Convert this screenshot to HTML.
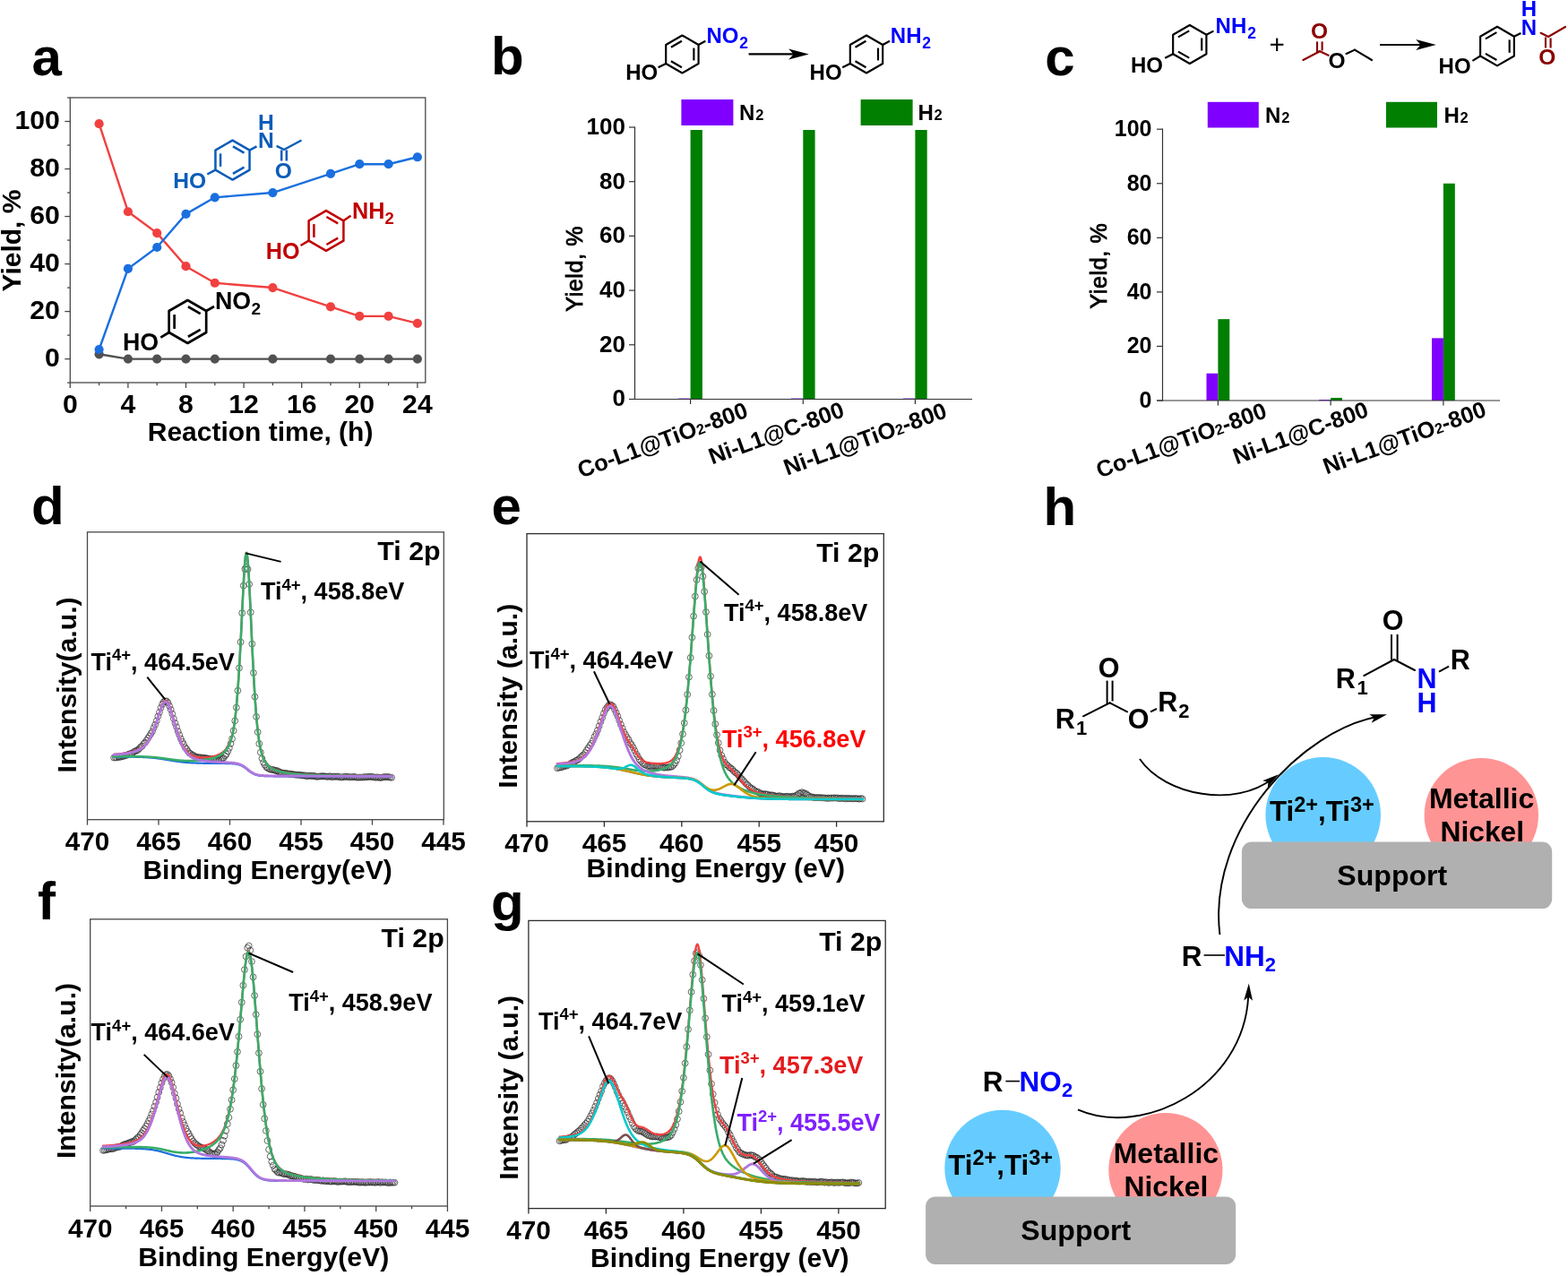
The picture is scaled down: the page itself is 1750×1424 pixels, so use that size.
<!DOCTYPE html>
<html lang="en"><head><meta charset="utf-8"><title>Figure</title>
<style>html,body{margin:0;padding:0;background:#fff}svg{display:block}</style>
</head><body>
<svg width="1750" height="1424" viewBox="0 0 1750 1424" font-family="'Liberation Sans', sans-serif" font-weight="bold">
<rect width="1750" height="1424" fill="#fff"/>
<text x="35.5" y="83.5" font-size="60">a</text>
<text x="548" y="82.8" font-size="60">b</text>
<text x="1166.3" y="84" font-size="60">c</text>
<text x="35" y="584.5" font-size="60">d</text>
<text x="548.5" y="585" font-size="60">e</text>
<text x="42" y="1026.3" font-size="60">f</text>
<text x="548" y="1027.3" font-size="60">g</text>
<text x="1164.4" y="585.5" font-size="60">h</text>
<g id="panel-a">
<rect x="78.3" y="109.0" width="396.5" height="318.0" fill="none" stroke="#484848" stroke-width="1.3"/>
<line x1="75.1" y1="427.11" x2="78.3" y2="427.11" stroke="#484848" stroke-width="1.3"/>
<line x1="72.3" y1="400.6" x2="78.3" y2="400.6" stroke="#484848" stroke-width="1.3"/>
<text x="66.9" y="409.4" font-size="30.2" text-anchor="end">0</text>
<line x1="75.1" y1="374.09" x2="78.3" y2="374.09" stroke="#484848" stroke-width="1.3"/>
<line x1="72.3" y1="347.58" x2="78.3" y2="347.58" stroke="#484848" stroke-width="1.3"/>
<text x="66.9" y="356.38" font-size="30.2" text-anchor="end">20</text>
<line x1="75.1" y1="321.07" x2="78.3" y2="321.07" stroke="#484848" stroke-width="1.3"/>
<line x1="72.3" y1="294.56" x2="78.3" y2="294.56" stroke="#484848" stroke-width="1.3"/>
<text x="66.9" y="303.36" font-size="30.2" text-anchor="end">40</text>
<line x1="75.1" y1="268.05" x2="78.3" y2="268.05" stroke="#484848" stroke-width="1.3"/>
<line x1="72.3" y1="241.54" x2="78.3" y2="241.54" stroke="#484848" stroke-width="1.3"/>
<text x="66.9" y="250.34" font-size="30.2" text-anchor="end">60</text>
<line x1="75.1" y1="215.03" x2="78.3" y2="215.03" stroke="#484848" stroke-width="1.3"/>
<line x1="72.3" y1="188.52" x2="78.3" y2="188.52" stroke="#484848" stroke-width="1.3"/>
<text x="66.9" y="197.32" font-size="30.2" text-anchor="end">80</text>
<line x1="75.1" y1="162.01" x2="78.3" y2="162.01" stroke="#484848" stroke-width="1.3"/>
<line x1="72.3" y1="135.5" x2="78.3" y2="135.5" stroke="#484848" stroke-width="1.3"/>
<text x="66.9" y="144.3" font-size="30.2" text-anchor="end">100</text>
<line x1="75.1" y1="108.99" x2="78.3" y2="108.99" stroke="#484848" stroke-width="1.3"/>
<line x1="78.3" y1="427" x2="78.3" y2="433" stroke="#484848" stroke-width="1.3"/>
<text x="78.3" y="461.2" font-size="30.2" text-anchor="middle">0</text>
<line x1="110.6" y1="427" x2="110.6" y2="430.2" stroke="#484848" stroke-width="1.3"/>
<line x1="142.9" y1="427" x2="142.9" y2="433" stroke="#484848" stroke-width="1.3"/>
<text x="142.9" y="461.2" font-size="30.2" text-anchor="middle">4</text>
<line x1="175.2" y1="427" x2="175.2" y2="430.2" stroke="#484848" stroke-width="1.3"/>
<line x1="207.5" y1="427" x2="207.5" y2="433" stroke="#484848" stroke-width="1.3"/>
<text x="207.5" y="461.2" font-size="30.2" text-anchor="middle">8</text>
<line x1="239.8" y1="427" x2="239.8" y2="430.2" stroke="#484848" stroke-width="1.3"/>
<line x1="272.1" y1="427" x2="272.1" y2="433" stroke="#484848" stroke-width="1.3"/>
<text x="272.1" y="461.2" font-size="30.2" text-anchor="middle">12</text>
<line x1="304.4" y1="427" x2="304.4" y2="430.2" stroke="#484848" stroke-width="1.3"/>
<line x1="336.7" y1="427" x2="336.7" y2="433" stroke="#484848" stroke-width="1.3"/>
<text x="336.7" y="461.2" font-size="30.2" text-anchor="middle">16</text>
<line x1="369" y1="427" x2="369" y2="430.2" stroke="#484848" stroke-width="1.3"/>
<line x1="401.3" y1="427" x2="401.3" y2="433" stroke="#484848" stroke-width="1.3"/>
<text x="401.3" y="461.2" font-size="30.2" text-anchor="middle">20</text>
<line x1="433.6" y1="427" x2="433.6" y2="430.2" stroke="#484848" stroke-width="1.3"/>
<line x1="465.9" y1="427" x2="465.9" y2="433" stroke="#484848" stroke-width="1.3"/>
<text x="465.9" y="461.2" font-size="30.2" text-anchor="middle">24</text>
<text x="290.6" y="492.3" font-size="30" text-anchor="middle">Reaction time, (h)</text>
<text x="0" y="0" font-size="30" text-anchor="middle" transform="translate(23 268.5) rotate(-90)">Yield, %</text>
<polyline points="110.6,395.3 142.9,400.6 175.2,400.6 207.5,400.6 239.8,400.6 304.4,400.6 369,400.6 401.3,400.6 433.6,400.6 465.9,400.6" fill="none" stroke="#515151" stroke-width="2.4" stroke-linejoin="round"/>
<circle cx="110.6" cy="395.3" r="5.1" fill="#515151"/>
<circle cx="142.9" cy="400.6" r="5.1" fill="#515151"/>
<circle cx="175.2" cy="400.6" r="5.1" fill="#515151"/>
<circle cx="207.5" cy="400.6" r="5.1" fill="#515151"/>
<circle cx="239.8" cy="400.6" r="5.1" fill="#515151"/>
<circle cx="304.4" cy="400.6" r="5.1" fill="#515151"/>
<circle cx="369" cy="400.6" r="5.1" fill="#515151"/>
<circle cx="401.3" cy="400.6" r="5.1" fill="#515151"/>
<circle cx="433.6" cy="400.6" r="5.1" fill="#515151"/>
<circle cx="465.9" cy="400.6" r="5.1" fill="#515151"/>
<polyline points="110.6,138.15 142.9,236.24 175.2,260.1 207.5,297.21 239.8,315.77 304.4,321.07 369,342.28 401.3,352.88 433.6,352.88 465.9,360.84" fill="none" stroke="#f14040" stroke-width="2.4" stroke-linejoin="round"/>
<circle cx="110.6" cy="138.15" r="5.1" fill="#f14040"/>
<circle cx="142.9" cy="236.24" r="5.1" fill="#f14040"/>
<circle cx="175.2" cy="260.1" r="5.1" fill="#f14040"/>
<circle cx="207.5" cy="297.21" r="5.1" fill="#f14040"/>
<circle cx="239.8" cy="315.77" r="5.1" fill="#f14040"/>
<circle cx="304.4" cy="321.07" r="5.1" fill="#f14040"/>
<circle cx="369" cy="342.28" r="5.1" fill="#f14040"/>
<circle cx="401.3" cy="352.88" r="5.1" fill="#f14040"/>
<circle cx="433.6" cy="352.88" r="5.1" fill="#f14040"/>
<circle cx="465.9" cy="360.84" r="5.1" fill="#f14040"/>
<polyline points="110.6,390 142.9,299.86 175.2,276 207.5,238.89 239.8,220.33 304.4,215.03 369,193.82 401.3,183.22 433.6,183.22 465.9,175.27" fill="none" stroke="#1a6fdf" stroke-width="2.4" stroke-linejoin="round"/>
<circle cx="110.6" cy="390" r="5.1" fill="#1a6fdf"/>
<circle cx="142.9" cy="299.86" r="5.1" fill="#1a6fdf"/>
<circle cx="175.2" cy="276" r="5.1" fill="#1a6fdf"/>
<circle cx="207.5" cy="238.89" r="5.1" fill="#1a6fdf"/>
<circle cx="239.8" cy="220.33" r="5.1" fill="#1a6fdf"/>
<circle cx="304.4" cy="215.03" r="5.1" fill="#1a6fdf"/>
<circle cx="369" cy="193.82" r="5.1" fill="#1a6fdf"/>
<circle cx="401.3" cy="183.22" r="5.1" fill="#1a6fdf"/>
<circle cx="433.6" cy="183.22" r="5.1" fill="#1a6fdf"/>
<circle cx="465.9" cy="175.27" r="5.1" fill="#1a6fdf"/>
<path d="M259.5 156.6 L278.55 167.6 L278.55 189.6 L259.5 200.6 L240.45 189.6 L240.45 167.6 Z" stroke="#0b5cb8" stroke-width="2.5" fill="none" stroke-linejoin="round"/>
<line x1="246.05" y1="185.86" x2="246.05" y2="171.34" stroke="#0b5cb8" stroke-width="2.5"/>
<line x1="259.94" y1="163.32" x2="272.51" y2="170.58" stroke="#0b5cb8" stroke-width="2.5"/>
<line x1="272.51" y1="186.62" x2="259.94" y2="193.88" stroke="#0b5cb8" stroke-width="2.5"/>
<line x1="278.55" y1="167.6" x2="286.5" y2="163.3" stroke="#0b5cb8" stroke-width="2.5"/>
<text x="288" y="165.3" font-size="24.6" fill="#0b5cb8">N</text>
<text x="288" y="144.6" font-size="24.6" fill="#0b5cb8">H</text>
<line x1="308.6" y1="162.8" x2="317" y2="167" stroke="#0b5cb8" stroke-width="2.5"/>
<line x1="317" y1="167" x2="335.6" y2="157" stroke="#0b5cb8" stroke-width="2.5" stroke-linecap="round"/>
<line x1="314.2" y1="167.5" x2="314.2" y2="179.5" stroke="#0b5cb8" stroke-width="2.5"/>
<line x1="319.8" y1="167.5" x2="319.8" y2="179.5" stroke="#0b5cb8" stroke-width="2.5"/>
<text x="306.8" y="198.8" font-size="24.6" fill="#0b5cb8">O</text>
<line x1="240.45" y1="189.6" x2="231.3" y2="194.5" stroke="#0b5cb8" stroke-width="2.5"/>
<text x="193.2" y="210.2" font-size="24.6" fill="#0b5cb8">HO</text>
<path d="M364 235.1 L383.4 246.3 L383.4 268.7 L364 279.9 L344.6 268.7 L344.6 246.3 Z" stroke="#c00000" stroke-width="2.5" fill="none" stroke-linejoin="round"/>
<line x1="350.4" y1="264.89" x2="350.4" y2="250.11" stroke="#c00000" stroke-width="2.5"/>
<line x1="364.4" y1="242.03" x2="377.2" y2="249.42" stroke="#c00000" stroke-width="2.5"/>
<line x1="377.2" y1="265.58" x2="364.4" y2="272.97" stroke="#c00000" stroke-width="2.5"/>
<line x1="383.4" y1="246.3" x2="391.5" y2="240.8" stroke="#c00000" stroke-width="2.5"/>
<text x="393" y="244" font-size="25.2" fill="#c00000">NH</text>
<text x="429.4" y="249.8" font-size="18.5" fill="#c00000">2</text>
<line x1="344.6" y1="268.7" x2="335.5" y2="274" stroke="#c00000" stroke-width="2.5"/>
<text x="296.7" y="289.2" font-size="25.2" fill="#c00000">HO</text>
<path d="M209.4 335 L230.18 347 L230.18 371 L209.4 383 L188.62 371 L188.62 347 Z" stroke="#000" stroke-width="2.7" fill="none" stroke-linejoin="round"/>
<line x1="194.62" y1="366.92" x2="194.62" y2="351.08" stroke="#000" stroke-width="2.7"/>
<line x1="209.93" y1="342.24" x2="223.65" y2="350.16" stroke="#000" stroke-width="2.7"/>
<line x1="223.65" y1="367.84" x2="209.93" y2="375.76" stroke="#000" stroke-width="2.7"/>
<line x1="230.18" y1="347" x2="239" y2="342" stroke="#000" stroke-width="2.7"/>
<text x="240" y="345.2" font-size="26.8">NO</text>
<text x="280.6" y="350.8" font-size="19">2</text>
<line x1="188.62" y1="371" x2="179.3" y2="376.6" stroke="#000" stroke-width="2.7"/>
<text x="137" y="391.4" font-size="26.8">HO</text>
</g>
<g id="panel-b">
<rect x="757.3" y="444.59" width="13.3" height="0.91" fill="#7f00ff"/>
<rect x="770.6" y="145.03" width="13.3" height="300.47" fill="#007f00"/>
<rect x="883" y="444.59" width="13.3" height="0.91" fill="#7f00ff"/>
<rect x="896.3" y="145.03" width="13.3" height="300.47" fill="#007f00"/>
<rect x="1008.1" y="444.59" width="13.3" height="0.91" fill="#7f00ff"/>
<rect x="1021.4" y="145.03" width="13.3" height="300.47" fill="#007f00"/>
<line x1="708.5" y1="141.4" x2="708.5" y2="446.1" stroke="#333" stroke-width="1.2"/>
<line x1="702.5" y1="445.5" x2="1085" y2="445.5" stroke="#333" stroke-width="1.2"/>
<line x1="702" y1="445.5" x2="708.5" y2="445.5" stroke="#333" stroke-width="1.2"/>
<text x="698" y="453.46" font-size="26" text-anchor="end">0</text>
<line x1="702" y1="384.8" x2="708.5" y2="384.8" stroke="#333" stroke-width="1.2"/>
<text x="698" y="392.76" font-size="26" text-anchor="end">20</text>
<line x1="702" y1="324.1" x2="708.5" y2="324.1" stroke="#333" stroke-width="1.2"/>
<text x="698" y="332.06" font-size="26" text-anchor="end">40</text>
<line x1="702" y1="263.4" x2="708.5" y2="263.4" stroke="#333" stroke-width="1.2"/>
<text x="698" y="271.36" font-size="26" text-anchor="end">60</text>
<line x1="702" y1="202.7" x2="708.5" y2="202.7" stroke="#333" stroke-width="1.2"/>
<text x="698" y="210.66" font-size="26" text-anchor="end">80</text>
<line x1="702" y1="142" x2="708.5" y2="142" stroke="#333" stroke-width="1.2"/>
<text x="698" y="149.96" font-size="26" text-anchor="end">100</text>
<line x1="770.6" y1="445.5" x2="770.6" y2="451" stroke="#333" stroke-width="1.2"/>
<line x1="896.3" y1="445.5" x2="896.3" y2="451" stroke="#333" stroke-width="1.2"/>
<line x1="1021.4" y1="445.5" x2="1021.4" y2="451" stroke="#333" stroke-width="1.2"/>
<text x="0" y="0" font-size="25.1" text-anchor="middle" font-weight="normal" transform="translate(650 299.8) rotate(-90)" stroke="#000" stroke-width="0.85" letter-spacing="0.6">Yield, %</text>
<text x="0" y="0" font-size="25.6" text-anchor="end" transform="translate(836.3 464.8) rotate(-20.2)">Co-L1@TiO<tspan font-size="0.64em">2</tspan>-800</text>
<text x="0" y="0" font-size="25.6" text-anchor="end" transform="translate(943.8 464.3) rotate(-20)">Ni-L1@C-800</text>
<text x="0" y="0" font-size="25.6" text-anchor="end" transform="translate(1058.4 465.3) rotate(-20)">Ni-L1@TiO<tspan font-size="0.64em">2</tspan>-800</text>
<rect x="760.4" y="111" width="58" height="29" fill="#7f00ff"/>
<text x="825" y="134.2" font-size="24">N<tspan font-size="16.5" dx="0.8">2</tspan></text>
<rect x="960.6" y="111" width="58" height="29" fill="#007f00"/>
<text x="1024.4" y="134.2" font-size="24">H<tspan font-size="16.5" dx="0.8">2</tspan></text>
</g>
<g id="panel-c">
<rect x="1346.5" y="416.72" width="12.9" height="30.28" fill="#7f00ff"/>
<rect x="1359.4" y="356.16" width="12.9" height="90.84" fill="#007f00"/>
<rect x="1472.2" y="446.09" width="12.9" height="0.91" fill="#7f00ff"/>
<rect x="1485.1" y="443.97" width="12.9" height="3.03" fill="#007f00"/>
<rect x="1598" y="377.36" width="12.9" height="69.64" fill="#7f00ff"/>
<rect x="1610.9" y="204.76" width="12.9" height="242.24" fill="#007f00"/>
<line x1="1297.5" y1="143.6" x2="1297.5" y2="447.6" stroke="#333" stroke-width="1.2"/>
<line x1="1291" y1="447" x2="1674" y2="447" stroke="#333" stroke-width="1.2"/>
<line x1="1291" y1="447" x2="1297.5" y2="447" stroke="#333" stroke-width="1.2"/>
<text x="1285.5" y="454.9" font-size="25" text-anchor="end">0</text>
<line x1="1291" y1="386.44" x2="1297.5" y2="386.44" stroke="#333" stroke-width="1.2"/>
<text x="1285.5" y="394.34" font-size="25" text-anchor="end">20</text>
<line x1="1291" y1="325.88" x2="1297.5" y2="325.88" stroke="#333" stroke-width="1.2"/>
<text x="1285.5" y="333.78" font-size="25" text-anchor="end">40</text>
<line x1="1291" y1="265.32" x2="1297.5" y2="265.32" stroke="#333" stroke-width="1.2"/>
<text x="1285.5" y="273.22" font-size="25" text-anchor="end">60</text>
<line x1="1291" y1="204.76" x2="1297.5" y2="204.76" stroke="#333" stroke-width="1.2"/>
<text x="1285.5" y="212.66" font-size="25" text-anchor="end">80</text>
<line x1="1291" y1="144.2" x2="1297.5" y2="144.2" stroke="#333" stroke-width="1.2"/>
<text x="1285.5" y="152.1" font-size="25" text-anchor="end">100</text>
<line x1="1359.4" y1="447" x2="1359.4" y2="452.5" stroke="#333" stroke-width="1.2"/>
<line x1="1485.1" y1="447" x2="1485.1" y2="452.5" stroke="#333" stroke-width="1.2"/>
<line x1="1610.9" y1="447" x2="1610.9" y2="452.5" stroke="#333" stroke-width="1.2"/>
<text x="0" y="0" font-size="25.1" text-anchor="middle" font-weight="normal" transform="translate(1235.2 296.6) rotate(-90)" stroke="#000" stroke-width="0.85" letter-spacing="0.6">Yield, %</text>
<text x="0" y="0" font-size="25.6" text-anchor="end" transform="translate(1415.3 465.3) rotate(-20)">Co-L1@TiO<tspan font-size="0.64em">2</tspan>-800</text>
<text x="0" y="0" font-size="25.6" text-anchor="end" transform="translate(1529 464.2) rotate(-20)">Ni-L1@C-800</text>
<text x="0" y="0" font-size="25.6" text-anchor="end" transform="translate(1660.5 464) rotate(-20)">Ni-L1@TiO<tspan font-size="0.64em">2</tspan>-800</text>
<rect x="1347.8" y="113.8" width="57" height="28.7" fill="#7f00ff"/>
<text x="1412" y="136.5" font-size="24">N<tspan font-size="16.5" dx="0.8">2</tspan></text>
<rect x="1547" y="113.8" width="57" height="28.7" fill="#007f00"/>
<text x="1611.4" y="136.5" font-size="24">H<tspan font-size="16.5" dx="0.8">2</tspan></text>
</g>
<g id="scheme-b">
<path d="M761.4 39.5 L779.59 50 L779.59 71 L761.4 81.5 L743.21 71 L743.21 50 Z" stroke="#000" stroke-width="2.15" fill="none" stroke-linejoin="round"/>
<line x1="748.91" y1="52.72" x2="760.91" y2="45.79" stroke="#000" stroke-width="2.15"/>
<line x1="774.39" y1="53.57" x2="774.39" y2="67.43" stroke="#000" stroke-width="2.15"/>
<line x1="760.91" y1="75.21" x2="748.91" y2="68.28" stroke="#000" stroke-width="2.15"/>
<line x1="779.59" y1="50" x2="787.4" y2="45.8" stroke="#000" stroke-width="2.15"/>
<text x="788.4" y="48.2" font-size="24" fill="#0000ff">NO</text>
<text x="825.2" y="53.8" font-size="17.5" fill="#0000ff">2</text>
<line x1="743.21" y1="71" x2="734.6" y2="75.2" stroke="#000" stroke-width="2.15"/>
<text x="698.2" y="89.2" font-size="24">HO</text>
<line x1="835.6" y1="60.4" x2="888" y2="60.4" stroke="#000" stroke-width="2.15"/>
<path d="M902.8 60.4 L880.2 66.4 L885.62 60.4 L880.2 54.4 Z" fill="#000"/>
<path d="M967 39.5 L985.19 50 L985.19 71 L967 81.5 L948.81 71 L948.81 50 Z" stroke="#000" stroke-width="2.15" fill="none" stroke-linejoin="round"/>
<line x1="954.51" y1="52.72" x2="966.51" y2="45.79" stroke="#000" stroke-width="2.15"/>
<line x1="979.99" y1="53.57" x2="979.99" y2="67.43" stroke="#000" stroke-width="2.15"/>
<line x1="966.51" y1="75.21" x2="954.51" y2="68.28" stroke="#000" stroke-width="2.15"/>
<line x1="985.19" y1="50" x2="993" y2="45.8" stroke="#000" stroke-width="2.15"/>
<text x="993.8" y="48.2" font-size="24" fill="#0000ff">NH</text>
<text x="1029.2" y="53.8" font-size="17.5" fill="#0000ff">2</text>
<line x1="948.81" y1="71" x2="940.2" y2="75.2" stroke="#000" stroke-width="2.15"/>
<text x="903.6" y="89.2" font-size="24">HO</text>
</g>
<g id="scheme-c">
<path d="M1327.8 28 L1346.42 38.75 L1346.42 60.25 L1327.8 71 L1309.18 60.25 L1309.18 38.75 Z" stroke="#000" stroke-width="2.15" fill="none" stroke-linejoin="round"/>
<line x1="1314.95" y1="41.43" x2="1327.23" y2="34.33" stroke="#000" stroke-width="2.15"/>
<line x1="1341.22" y1="42.41" x2="1341.22" y2="56.59" stroke="#000" stroke-width="2.15"/>
<line x1="1327.23" y1="64.67" x2="1314.95" y2="57.57" stroke="#000" stroke-width="2.15"/>
<line x1="1346.42" y1="38.75" x2="1354.4" y2="34.6" stroke="#000" stroke-width="2.15"/>
<text x="1356.6" y="37.2" font-size="24" fill="#0000ff">NH</text>
<text x="1392.2" y="42.8" font-size="17.5" fill="#0000ff">2</text>
<line x1="1309.18" y1="60.25" x2="1300.2" y2="64.8" stroke="#000" stroke-width="2.15"/>
<text x="1262" y="81.2" font-size="24">HO</text>
<line x1="1418" y1="49.8" x2="1432.4" y2="49.8" stroke="#000" stroke-width="2.1"/>
<line x1="1425.2" y1="42.6" x2="1425.2" y2="57" stroke="#000" stroke-width="2.1"/>
<text x="1463" y="43" font-size="24.5" fill="#8b0000">O</text>
<line x1="1470" y1="46.4" x2="1470" y2="58" stroke="#8b0000" stroke-width="2.15"/>
<line x1="1475.6" y1="46.4" x2="1475.6" y2="56.5" stroke="#8b0000" stroke-width="2.15"/>
<line x1="1473" y1="57.3" x2="1454.4" y2="67" stroke="#8b0000" stroke-width="2.15" stroke-linecap="round"/>
<line x1="1472.5" y1="57" x2="1482.6" y2="61.8" stroke="#8b0000" stroke-width="2.15" stroke-linecap="round"/>
<text x="1482.5" y="75.8" font-size="24.5">O</text>
<line x1="1502.6" y1="60" x2="1512" y2="55.6" stroke="#000" stroke-width="2.15" stroke-linecap="round"/>
<line x1="1512" y1="55.6" x2="1531" y2="67" stroke="#000" stroke-width="2.15" stroke-linecap="round"/>
<line x1="1540" y1="50" x2="1588" y2="50" stroke="#000" stroke-width="2.15"/>
<path d="M1602.8 50 L1580.2 56 L1585.62 50 L1580.2 44 Z" fill="#000"/>
<path d="M1671 29.8 L1689.88 40.7 L1689.88 62.5 L1671 73.4 L1652.12 62.5 L1652.12 40.7 Z" stroke="#000" stroke-width="2.15" fill="none" stroke-linejoin="round"/>
<line x1="1657.93" y1="43.35" x2="1670.39" y2="36.16" stroke="#000" stroke-width="2.15"/>
<line x1="1684.68" y1="44.41" x2="1684.68" y2="58.79" stroke="#000" stroke-width="2.15"/>
<line x1="1670.39" y1="67.04" x2="1657.93" y2="59.85" stroke="#000" stroke-width="2.15"/>
<line x1="1689.88" y1="40.7" x2="1697.4" y2="37" stroke="#000" stroke-width="2.15"/>
<text x="1697.7" y="39.2" font-size="24" fill="#0000ff">N</text>
<text x="1697.7" y="18.2" font-size="24" fill="#0000ff">H</text>
<line x1="1719.6" y1="36.8" x2="1728" y2="41" stroke="#8b0000" stroke-width="2.15" stroke-linecap="round"/>
<line x1="1728" y1="41" x2="1747" y2="30" stroke="#8b0000" stroke-width="2.15" stroke-linecap="round"/>
<line x1="1725" y1="41.5" x2="1725" y2="53.5" stroke="#8b0000" stroke-width="2.15"/>
<line x1="1730.6" y1="42.5" x2="1730.6" y2="53.5" stroke="#8b0000" stroke-width="2.15"/>
<text x="1717.3" y="71.8" font-size="24.5" fill="#8b0000">O</text>
<line x1="1652.12" y1="62.5" x2="1643.4" y2="67.8" stroke="#000" stroke-width="2.15"/>
<text x="1605.6" y="82.2" font-size="24">HO</text>
</g>
<g id="panel-d">
<g fill="none" stroke="#262626" stroke-width="0.7"><circle cx="127.07" cy="845.6" r="3.4"/><circle cx="128.66" cy="845.26" r="3.4"/><circle cx="130.25" cy="845.58" r="3.4"/><circle cx="131.84" cy="844.79" r="3.4"/><circle cx="133.43" cy="845.01" r="3.4"/><circle cx="135.02" cy="844.55" r="3.4"/><circle cx="136.61" cy="843.91" r="3.4"/><circle cx="138.2" cy="843.97" r="3.4"/><circle cx="139.79" cy="843.05" r="3.4"/><circle cx="141.38" cy="842.92" r="3.4"/><circle cx="142.97" cy="841.97" r="3.4"/><circle cx="144.56" cy="841.34" r="3.4"/><circle cx="146.15" cy="840.97" r="3.4"/><circle cx="147.74" cy="840.6" r="3.4"/><circle cx="149.33" cy="839.06" r="3.4"/><circle cx="150.92" cy="838.24" r="3.4"/><circle cx="152.51" cy="837.62" r="3.4"/><circle cx="154.1" cy="836.79" r="3.4"/><circle cx="155.69" cy="835.12" r="3.4"/><circle cx="157.28" cy="833.49" r="3.4"/><circle cx="158.87" cy="832.46" r="3.4"/><circle cx="160.46" cy="829.77" r="3.4"/><circle cx="162.05" cy="828.69" r="3.4"/><circle cx="163.64" cy="826.08" r="3.4"/><circle cx="165.23" cy="823.73" r="3.4"/><circle cx="166.82" cy="821.29" r="3.4"/><circle cx="168.41" cy="818.79" r="3.4"/><circle cx="170" cy="816.25" r="3.4"/><circle cx="171.59" cy="812.16" r="3.4"/><circle cx="173.18" cy="808.66" r="3.4"/><circle cx="174.77" cy="804.4" r="3.4"/><circle cx="176.36" cy="799.49" r="3.4"/><circle cx="177.95" cy="794.91" r="3.4"/><circle cx="179.54" cy="789.87" r="3.4"/><circle cx="181.13" cy="785.92" r="3.4"/><circle cx="182.72" cy="783.21" r="3.4"/><circle cx="184.31" cy="782.34" r="3.4"/><circle cx="185.9" cy="782.44" r="3.4"/><circle cx="187.49" cy="784.27" r="3.4"/><circle cx="189.08" cy="787.81" r="3.4"/><circle cx="190.67" cy="791.92" r="3.4"/><circle cx="192.26" cy="796.59" r="3.4"/><circle cx="193.85" cy="802.12" r="3.4"/><circle cx="195.44" cy="807.02" r="3.4"/><circle cx="197.03" cy="811.34" r="3.4"/><circle cx="198.62" cy="816.13" r="3.4"/><circle cx="200.21" cy="820.22" r="3.4"/><circle cx="201.8" cy="824.39" r="3.4"/><circle cx="203.39" cy="827.75" r="3.4"/><circle cx="204.98" cy="830.51" r="3.4"/><circle cx="206.57" cy="834.08" r="3.4"/><circle cx="208.16" cy="835.76" r="3.4"/><circle cx="209.75" cy="838.23" r="3.4"/><circle cx="211.34" cy="840.37" r="3.4"/><circle cx="212.93" cy="841.21" r="3.4"/><circle cx="214.52" cy="842.66" r="3.4"/><circle cx="216.11" cy="843.06" r="3.4"/><circle cx="217.7" cy="844.32" r="3.4"/><circle cx="219.29" cy="844.89" r="3.4"/><circle cx="220.88" cy="845.04" r="3.4"/><circle cx="222.47" cy="845.6" r="3.4"/><circle cx="224.06" cy="845.24" r="3.4"/><circle cx="225.65" cy="845.79" r="3.4"/><circle cx="227.24" cy="845.84" r="3.4"/><circle cx="228.83" cy="845.99" r="3.4"/><circle cx="230.42" cy="846.05" r="3.4"/><circle cx="232.01" cy="846.66" r="3.4"/><circle cx="233.6" cy="847.03" r="3.4"/><circle cx="235.19" cy="846.88" r="3.4"/><circle cx="236.78" cy="847.43" r="3.4"/><circle cx="238.37" cy="847.19" r="3.4"/><circle cx="239.96" cy="848.16" r="3.4"/><circle cx="241.55" cy="848.34" r="3.4"/><circle cx="243.14" cy="848.78" r="3.4"/><circle cx="244.73" cy="848.46" r="3.4"/><circle cx="246.32" cy="847.48" r="3.4"/><circle cx="247.91" cy="846.77" r="3.4"/><circle cx="249.5" cy="845.82" r="3.4"/><circle cx="251.09" cy="843.45" r="3.4"/><circle cx="252.68" cy="841.64" r="3.4"/><circle cx="254.27" cy="838.46" r="3.4"/><circle cx="255.86" cy="834.73" r="3.4"/><circle cx="257.45" cy="829.93" r="3.4"/><circle cx="259.04" cy="824.42" r="3.4"/><circle cx="260.63" cy="815.47" r="3.4"/><circle cx="262.22" cy="804.4" r="3.4"/><circle cx="263.81" cy="789.61" r="3.4"/><circle cx="265.4" cy="770.63" r="3.4"/><circle cx="266.99" cy="745.37" r="3.4"/><circle cx="268.58" cy="716.5" r="3.4"/><circle cx="270.17" cy="684.14" r="3.4"/><circle cx="271.76" cy="653.59" r="3.4"/><circle cx="273.35" cy="635.11" r="3.4"/><circle cx="274.94" cy="632.83" r="3.4"/><circle cx="276.53" cy="635.21" r="3.4"/><circle cx="278.12" cy="652.02" r="3.4"/><circle cx="279.71" cy="683.32" r="3.4"/><circle cx="281.3" cy="718.62" r="3.4"/><circle cx="282.89" cy="750.91" r="3.4"/><circle cx="284.48" cy="777.6" r="3.4"/><circle cx="286.07" cy="799.82" r="3.4"/><circle cx="287.66" cy="817.05" r="3.4"/><circle cx="289.25" cy="829.94" r="3.4"/><circle cx="290.84" cy="839.64" r="3.4"/><circle cx="292.43" cy="846.5" r="3.4"/><circle cx="294.02" cy="850.86" r="3.4"/><circle cx="295.61" cy="853.71" r="3.4"/><circle cx="297.2" cy="856.07" r="3.4"/><circle cx="298.79" cy="857.15" r="3.4"/><circle cx="300.38" cy="857.99" r="3.4"/><circle cx="301.97" cy="858.8" r="3.4"/><circle cx="303.56" cy="858.91" r="3.4"/><circle cx="305.15" cy="859.15" r="3.4"/><circle cx="306.74" cy="859.72" r="3.4"/><circle cx="308.33" cy="860.3" r="3.4"/><circle cx="309.92" cy="860.22" r="3.4"/><circle cx="311.51" cy="861.59" r="3.4"/><circle cx="313.1" cy="861.97" r="3.4"/><circle cx="314.69" cy="862.52" r="3.4"/><circle cx="316.28" cy="862.87" r="3.4"/><circle cx="317.87" cy="862.84" r="3.4"/><circle cx="319.46" cy="863.2" r="3.4"/><circle cx="321.05" cy="863.22" r="3.4"/><circle cx="322.64" cy="864.04" r="3.4"/><circle cx="324.23" cy="863.72" r="3.4"/><circle cx="325.82" cy="863.96" r="3.4"/><circle cx="327.41" cy="864.32" r="3.4"/><circle cx="329" cy="864.46" r="3.4"/><circle cx="330.59" cy="864.82" r="3.4"/><circle cx="332.18" cy="864.69" r="3.4"/><circle cx="333.77" cy="864.78" r="3.4"/><circle cx="335.36" cy="865.07" r="3.4"/><circle cx="336.95" cy="865.14" r="3.4"/><circle cx="338.54" cy="865.51" r="3.4"/><circle cx="340.13" cy="865.28" r="3.4"/><circle cx="341.72" cy="866.22" r="3.4"/><circle cx="343.31" cy="866.05" r="3.4"/><circle cx="344.9" cy="865.67" r="3.4"/><circle cx="346.49" cy="865.85" r="3.4"/><circle cx="348.08" cy="866.01" r="3.4"/><circle cx="349.67" cy="866.09" r="3.4"/><circle cx="351.26" cy="865.91" r="3.4"/><circle cx="352.85" cy="866.7" r="3.4"/><circle cx="354.44" cy="866.9" r="3.4"/><circle cx="356.03" cy="866.42" r="3.4"/><circle cx="357.62" cy="866.49" r="3.4"/><circle cx="359.21" cy="866.13" r="3.4"/><circle cx="360.8" cy="866.19" r="3.4"/><circle cx="362.39" cy="866.48" r="3.4"/><circle cx="363.98" cy="866.44" r="3.4"/><circle cx="365.57" cy="867.04" r="3.4"/><circle cx="367.16" cy="866.4" r="3.4"/><circle cx="368.75" cy="866.3" r="3.4"/><circle cx="370.34" cy="867.26" r="3.4"/><circle cx="371.93" cy="866.86" r="3.4"/><circle cx="373.52" cy="866.51" r="3.4"/><circle cx="375.11" cy="866.94" r="3.4"/><circle cx="376.7" cy="866.45" r="3.4"/><circle cx="378.29" cy="866.97" r="3.4"/><circle cx="379.88" cy="867.45" r="3.4"/><circle cx="381.47" cy="867.35" r="3.4"/><circle cx="383.06" cy="867.21" r="3.4"/><circle cx="384.65" cy="866.79" r="3.4"/><circle cx="386.24" cy="866.92" r="3.4"/><circle cx="387.83" cy="866.74" r="3.4"/><circle cx="389.42" cy="867.36" r="3.4"/><circle cx="391.01" cy="867.14" r="3.4"/><circle cx="392.6" cy="867.4" r="3.4"/><circle cx="394.19" cy="866.97" r="3.4"/><circle cx="395.78" cy="866.88" r="3.4"/><circle cx="397.37" cy="867.48" r="3.4"/><circle cx="398.96" cy="867.67" r="3.4"/><circle cx="400.55" cy="867.55" r="3.4"/><circle cx="402.14" cy="867.52" r="3.4"/><circle cx="403.73" cy="867.55" r="3.4"/><circle cx="405.32" cy="867.48" r="3.4"/><circle cx="406.91" cy="866.98" r="3.4"/><circle cx="408.5" cy="867.28" r="3.4"/><circle cx="410.09" cy="867.13" r="3.4"/><circle cx="411.68" cy="866.82" r="3.4"/><circle cx="413.27" cy="866.83" r="3.4"/><circle cx="414.86" cy="867.09" r="3.4"/><circle cx="416.45" cy="867.08" r="3.4"/><circle cx="418.04" cy="867.52" r="3.4"/><circle cx="419.63" cy="867.79" r="3.4"/><circle cx="421.22" cy="867.29" r="3.4"/><circle cx="422.81" cy="867.79" r="3.4"/><circle cx="424.4" cy="867.85" r="3.4"/><circle cx="425.99" cy="867.83" r="3.4"/><circle cx="427.58" cy="867.25" r="3.4"/><circle cx="429.17" cy="867.11" r="3.4"/><circle cx="430.76" cy="867.12" r="3.4"/><circle cx="432.35" cy="867.1" r="3.4"/><circle cx="433.94" cy="867.12" r="3.4"/><circle cx="435.53" cy="867.54" r="3.4"/><circle cx="437.12" cy="867.83" r="3.4"/></g>
<polyline points="127.07,841.86 127.71,841.81 128.35,841.76 128.98,841.7 129.62,841.65 130.25,841.59 130.89,841.53 131.53,841.47 132.16,841.41 132.8,841.35 133.43,841.28 134.07,841.22 134.71,841.15 135.34,841.07 135.98,841 136.61,840.92 137.25,840.84 137.89,840.76 138.52,840.67 139.16,840.58 139.79,840.49 140.43,840.39 141.07,840.29 141.7,840.19 142.34,840.08 142.97,839.97 143.61,839.85 144.25,839.73 144.88,839.6 145.52,839.46 146.15,839.32 146.79,839.18 147.43,839.02 148.06,838.86 148.7,838.69 149.33,838.51 149.97,838.32 150.61,838.12 151.24,837.9 151.88,837.68 152.51,837.44 153.15,837.18 153.79,836.91 154.42,836.62 155.06,836.31 155.69,835.98 156.33,835.63 156.97,835.25 157.6,834.85 158.24,834.41 158.87,833.95 159.51,833.45 160.15,832.91 160.78,832.34 161.42,831.72 162.05,831.06 162.69,830.35 163.33,829.6 163.96,828.79 164.6,827.92 165.23,827 165.87,826.02 166.51,824.97 167.14,823.86 167.78,822.68 168.41,821.43 169.05,820.12 169.69,818.73 170.32,817.27 170.96,815.73 171.59,814.13 172.23,812.46 172.87,810.72 173.5,808.91 174.14,807.06 174.77,805.15 175.41,803.2 176.05,801.22 176.68,799.22 177.32,797.23 177.95,795.25 178.59,793.31 179.23,791.44 179.86,789.66 180.5,788.01 181.13,786.5 181.77,785.18 182.41,784.06 183.04,783.19 183.68,782.57 184.31,782.23 184.95,782.17 185.59,782.39 186.22,782.88 186.86,783.62 187.49,784.61 188.13,785.81 188.77,787.22 189.4,788.81 190.04,790.56 190.67,792.43 191.31,794.41 191.95,796.47 192.58,798.59 193.22,800.75 193.85,802.93 194.49,805.12 195.13,807.29 195.76,809.43 196.4,811.55 197.03,813.61 197.67,815.62 198.31,817.57 198.94,819.46 199.58,821.27 200.21,823 200.85,824.66 201.49,826.24 202.12,827.73 202.76,829.15 203.39,830.48 204.03,831.73 204.67,832.91 205.3,834.01 205.94,835.03 206.57,835.98 207.21,836.86 207.85,837.68 208.48,838.43 209.12,839.13 209.75,839.77 210.39,840.35 211.03,840.89 211.66,841.38 212.3,841.82 212.93,842.23 213.57,842.6 214.21,842.93 214.84,843.23 215.48,843.51 216.11,843.75 216.75,843.98 217.39,844.18 218.02,844.36 218.66,844.52 219.29,844.66 219.93,844.79 220.57,844.9 221.2,844.99 221.84,845.08 222.47,845.15 223.11,845.21 223.75,845.26 224.38,845.31 225.02,845.34 225.65,845.36 226.29,845.37 226.93,845.38 227.56,845.37 228.2,845.36 228.83,845.34 229.47,845.32 230.11,845.28 230.74,845.24 231.38,845.19 232.01,845.13 232.65,845.06 233.29,844.99 233.92,844.9 234.56,844.81 235.19,844.71 235.83,844.6 236.47,844.47 237.1,844.34 237.74,844.2 238.37,844.05 239.01,843.89 239.65,843.71 240.28,843.52 240.92,843.32 241.55,843.1 242.19,842.87 242.83,842.62 243.46,842.36 244.1,842.07 244.73,841.77 245.37,841.45 246.01,841.1 246.64,840.73 247.28,840.33 247.91,839.9 248.55,839.44 249.19,838.95 249.82,838.42 250.46,837.84 251.09,837.22 251.73,836.54 252.37,835.81 253,835 253.64,834.11 254.27,833.13 254.91,832.04 255.55,830.83 256.18,829.46 256.82,827.93 257.45,826.19 258.09,824.21 258.73,821.97 259.36,819.4 260,816.47 260.63,813.12 261.27,809.3 261.91,804.96 262.54,800.02 263.18,794.45 263.81,788.17 264.45,781.16 265.09,773.35 265.72,764.73 266.36,755.29 266.99,745.02 267.63,733.95 268.27,722.16 268.9,709.74 269.54,696.84 270.17,683.68 270.81,670.55 271.45,657.8 272.08,645.88 272.72,635.32 273.35,626.65 273.99,620.4 274.63,617 275.26,616.71 275.9,619.54 276.53,625.29 277.17,633.64 277.81,644.11 278.44,656.2 279.08,669.38 279.71,683.19 280.35,697.21 280.99,711.13 281.62,724.68 282.26,737.66 282.89,749.95 283.53,761.44 284.17,772.07 284.8,781.82 285.44,790.68 286.07,798.67 286.71,805.83 287.35,812.19 287.98,817.82 288.62,822.77 289.25,827.1 289.89,830.88 290.53,834.18 291.16,837.04 291.8,839.53 292.43,841.7 293.07,843.59 293.71,845.24 294.34,846.7 294.98,847.98 295.61,849.12 296.25,850.14 296.89,851.05 297.52,851.88 298.16,852.63 298.79,853.31 299.43,853.94 300.07,854.52 300.7,855.06 301.34,855.56 301.97,856.02 302.61,856.45 303.25,856.86 303.88,857.24 304.52,857.6 305.15,857.93 305.79,858.25 306.43,858.55 307.06,858.83 307.7,859.1 308.33,859.35 308.97,859.59 309.61,859.81 310.24,860.03 310.88,860.23 311.51,860.43 312.15,860.61 312.79,860.79 313.42,860.96 314.06,861.12 314.69,861.27 315.33,861.42 315.97,861.56 316.6,861.69 317.24,861.82 317.87,861.94 318.51,862.06 319.15,862.17 319.78,862.28 320.42,862.39 321.05,862.49 321.69,862.58 322.33,862.67 322.96,862.76 323.6,862.85 324.23,862.93 324.87,863.01 325.51,863.09 326.14,863.16 326.78,863.23 327.41,863.3 328.05,863.37 328.69,863.43 329.32,863.49 329.96,863.55 330.59,863.61 331.23,863.67 331.87,863.72 332.5,863.77 333.14,863.83 333.77,863.88 334.41,863.92 335.05,863.97 335.68,864.01 336.32,864.06 336.95,864.1 337.59,864.14 338.23,864.18 338.86,864.22 339.5,864.26 340.13,864.3 340.77,864.33 341.41,864.37 342.04,864.4 342.68,864.43 343.31,864.46 343.95,864.5 344.59,864.53 345.22,864.56 345.86,864.58 346.49,864.61 347.13,864.64 347.77,864.67 348.4,864.69 349.04,864.72 349.67,864.74 350.31,864.77 350.95,864.79 351.58,864.81 352.22,864.84 352.85,864.86 353.49,864.88 354.13,864.9 354.76,864.92 355.4,864.94 356.03,864.96 356.67,864.98 357.31,865 357.94,865.02 358.58,865.04 359.21,865.05 359.85,865.07 360.49,865.09 361.12,865.1 361.76,865.12 362.39,865.14 363.03,865.15 363.67,865.17 364.3,865.18 364.94,865.2 365.57,865.21 366.21,865.22 366.85,865.24 367.48,865.25 368.12,865.26 368.75,865.28 369.39,865.29 370.03,865.3 370.66,865.31 371.3,865.33 371.93,865.34 372.57,865.35 373.21,865.36 373.84,865.37 374.48,865.38 375.11,865.39 375.75,865.4 376.39,865.41 377.02,865.42 377.66,865.43 378.29,865.44 378.93,865.45 379.57,865.46 380.2,865.47 380.84,865.48 381.47,865.49 382.11,865.5 382.75,865.51 383.38,865.52 384.02,865.52 384.65,865.53 385.29,865.54 385.93,865.55 386.56,865.56 387.2,865.56 387.83,865.57 388.47,865.58 389.11,865.59 389.74,865.59 390.38,865.6 391.01,865.61 391.65,865.62 392.29,865.62 392.92,865.63 393.56,865.64 394.19,865.64 394.83,865.65 395.47,865.65 396.1,865.66 396.74,865.67 397.37,865.67 398.01,865.68 398.65,865.68 399.28,865.69 399.92,865.7 400.55,865.7 401.19,865.71 401.83,865.71 402.46,865.72 403.1,865.72 403.73,865.73 404.37,865.73 405.01,865.74 405.64,865.74 406.28,865.75 406.91,865.75 407.55,865.76 408.19,865.76 408.82,865.77 409.46,865.77 410.09,865.78 410.73,865.78 411.37,865.79 412,865.79 412.64,865.79 413.27,865.8 413.91,865.8 414.55,865.81 415.18,865.81 415.82,865.82 416.45,865.82 417.09,865.82 417.73,865.83 418.36,865.83 419,865.83 419.63,865.84 420.27,865.84 420.91,865.85 421.54,865.85 422.18,865.85 422.81,865.86 423.45,865.86 424.09,865.86 424.72,865.87 425.36,865.87 425.99,865.87 426.63,865.88 427.27,865.88 427.9,865.88 428.54,865.89 429.17,865.89 429.81,865.89 430.45,865.9 431.08,865.9 431.72,865.9 432.35,865.9 432.99,865.91 433.63,865.91 434.26,865.91 434.9,865.92 435.53,865.92 436.17,865.92 436.81,865.92 437.44,865.93" fill="none" stroke="#f14040" stroke-width="2.3" stroke-linejoin="round" stroke-linecap="round"/>
<polyline points="127.07,844.53 127.71,844.53 128.35,844.53 128.98,844.54 129.62,844.54 130.25,844.54 130.89,844.54 131.53,844.55 132.16,844.55 132.8,844.55 133.43,844.55 134.07,844.56 134.71,844.56 135.34,844.56 135.98,844.57 136.61,844.57 137.25,844.58 137.89,844.58 138.52,844.59 139.16,844.59 139.79,844.6 140.43,844.6 141.07,844.61 141.7,844.61 142.34,844.62 142.97,844.63 143.61,844.63 144.25,844.64 144.88,844.65 145.52,844.66 146.15,844.67 146.79,844.68 147.43,844.69 148.06,844.7 148.7,844.71 149.33,844.72 149.97,844.74 150.61,844.75 151.24,844.76 151.88,844.78 152.51,844.79 153.15,844.81 153.79,844.83 154.42,844.85 155.06,844.87 155.69,844.89 156.33,844.91 156.97,844.93 157.6,844.95 158.24,844.98 158.87,845 159.51,845.03 160.15,845.06 160.78,845.09 161.42,845.12 162.05,845.16 162.69,845.19 163.33,845.23 163.96,845.27 164.6,845.31 165.23,845.35 165.87,845.39 166.51,845.44 167.14,845.49 167.78,845.54 168.41,845.59 169.05,845.64 169.69,845.7 170.32,845.76 170.96,845.82 171.59,845.88 172.23,845.95 172.87,846.02 173.5,846.09 174.14,846.16 174.77,846.24 175.41,846.31 176.05,846.39 176.68,846.48 177.32,846.56 177.95,846.65 178.59,846.73 179.23,846.83 179.86,846.92 180.5,847.01 181.13,847.11 181.77,847.21 182.41,847.31 183.04,847.41 183.68,847.51 184.31,847.61 184.95,847.72 185.59,847.82 186.22,847.93 186.86,848.04 187.49,848.14 188.13,848.25 188.77,848.36 189.4,848.46 190.04,848.57 190.67,848.68 191.31,848.78 191.95,848.89 192.58,848.99 193.22,849.09 193.85,849.19 194.49,849.29 195.13,849.39 195.76,849.49 196.4,849.58 197.03,849.67 197.67,849.77 198.31,849.85 198.94,849.94 199.58,850.02 200.21,850.11 200.85,850.19 201.49,850.26 202.12,850.34 202.76,850.41 203.39,850.48 204.03,850.55 204.67,850.62 205.3,850.68 205.94,850.74 206.57,850.8 207.21,850.86 207.85,850.91 208.48,850.96 209.12,851.01 209.75,851.06 210.39,851.11 211.03,851.15 211.66,851.19 212.3,851.23 212.93,851.27 213.57,851.31 214.21,851.34 214.84,851.38 215.48,851.41 216.11,851.44 216.75,851.47 217.39,851.5 218.02,851.52 218.66,851.55 219.29,851.57 219.93,851.59 220.57,851.61 221.2,851.63 221.84,851.65 222.47,851.67 223.11,851.69 223.75,851.71 224.38,851.72 225.02,851.74 225.65,851.75 226.29,851.76 226.93,851.78 227.56,851.79 228.2,851.8 228.83,851.81 229.47,851.82 230.11,851.83 230.74,851.84 231.38,851.85 232.01,851.86 232.65,851.87 233.29,851.87 233.92,851.88 234.56,851.89 235.19,851.89 235.83,851.9 236.47,851.91 237.1,851.91 237.74,851.92 238.37,851.92 239.01,851.93 239.65,851.93 240.28,851.94 240.92,851.94 241.55,851.94 242.19,851.95 242.83,851.95 243.46,851.96 244.1,851.96 244.73,851.97 245.37,851.97 246.01,851.97 246.64,851.98 247.28,851.98 247.91,851.99 248.55,851.99 249.19,852 249.82,852.01 250.46,852.01 251.09,852.02 251.73,852.03 252.37,852.04 253,852.05 253.64,852.07 254.27,852.08 254.91,852.1 255.55,852.11 256.18,852.14 256.82,852.16 257.45,852.19 258.09,852.22 258.73,852.25 259.36,852.29 260,852.34 260.63,852.39 261.27,852.45 261.91,852.52 262.54,852.6 263.18,852.69 263.81,852.79 264.45,852.91 265.09,853.04 265.72,853.19 266.36,853.36 266.99,853.54 267.63,853.75 268.27,853.99 268.9,854.24 269.54,854.53 270.17,854.84 270.81,855.18 271.45,855.55 272.08,855.94 272.72,856.36 273.35,856.81 273.99,857.28 274.63,857.76 275.26,858.26 275.9,858.76 276.53,859.28 277.17,859.78 277.81,860.29 278.44,860.78 279.08,861.25 279.71,861.71 280.35,862.14 280.99,862.55 281.62,862.93 282.26,863.29 282.89,863.61 283.53,863.91 284.17,864.18 284.8,864.43 285.44,864.65 286.07,864.84 286.71,865.02 287.35,865.18 287.98,865.32 288.62,865.44 289.25,865.55 289.89,865.64 290.53,865.73 291.16,865.8 291.8,865.87 292.43,865.92 293.07,865.97 293.71,866.01 294.34,866.05 294.98,866.08 295.61,866.11 296.25,866.14 296.89,866.16 297.52,866.18 298.16,866.19 298.79,866.21 299.43,866.22 300.07,866.23 300.7,866.24 301.34,866.25 301.97,866.25 302.61,866.26 303.25,866.27 303.88,866.27 304.52,866.27 305.15,866.28 305.79,866.28 306.43,866.28 307.06,866.29 307.7,866.29 308.33,866.29 308.97,866.29 309.61,866.29 310.24,866.29 310.88,866.29 311.51,866.29 312.15,866.3 312.79,866.3 313.42,866.3 314.06,866.3 314.69,866.3 315.33,866.3 315.97,866.3 316.6,866.3 317.24,866.3 317.87,866.3 318.51,866.3 319.15,866.3 319.78,866.3 320.42,866.3 321.05,866.3 321.69,866.3 322.33,866.3 322.96,866.3 323.6,866.3 324.23,866.3 324.87,866.3 325.51,866.3 326.14,866.3 326.78,866.3 327.41,866.3 328.05,866.3 328.69,866.3 329.32,866.3 329.96,866.3 330.59,866.3 331.23,866.3 331.87,866.3 332.5,866.3 333.14,866.3 333.77,866.3 334.41,866.3 335.05,866.3 335.68,866.3 336.32,866.3 336.95,866.3 337.59,866.3 338.23,866.3 338.86,866.3 339.5,866.3 340.13,866.3 340.77,866.3 341.41,866.3 342.04,866.3 342.68,866.3 343.31,866.3 343.95,866.3 344.59,866.3 345.22,866.3 345.86,866.3 346.49,866.3 347.13,866.3 347.77,866.3 348.4,866.3 349.04,866.3 349.67,866.3 350.31,866.3 350.95,866.3 351.58,866.3 352.22,866.3 352.85,866.3 353.49,866.3 354.13,866.3 354.76,866.3 355.4,866.3 356.03,866.3 356.67,866.3 357.31,866.3 357.94,866.3 358.58,866.3 359.21,866.3 359.85,866.3 360.49,866.3 361.12,866.3 361.76,866.3 362.39,866.3 363.03,866.3 363.67,866.3 364.3,866.3 364.94,866.3 365.57,866.3 366.21,866.3 366.85,866.3 367.48,866.3 368.12,866.3 368.75,866.3 369.39,866.3 370.03,866.3 370.66,866.3 371.3,866.3 371.93,866.3 372.57,866.3 373.21,866.3 373.84,866.3 374.48,866.3 375.11,866.3 375.75,866.3 376.39,866.3 377.02,866.3 377.66,866.3 378.29,866.3 378.93,866.3 379.57,866.3 380.2,866.3 380.84,866.3 381.47,866.3 382.11,866.3 382.75,866.3 383.38,866.3 384.02,866.3 384.65,866.3 385.29,866.3 385.93,866.3 386.56,866.3 387.2,866.3 387.83,866.3 388.47,866.3 389.11,866.3 389.74,866.3 390.38,866.3 391.01,866.3 391.65,866.3 392.29,866.3 392.92,866.3 393.56,866.3 394.19,866.3 394.83,866.3 395.47,866.3 396.1,866.3 396.74,866.3 397.37,866.3 398.01,866.3 398.65,866.3 399.28,866.3 399.92,866.3 400.55,866.3 401.19,866.3 401.83,866.3 402.46,866.3 403.1,866.3 403.73,866.3 404.37,866.3 405.01,866.3 405.64,866.3 406.28,866.3 406.91,866.3 407.55,866.3 408.19,866.3 408.82,866.3 409.46,866.3 410.09,866.3 410.73,866.3 411.37,866.3 412,866.3 412.64,866.3 413.27,866.3 413.91,866.3 414.55,866.3 415.18,866.3 415.82,866.3 416.45,866.3 417.09,866.3 417.73,866.3 418.36,866.3 419,866.3 419.63,866.3 420.27,866.3 420.91,866.3 421.54,866.3 422.18,866.3 422.81,866.3 423.45,866.3 424.09,866.3 424.72,866.3 425.36,866.3 425.99,866.3 426.63,866.3 427.27,866.3 427.9,866.3 428.54,866.3 429.17,866.3 429.81,866.3 430.45,866.3 431.08,866.3 431.72,866.3 432.35,866.3 432.99,866.3 433.63,866.3 434.26,866.3 434.9,866.3 435.53,866.3 436.17,866.3 436.81,866.3 437.44,866.3" fill="none" stroke="#1a6fdf" stroke-width="2.2" stroke-linejoin="round" stroke-linecap="round"/>
<polyline points="127.07,844.14 127.71,844.14 128.35,844.14 128.98,844.14 129.62,844.14 130.25,844.13 130.89,844.13 131.53,844.13 132.16,844.13 132.8,844.13 133.43,844.13 134.07,844.13 134.71,844.13 135.34,844.13 135.98,844.13 136.61,844.13 137.25,844.13 137.89,844.13 138.52,844.13 139.16,844.13 139.79,844.13 140.43,844.13 141.07,844.13 141.7,844.13 142.34,844.14 142.97,844.14 143.61,844.14 144.25,844.14 144.88,844.15 145.52,844.15 146.15,844.16 146.79,844.16 147.43,844.17 148.06,844.17 148.7,844.18 149.33,844.18 149.97,844.19 150.61,844.2 151.24,844.21 151.88,844.22 152.51,844.23 153.15,844.24 153.79,844.25 154.42,844.26 155.06,844.27 155.69,844.29 156.33,844.3 156.97,844.32 157.6,844.34 158.24,844.35 158.87,844.37 159.51,844.39 160.15,844.42 160.78,844.44 161.42,844.46 162.05,844.49 162.69,844.52 163.33,844.55 163.96,844.58 164.6,844.61 165.23,844.64 165.87,844.68 166.51,844.72 167.14,844.76 167.78,844.8 168.41,844.84 169.05,844.89 169.69,844.93 170.32,844.98 170.96,845.04 171.59,845.09 172.23,845.14 172.87,845.2 173.5,845.26 174.14,845.33 174.77,845.39 175.41,845.46 176.05,845.53 176.68,845.6 177.32,845.67 177.95,845.74 178.59,845.82 179.23,845.9 179.86,845.98 180.5,846.06 181.13,846.14 181.77,846.23 182.41,846.32 183.04,846.4 183.68,846.49 184.31,846.58 184.95,846.67 185.59,846.76 186.22,846.85 186.86,846.94 187.49,847.04 188.13,847.13 188.77,847.22 189.4,847.31 190.04,847.4 190.67,847.48 191.31,847.57 191.95,847.66 192.58,847.74 193.22,847.83 193.85,847.91 194.49,847.99 195.13,848.06 195.76,848.14 196.4,848.21 197.03,848.28 197.67,848.35 198.31,848.42 198.94,848.48 199.58,848.54 200.21,848.59 200.85,848.65 201.49,848.7 202.12,848.75 202.76,848.79 203.39,848.83 204.03,848.87 204.67,848.91 205.3,848.94 205.94,848.97 206.57,849 207.21,849.02 207.85,849.04 208.48,849.06 209.12,849.07 209.75,849.08 210.39,849.09 211.03,849.09 211.66,849.09 212.3,849.09 212.93,849.09 213.57,849.08 214.21,849.07 214.84,849.05 215.48,849.04 216.11,849.02 216.75,848.99 217.39,848.97 218.02,848.94 218.66,848.9 219.29,848.87 219.93,848.83 220.57,848.79 221.2,848.74 221.84,848.69 222.47,848.64 223.11,848.58 223.75,848.53 224.38,848.46 225.02,848.4 225.65,848.33 226.29,848.25 226.93,848.17 227.56,848.09 228.2,848 228.83,847.91 229.47,847.81 230.11,847.71 230.74,847.61 231.38,847.5 232.01,847.38 232.65,847.25 233.29,847.12 233.92,846.99 234.56,846.85 235.19,846.7 235.83,846.54 236.47,846.37 237.1,846.2 237.74,846.01 238.37,845.82 239.01,845.62 239.65,845.4 240.28,845.18 240.92,844.94 241.55,844.69 242.19,844.42 242.83,844.14 243.46,843.85 244.1,843.53 244.73,843.2 245.37,842.85 246.01,842.47 246.64,842.07 247.28,841.65 247.91,841.2 248.55,840.71 249.19,840.19 249.82,839.64 250.46,839.04 251.09,838.4 251.73,837.7 252.37,836.94 253,836.11 253.64,835.21 254.27,834.21 254.91,833.1 255.55,831.86 256.18,830.48 256.82,828.93 257.45,827.17 258.09,825.18 258.73,822.92 259.36,820.34 260,817.39 260.63,814.03 261.27,810.19 261.91,805.83 262.54,800.89 263.18,795.3 263.81,789.01 264.45,781.98 265.09,774.16 265.72,765.53 266.36,756.07 266.99,745.79 267.63,734.72 268.27,722.91 268.9,710.48 269.54,697.57 270.17,684.4 270.81,671.26 271.45,658.5 272.08,646.57 272.72,636 273.35,627.32 273.99,621.06 274.63,617.65 275.26,617.35 275.9,620.17 276.53,625.92 277.17,634.26 277.81,644.72 278.44,656.8 279.08,669.98 279.71,683.77 280.35,697.79 280.99,711.7 281.62,725.24 282.26,738.22 282.89,750.5 283.53,761.98 284.17,772.61 284.8,782.35 285.44,791.2 286.07,799.19 286.71,806.34 287.35,812.69 287.98,818.31 288.62,823.26 289.25,827.58 289.89,831.36 290.53,834.65 291.16,837.51 291.8,839.99 292.43,842.15 293.07,844.04 293.71,845.69 294.34,847.14 294.98,848.42 295.61,849.55 296.25,850.56 296.89,851.47 297.52,852.29 298.16,853.04 298.79,853.72 299.43,854.34 300.07,854.92 300.7,855.45 301.34,855.95 301.97,856.41 302.61,856.84 303.25,857.24 303.88,857.61 304.52,857.97 305.15,858.3 305.79,858.61 306.43,858.91 307.06,859.18 307.7,859.45 308.33,859.7 308.97,859.93 309.61,860.15 310.24,860.37 310.88,860.57 311.51,860.76 312.15,860.94 312.79,861.11 313.42,861.28 314.06,861.44 314.69,861.59 315.33,861.73 315.97,861.87 316.6,862 317.24,862.12 317.87,862.24 318.51,862.36 319.15,862.47 319.78,862.57 320.42,862.67 321.05,862.77 321.69,862.87 322.33,862.96 322.96,863.04 323.6,863.12 324.23,863.2 324.87,863.28 325.51,863.36 326.14,863.43 326.78,863.5 327.41,863.56 328.05,863.63 328.69,863.69 329.32,863.75 329.96,863.81 330.59,863.86 331.23,863.92 331.87,863.97 332.5,864.02 333.14,864.07 333.77,864.11 334.41,864.16 335.05,864.21 335.68,864.25 336.32,864.29 336.95,864.33 337.59,864.37 338.23,864.41 338.86,864.45 339.5,864.48 340.13,864.52 340.77,864.55 341.41,864.58 342.04,864.62 342.68,864.65 343.31,864.68 343.95,864.71 344.59,864.74 345.22,864.76 345.86,864.79 346.49,864.82 347.13,864.84 347.77,864.87 348.4,864.89 349.04,864.92 349.67,864.94 350.31,864.96 350.95,864.98 351.58,865.01 352.22,865.03 352.85,865.05 353.49,865.07 354.13,865.09 354.76,865.11 355.4,865.12 356.03,865.14 356.67,865.16 357.31,865.18 357.94,865.2 358.58,865.21 359.21,865.23 359.85,865.24 360.49,865.26 361.12,865.27 361.76,865.29 362.39,865.3 363.03,865.32 363.67,865.33 364.3,865.35 364.94,865.36 365.57,865.37 366.21,865.39 366.85,865.4 367.48,865.41 368.12,865.42 368.75,865.43 369.39,865.45 370.03,865.46 370.66,865.47 371.3,865.48 371.93,865.49 372.57,865.5 373.21,865.51 373.84,865.52 374.48,865.53 375.11,865.54 375.75,865.55 376.39,865.56 377.02,865.57 377.66,865.58 378.29,865.59 378.93,865.59 379.57,865.6 380.2,865.61 380.84,865.62 381.47,865.63 382.11,865.64 382.75,865.64 383.38,865.65 384.02,865.66 384.65,865.67 385.29,865.67 385.93,865.68 386.56,865.69 387.2,865.69 387.83,865.7 388.47,865.71 389.11,865.71 389.74,865.72 390.38,865.73 391.01,865.73 391.65,865.74 392.29,865.75 392.92,865.75 393.56,865.76 394.19,865.76 394.83,865.77 395.47,865.77 396.1,865.78 396.74,865.79 397.37,865.79 398.01,865.8 398.65,865.8 399.28,865.81 399.92,865.81 400.55,865.82 401.19,865.82 401.83,865.83 402.46,865.83 403.1,865.84 403.73,865.84 404.37,865.84 405.01,865.85 405.64,865.85 406.28,865.86 406.91,865.86 407.55,865.87 408.19,865.87 408.82,865.87 409.46,865.88 410.09,865.88 410.73,865.89 411.37,865.89 412,865.89 412.64,865.9 413.27,865.9 413.91,865.9 414.55,865.91 415.18,865.91 415.82,865.92 416.45,865.92 417.09,865.92 417.73,865.93 418.36,865.93 419,865.93 419.63,865.94 420.27,865.94 420.91,865.94 421.54,865.94 422.18,865.95 422.81,865.95 423.45,865.95 424.09,865.96 424.72,865.96 425.36,865.96 425.99,865.97 426.63,865.97 427.27,865.97 427.9,865.97 428.54,865.98 429.17,865.98 429.81,865.98 430.45,865.98 431.08,865.99 431.72,865.99 432.35,865.99 432.99,865.99 433.63,866 434.26,866 434.9,866 435.53,866 436.17,866.01 436.81,866.01 437.44,866.01" fill="none" stroke="#37ad6b" stroke-width="2.6" stroke-linejoin="round" stroke-linecap="round"/>
<polyline points="127.07,842.25 127.71,842.2 128.35,842.15 128.98,842.1 129.62,842.05 130.25,842 130.89,841.95 131.53,841.89 132.16,841.83 132.8,841.77 133.43,841.71 134.07,841.64 134.71,841.58 135.34,841.51 135.98,841.44 136.61,841.36 137.25,841.29 137.89,841.21 138.52,841.13 139.16,841.04 139.79,840.95 140.43,840.86 141.07,840.77 141.7,840.67 142.34,840.56 142.97,840.46 143.61,840.34 144.25,840.22 144.88,840.1 145.52,839.97 146.15,839.84 146.79,839.69 147.43,839.55 148.06,839.39 148.7,839.22 149.33,839.05 149.97,838.86 150.61,838.67 151.24,838.46 151.88,838.24 152.51,838.01 153.15,837.76 153.79,837.49 154.42,837.21 155.06,836.91 155.69,836.58 156.33,836.24 156.97,835.86 157.6,835.46 158.24,835.04 158.87,834.58 159.51,834.08 160.15,833.56 160.78,832.99 161.42,832.38 162.05,831.73 162.69,831.03 163.33,830.28 163.96,829.48 164.6,828.62 165.23,827.7 165.87,826.73 166.51,825.69 167.14,824.59 167.78,823.42 168.41,822.18 169.05,820.87 169.69,819.49 170.32,818.04 170.96,816.52 171.59,814.92 172.23,813.26 172.87,811.53 173.5,809.74 174.14,807.89 174.77,805.99 175.41,804.05 176.05,802.09 176.68,800.1 177.32,798.12 177.95,796.15 178.59,794.23 179.23,792.37 179.86,790.6 180.5,788.96 181.13,787.46 181.77,786.15 182.41,785.05 183.04,784.19 183.68,783.59 184.31,783.26 184.95,783.22 185.59,783.46 186.22,783.96 186.86,784.72 187.49,785.71 188.13,786.94 188.77,788.36 189.4,789.97 190.04,791.73 190.67,793.62 191.31,795.62 191.95,797.7 192.58,799.84 193.22,802.02 193.85,804.22 194.49,806.42 195.13,808.61 195.76,810.78 196.4,812.92 197.03,815 197.67,817.04 198.31,819.01 198.94,820.92 199.58,822.75 200.21,824.51 200.85,826.2 201.49,827.8 202.12,829.32 202.76,830.77 203.39,832.13 204.03,833.41 204.67,834.62 205.3,835.75 205.94,836.8 206.57,837.78 207.21,838.7 207.85,839.55 208.48,840.34 209.12,841.07 209.75,841.75 210.39,842.37 211.03,842.94 211.66,843.47 212.3,843.96 212.93,844.41 213.57,844.82 214.21,845.21 214.84,845.56 215.48,845.88 216.11,846.18 216.75,846.45 217.39,846.71 218.02,846.94 218.66,847.16 219.29,847.36 219.93,847.55 220.57,847.72 221.2,847.89 221.84,848.04 222.47,848.18 223.11,848.32 223.75,848.45 224.38,848.56 225.02,848.68 225.65,848.78 226.29,848.89 226.93,848.98 227.56,849.07 228.2,849.16 228.83,849.24 229.47,849.32 230.11,849.4 230.74,849.47 231.38,849.54 232.01,849.61 232.65,849.67 233.29,849.73 233.92,849.79 234.56,849.85 235.19,849.9 235.83,849.96 236.47,850.01 237.1,850.06 237.74,850.1 238.37,850.15 239.01,850.19 239.65,850.24 240.28,850.28 240.92,850.32 241.55,850.36 242.19,850.39 242.83,850.43 243.46,850.47 244.1,850.5 244.73,850.54 245.37,850.57 246.01,850.6 246.64,850.63 247.28,850.66 247.91,850.69 248.55,850.72 249.19,850.75 249.82,850.78 250.46,850.81 251.09,850.84 251.73,850.88 252.37,850.91 253,850.94 253.64,850.97 254.27,851 254.91,851.04 255.55,851.08 256.18,851.11 256.82,851.16 257.45,851.2 258.09,851.25 258.73,851.3 259.36,851.36 260,851.42 260.63,851.49 261.27,851.56 261.91,851.65 262.54,851.74 263.18,851.84 263.81,851.96 264.45,852.09 265.09,852.23 265.72,852.39 266.36,852.57 266.99,852.77 267.63,852.99 268.27,853.23 268.9,853.5 269.54,853.8 270.17,854.12 270.81,854.47 271.45,854.85 272.08,855.25 272.72,855.68 273.35,856.14 273.99,856.62 274.63,857.11 275.26,857.62 275.9,858.13 276.53,858.65 277.17,859.17 277.81,859.68 278.44,860.18 279.08,860.66 279.71,861.13 280.35,861.57 280.99,861.98 281.62,862.37 282.26,862.73 282.89,863.06 283.53,863.37 284.17,863.65 284.8,863.9 285.44,864.13 286.07,864.33 286.71,864.51 287.35,864.68 287.98,864.82 288.62,864.95 289.25,865.06 289.89,865.17 290.53,865.25 291.16,865.33 291.8,865.4 292.43,865.47 293.07,865.52 293.71,865.57 294.34,865.61 294.98,865.65 295.61,865.68 296.25,865.71 296.89,865.74 297.52,865.76 298.16,865.78 298.79,865.8 299.43,865.82 300.07,865.83 300.7,865.85 301.34,865.86 301.97,865.87 302.61,865.88 303.25,865.89 303.88,865.9 304.52,865.9 305.15,865.91 305.79,865.92 306.43,865.92 307.06,865.93 307.7,865.94 308.33,865.94 308.97,865.95 309.61,865.95 310.24,865.96 310.88,865.96 311.51,865.96 312.15,865.97 312.79,865.97 313.42,865.98 314.06,865.98 314.69,865.98 315.33,865.99 315.97,865.99 316.6,865.99 317.24,866 317.87,866 318.51,866 319.15,866 319.78,866.01 320.42,866.01 321.05,866.01 321.69,866.02 322.33,866.02 322.96,866.02 323.6,866.02 324.23,866.03 324.87,866.03 325.51,866.03 326.14,866.03 326.78,866.04 327.41,866.04 328.05,866.04 328.69,866.04 329.32,866.05 329.96,866.05 330.59,866.05 331.23,866.05 331.87,866.05 332.5,866.06 333.14,866.06 333.77,866.06 334.41,866.06 335.05,866.06 335.68,866.07 336.32,866.07 336.95,866.07 337.59,866.07 338.23,866.07 338.86,866.08 339.5,866.08 340.13,866.08 340.77,866.08 341.41,866.08 342.04,866.08 342.68,866.09 343.31,866.09 343.95,866.09 344.59,866.09 345.22,866.09 345.86,866.09 346.49,866.1 347.13,866.1 347.77,866.1 348.4,866.1 349.04,866.1 349.67,866.1 350.31,866.11 350.95,866.11 351.58,866.11 352.22,866.11 352.85,866.11 353.49,866.11 354.13,866.11 354.76,866.12 355.4,866.12 356.03,866.12 356.67,866.12 357.31,866.12 357.94,866.12 358.58,866.12 359.21,866.12 359.85,866.13 360.49,866.13 361.12,866.13 361.76,866.13 362.39,866.13 363.03,866.13 363.67,866.13 364.3,866.13 364.94,866.14 365.57,866.14 366.21,866.14 366.85,866.14 367.48,866.14 368.12,866.14 368.75,866.14 369.39,866.14 370.03,866.14 370.66,866.15 371.3,866.15 371.93,866.15 372.57,866.15 373.21,866.15 373.84,866.15 374.48,866.15 375.11,866.15 375.75,866.15 376.39,866.15 377.02,866.16 377.66,866.16 378.29,866.16 378.93,866.16 379.57,866.16 380.2,866.16 380.84,866.16 381.47,866.16 382.11,866.16 382.75,866.16 383.38,866.16 384.02,866.17 384.65,866.17 385.29,866.17 385.93,866.17 386.56,866.17 387.2,866.17 387.83,866.17 388.47,866.17 389.11,866.17 389.74,866.17 390.38,866.17 391.01,866.17 391.65,866.18 392.29,866.18 392.92,866.18 393.56,866.18 394.19,866.18 394.83,866.18 395.47,866.18 396.1,866.18 396.74,866.18 397.37,866.18 398.01,866.18 398.65,866.18 399.28,866.18 399.92,866.18 400.55,866.19 401.19,866.19 401.83,866.19 402.46,866.19 403.1,866.19 403.73,866.19 404.37,866.19 405.01,866.19 405.64,866.19 406.28,866.19 406.91,866.19 407.55,866.19 408.19,866.19 408.82,866.19 409.46,866.19 410.09,866.19 410.73,866.2 411.37,866.2 412,866.2 412.64,866.2 413.27,866.2 413.91,866.2 414.55,866.2 415.18,866.2 415.82,866.2 416.45,866.2 417.09,866.2 417.73,866.2 418.36,866.2 419,866.2 419.63,866.2 420.27,866.2 420.91,866.2 421.54,866.2 422.18,866.21 422.81,866.21 423.45,866.21 424.09,866.21 424.72,866.21 425.36,866.21 425.99,866.21 426.63,866.21 427.27,866.21 427.9,866.21 428.54,866.21 429.17,866.21 429.81,866.21 430.45,866.21 431.08,866.21 431.72,866.21 432.35,866.21 432.99,866.21 433.63,866.21 434.26,866.21 434.9,866.21 435.53,866.22 436.17,866.22 436.81,866.22 437.44,866.22" fill="none" stroke="#b177de" stroke-width="2.9" stroke-linejoin="round" stroke-linecap="round"/>
<rect x="97.5" y="593.8" width="397.8" height="320.9" fill="none" stroke="#484848" stroke-width="1.3"/>
<line x1="97.5" y1="914.7" x2="97.5" y2="920.7" stroke="#484848" stroke-width="1.3"/>
<text x="97.5" y="948.6" font-size="29.7" text-anchor="middle">470</text>
<line x1="177" y1="914.7" x2="177" y2="920.7" stroke="#484848" stroke-width="1.3"/>
<text x="177" y="948.6" font-size="29.7" text-anchor="middle">465</text>
<line x1="256.5" y1="914.7" x2="256.5" y2="920.7" stroke="#484848" stroke-width="1.3"/>
<text x="256.5" y="948.6" font-size="29.7" text-anchor="middle">460</text>
<line x1="336" y1="914.7" x2="336" y2="920.7" stroke="#484848" stroke-width="1.3"/>
<text x="336" y="948.6" font-size="29.7" text-anchor="middle">455</text>
<line x1="415.5" y1="914.7" x2="415.5" y2="920.7" stroke="#484848" stroke-width="1.3"/>
<text x="415.5" y="948.6" font-size="29.7" text-anchor="middle">450</text>
<line x1="495" y1="914.7" x2="495" y2="920.7" stroke="#484848" stroke-width="1.3"/>
<text x="495" y="948.6" font-size="29.7" text-anchor="middle">445</text>
<text x="298.6" y="981.4" font-size="30" text-anchor="middle">Binding Energy(eV)</text>
<text x="0" y="0" font-size="30.2" text-anchor="middle" transform="translate(84.6 764.5) rotate(-90)">Intensity(a.u.)</text>
<text x="491.5" y="625" font-size="30.3" text-anchor="end">Ti 2p</text>
<text x="101.5" y="747.9" font-size="27">Ti<tspan font-size="18.5" dy="-10.5">4+</tspan><tspan dy="10.5">, 464.5eV</tspan></text>
<text x="291" y="669.3" font-size="27">Ti<tspan font-size="18.5" dy="-10.5">4+</tspan><tspan dy="10.5">, 458.8eV</tspan></text>
<line x1="164.3" y1="755.7" x2="184.3" y2="780.7" stroke="#000" stroke-width="2"/>
<line x1="274.3" y1="617.4" x2="313.6" y2="626.9" stroke="#000" stroke-width="2"/>
</g>
<g id="panel-e">
<g fill="none" stroke="#262626" stroke-width="0.7"><circle cx="622.04" cy="857.25" r="3.4"/><circle cx="623.77" cy="856.64" r="3.4"/><circle cx="625.5" cy="856.5" r="3.4"/><circle cx="627.23" cy="856.26" r="3.4"/><circle cx="628.95" cy="855.07" r="3.4"/><circle cx="630.68" cy="855.07" r="3.4"/><circle cx="632.41" cy="854.65" r="3.4"/><circle cx="634.14" cy="853.77" r="3.4"/><circle cx="635.87" cy="852.91" r="3.4"/><circle cx="637.59" cy="851.78" r="3.4"/><circle cx="639.32" cy="850.58" r="3.4"/><circle cx="641.05" cy="850.26" r="3.4"/><circle cx="642.78" cy="848.8" r="3.4"/><circle cx="644.51" cy="848.17" r="3.4"/><circle cx="646.23" cy="847.1" r="3.4"/><circle cx="647.96" cy="845.12" r="3.4"/><circle cx="649.69" cy="843.53" r="3.4"/><circle cx="651.42" cy="842.27" r="3.4"/><circle cx="653.15" cy="840.02" r="3.4"/><circle cx="654.87" cy="837.21" r="3.4"/><circle cx="656.6" cy="834.69" r="3.4"/><circle cx="658.33" cy="831.99" r="3.4"/><circle cx="660.06" cy="829.77" r="3.4"/><circle cx="661.79" cy="826.42" r="3.4"/><circle cx="663.51" cy="822.22" r="3.4"/><circle cx="665.24" cy="819.05" r="3.4"/><circle cx="666.97" cy="815.06" r="3.4"/><circle cx="668.7" cy="810.34" r="3.4"/><circle cx="670.43" cy="805.47" r="3.4"/><circle cx="672.15" cy="801.07" r="3.4"/><circle cx="673.88" cy="796.22" r="3.4"/><circle cx="675.61" cy="792.1" r="3.4"/><circle cx="677.34" cy="789.8" r="3.4"/><circle cx="679.07" cy="787.25" r="3.4"/><circle cx="680.79" cy="786.18" r="3.4"/><circle cx="682.52" cy="787.04" r="3.4"/><circle cx="684.25" cy="788.33" r="3.4"/><circle cx="685.98" cy="791.73" r="3.4"/><circle cx="687.71" cy="795.53" r="3.4"/><circle cx="689.43" cy="799.31" r="3.4"/><circle cx="691.16" cy="803.96" r="3.4"/><circle cx="692.89" cy="808.54" r="3.4"/><circle cx="694.62" cy="812.74" r="3.4"/><circle cx="696.35" cy="816.92" r="3.4"/><circle cx="698.07" cy="819.95" r="3.4"/><circle cx="699.8" cy="823.08" r="3.4"/><circle cx="701.53" cy="825.53" r="3.4"/><circle cx="703.26" cy="828.99" r="3.4"/><circle cx="704.99" cy="831.23" r="3.4"/><circle cx="706.71" cy="834.39" r="3.4"/><circle cx="708.44" cy="837.85" r="3.4"/><circle cx="710.17" cy="841.56" r="3.4"/><circle cx="711.9" cy="844.26" r="3.4"/><circle cx="713.63" cy="847.58" r="3.4"/><circle cx="715.35" cy="849.55" r="3.4"/><circle cx="717.08" cy="851.52" r="3.4"/><circle cx="718.81" cy="853.04" r="3.4"/><circle cx="720.54" cy="853.67" r="3.4"/><circle cx="722.27" cy="854.86" r="3.4"/><circle cx="723.99" cy="855.01" r="3.4"/><circle cx="725.72" cy="854.92" r="3.4"/><circle cx="727.45" cy="855.56" r="3.4"/><circle cx="729.18" cy="854.71" r="3.4"/><circle cx="730.91" cy="854.88" r="3.4"/><circle cx="732.63" cy="855.21" r="3.4"/><circle cx="734.36" cy="855.34" r="3.4"/><circle cx="736.09" cy="855.51" r="3.4"/><circle cx="737.82" cy="856.07" r="3.4"/><circle cx="739.55" cy="856.39" r="3.4"/><circle cx="741.27" cy="856.79" r="3.4"/><circle cx="743" cy="856.21" r="3.4"/><circle cx="744.73" cy="856.68" r="3.4"/><circle cx="746.46" cy="856.25" r="3.4"/><circle cx="748.19" cy="855.91" r="3.4"/><circle cx="749.91" cy="855.61" r="3.4"/><circle cx="751.64" cy="853.92" r="3.4"/><circle cx="753.37" cy="851.68" r="3.4"/><circle cx="755.1" cy="848.49" r="3.4"/><circle cx="756.83" cy="843.93" r="3.4"/><circle cx="758.55" cy="837.19" r="3.4"/><circle cx="760.28" cy="829.31" r="3.4"/><circle cx="762.01" cy="819.15" r="3.4"/><circle cx="763.74" cy="806.89" r="3.4"/><circle cx="765.47" cy="792.42" r="3.4"/><circle cx="767.19" cy="775.06" r="3.4"/><circle cx="768.92" cy="755.63" r="3.4"/><circle cx="770.65" cy="733.98" r="3.4"/><circle cx="772.38" cy="711.37" r="3.4"/><circle cx="774.11" cy="687.62" r="3.4"/><circle cx="775.83" cy="665.49" r="3.4"/><circle cx="777.56" cy="646.93" r="3.4"/><circle cx="779.29" cy="634.16" r="3.4"/><circle cx="781.02" cy="630.06" r="3.4"/><circle cx="782.75" cy="633.15" r="3.4"/><circle cx="784.47" cy="643.28" r="3.4"/><circle cx="786.2" cy="660.28" r="3.4"/><circle cx="787.93" cy="682.98" r="3.4"/><circle cx="789.66" cy="707.91" r="3.4"/><circle cx="791.39" cy="731.85" r="3.4"/><circle cx="793.11" cy="754.7" r="3.4"/><circle cx="794.84" cy="774.83" r="3.4"/><circle cx="796.57" cy="793.02" r="3.4"/><circle cx="798.3" cy="807.95" r="3.4"/><circle cx="800.03" cy="820.2" r="3.4"/><circle cx="801.75" cy="829.15" r="3.4"/><circle cx="803.48" cy="837.28" r="3.4"/><circle cx="805.21" cy="842.99" r="3.4"/><circle cx="806.94" cy="846.78" r="3.4"/><circle cx="808.67" cy="850.69" r="3.4"/><circle cx="810.39" cy="853.12" r="3.4"/><circle cx="812.12" cy="854.15" r="3.4"/><circle cx="813.85" cy="856.35" r="3.4"/><circle cx="815.58" cy="857.14" r="3.4"/><circle cx="817.31" cy="858.62" r="3.4"/><circle cx="819.03" cy="860.63" r="3.4"/><circle cx="820.76" cy="862.13" r="3.4"/><circle cx="822.49" cy="863.24" r="3.4"/><circle cx="824.22" cy="865.38" r="3.4"/><circle cx="825.95" cy="867.38" r="3.4"/><circle cx="827.67" cy="869.11" r="3.4"/><circle cx="829.4" cy="870.85" r="3.4"/><circle cx="831.13" cy="872.82" r="3.4"/><circle cx="832.86" cy="874.99" r="3.4"/><circle cx="834.59" cy="875.96" r="3.4"/><circle cx="836.31" cy="878.06" r="3.4"/><circle cx="838.04" cy="879.37" r="3.4"/><circle cx="839.77" cy="880.24" r="3.4"/><circle cx="841.5" cy="881.69" r="3.4"/><circle cx="843.23" cy="882.98" r="3.4"/><circle cx="844.95" cy="883.72" r="3.4"/><circle cx="846.68" cy="884" r="3.4"/><circle cx="848.41" cy="885.53" r="3.4"/><circle cx="850.14" cy="885.85" r="3.4"/><circle cx="851.87" cy="886.48" r="3.4"/><circle cx="853.59" cy="886" r="3.4"/><circle cx="855.32" cy="886.49" r="3.4"/><circle cx="857.05" cy="886.56" r="3.4"/><circle cx="858.78" cy="887.56" r="3.4"/><circle cx="860.51" cy="887.29" r="3.4"/><circle cx="862.23" cy="887.37" r="3.4"/><circle cx="863.96" cy="887.87" r="3.4"/><circle cx="865.69" cy="888.54" r="3.4"/><circle cx="867.42" cy="888.63" r="3.4"/><circle cx="869.15" cy="888.23" r="3.4"/><circle cx="870.87" cy="888.27" r="3.4"/><circle cx="872.6" cy="889.18" r="3.4"/><circle cx="874.33" cy="888.97" r="3.4"/><circle cx="876.06" cy="889.22" r="3.4"/><circle cx="877.79" cy="888.71" r="3.4"/><circle cx="879.51" cy="888.76" r="3.4"/><circle cx="881.24" cy="889.43" r="3.4"/><circle cx="882.97" cy="889.1" r="3.4"/><circle cx="884.7" cy="888.53" r="3.4"/><circle cx="886.43" cy="888.94" r="3.4"/><circle cx="888.15" cy="887.91" r="3.4"/><circle cx="889.88" cy="887.12" r="3.4"/><circle cx="891.61" cy="885.37" r="3.4"/><circle cx="893.34" cy="885.29" r="3.4"/><circle cx="895.07" cy="884.09" r="3.4"/><circle cx="896.79" cy="885.07" r="3.4"/><circle cx="898.52" cy="885.4" r="3.4"/><circle cx="900.25" cy="886.37" r="3.4"/><circle cx="901.98" cy="887.75" r="3.4"/><circle cx="903.71" cy="889.13" r="3.4"/><circle cx="905.43" cy="889.22" r="3.4"/><circle cx="907.16" cy="889.57" r="3.4"/><circle cx="908.89" cy="890.26" r="3.4"/><circle cx="910.62" cy="890.13" r="3.4"/><circle cx="912.35" cy="890.09" r="3.4"/><circle cx="914.07" cy="890.2" r="3.4"/><circle cx="915.8" cy="890.13" r="3.4"/><circle cx="917.53" cy="890.32" r="3.4"/><circle cx="919.26" cy="890.47" r="3.4"/><circle cx="920.99" cy="890.49" r="3.4"/><circle cx="922.71" cy="890.98" r="3.4"/><circle cx="924.44" cy="890.54" r="3.4"/><circle cx="926.17" cy="890.78" r="3.4"/><circle cx="927.9" cy="890.49" r="3.4"/><circle cx="929.63" cy="890.68" r="3.4"/><circle cx="931.35" cy="890.38" r="3.4"/><circle cx="933.08" cy="890.64" r="3.4"/><circle cx="934.81" cy="890.43" r="3.4"/><circle cx="936.54" cy="891.17" r="3.4"/><circle cx="938.27" cy="891.01" r="3.4"/><circle cx="939.99" cy="890.67" r="3.4"/><circle cx="941.72" cy="890.98" r="3.4"/><circle cx="943.45" cy="891.46" r="3.4"/><circle cx="945.18" cy="890.65" r="3.4"/><circle cx="946.91" cy="891.38" r="3.4"/><circle cx="948.63" cy="891.02" r="3.4"/><circle cx="950.36" cy="891.1" r="3.4"/><circle cx="952.09" cy="891.45" r="3.4"/><circle cx="953.82" cy="891.03" r="3.4"/><circle cx="955.55" cy="891.16" r="3.4"/><circle cx="957.27" cy="891.36" r="3.4"/><circle cx="959" cy="891.67" r="3.4"/><circle cx="960.73" cy="891.04" r="3.4"/><circle cx="962.46" cy="891.55" r="3.4"/></g>
<polyline points="622.04,852.17 622.73,852.11 623.42,852.06 624.12,852 624.81,851.95 625.5,851.89 626.19,851.82 626.88,851.76 627.57,851.69 628.26,851.62 628.95,851.55 629.64,851.48 630.34,851.4 631.03,851.32 631.72,851.24 632.41,851.15 633.1,851.06 633.79,850.96 634.48,850.86 635.17,850.75 635.87,850.64 636.56,850.53 637.25,850.4 637.94,850.27 638.63,850.13 639.32,849.98 640.01,849.82 640.7,849.65 641.4,849.47 642.09,849.27 642.78,849.06 643.47,848.83 644.16,848.59 644.85,848.33 645.54,848.04 646.23,847.74 646.92,847.4 647.62,847.05 648.31,846.66 649,846.24 649.69,845.79 650.38,845.3 651.07,844.77 651.76,844.19 652.45,843.58 653.15,842.91 653.84,842.2 654.53,841.43 655.22,840.61 655.91,839.72 656.6,838.78 657.29,837.77 657.98,836.7 658.68,835.56 659.37,834.36 660.06,833.08 660.75,831.73 661.44,830.31 662.13,828.82 662.82,827.26 663.51,825.63 664.2,823.94 664.9,822.17 665.59,820.35 666.28,818.48 666.97,816.55 667.66,814.57 668.35,812.56 669.04,810.51 669.73,808.45 670.43,806.37 671.12,804.3 671.81,802.24 672.5,800.22 673.19,798.23 673.88,796.32 674.57,794.48 675.26,792.75 675.96,791.13 676.65,789.66 677.34,788.36 678.03,787.23 678.72,786.31 679.41,785.59 680.1,785.11 680.79,784.86 681.48,784.85 682.18,785.08 682.87,785.55 683.56,786.24 684.25,787.14 684.94,788.25 685.63,789.54 686.32,790.99 687.01,792.58 687.71,794.3 688.4,796.11 689.09,798 689.78,799.95 690.47,801.92 691.16,803.91 691.85,805.89 692.54,807.85 693.24,809.77 693.93,811.64 694.62,813.44 695.31,815.17 696,816.81 696.69,818.38 697.38,819.86 698.07,821.26 698.76,822.57 699.46,823.82 700.15,825 700.84,826.13 701.53,827.21 702.22,828.27 702.91,829.3 703.6,830.33 704.29,831.36 704.99,832.39 705.68,833.43 706.37,834.51 707.06,835.62 707.75,836.76 708.44,837.9 709.13,839.04 709.82,840.15 710.52,841.22 711.21,842.25 711.9,843.22 712.59,844.13 713.28,844.98 713.97,845.75 714.66,846.47 715.35,847.11 716.04,847.7 716.74,848.23 717.43,848.7 718.12,849.12 718.81,849.49 719.5,849.82 720.19,850.1 720.88,850.36 721.57,850.58 722.27,850.78 722.96,850.95 723.65,851.1 724.34,851.23 725.03,851.35 725.72,851.45 726.41,851.55 727.1,851.63 727.8,851.7 728.49,851.77 729.18,851.83 729.87,851.88 730.56,851.93 731.25,851.97 731.94,852.01 732.63,852.04 733.32,852.07 734.02,852.09 734.71,852.1 735.4,852.1 736.09,852.1 736.78,852.09 737.47,852.07 738.16,852.04 738.85,852 739.55,851.94 740.24,851.88 740.93,851.79 741.62,851.69 742.31,851.57 743,851.43 743.69,851.27 744.38,851.08 745.08,850.86 745.77,850.61 746.46,850.32 747.15,849.99 747.84,849.62 748.53,849.2 749.22,848.72 749.91,848.17 750.6,847.56 751.3,846.86 751.99,846.08 752.68,845.19 753.37,844.19 754.06,843.06 754.75,841.79 755.44,840.36 756.13,838.76 756.83,836.97 757.52,834.96 758.21,832.73 758.9,830.24 759.59,827.48 760.28,824.42 760.97,821.05 761.66,817.34 762.36,813.28 763.05,808.84 763.74,804.01 764.43,798.78 765.12,793.14 765.81,787.08 766.5,780.59 767.19,773.69 767.88,766.37 768.58,758.66 769.27,750.57 769.96,742.14 770.65,733.39 771.34,724.37 772.03,715.14 772.72,705.76 773.41,696.29 774.11,686.83 774.8,677.46 775.49,668.29 776.18,659.47 776.87,651.13 777.56,643.45 778.25,636.62 778.94,630.84 779.64,626.3 780.33,623.19 781.02,621.64 781.71,621.73 782.4,623.51 783.09,626.96 783.78,631.93 784.47,638.25 785.16,645.71 785.86,654.09 786.55,663.16 787.24,672.72 787.93,682.6 788.62,692.64 789.31,702.73 790,712.74 790.69,722.6 791.39,732.23 792.08,741.57 792.77,750.58 793.46,759.21 794.15,767.45 794.84,775.26 795.53,782.63 796.22,789.56 796.92,796.04 797.61,802.07 798.3,807.67 798.99,812.83 799.68,817.58 800.37,821.94 801.06,825.91 801.75,829.52 802.44,832.78 803.14,835.73 803.83,838.38 804.52,840.76 805.21,842.88 805.9,844.77 806.59,846.45 807.28,847.94 807.97,849.27 808.67,850.45 809.36,851.49 810.05,852.43 810.74,853.28 811.43,854.05 812.12,854.76 812.81,855.42 813.5,856.06 814.2,856.67 814.89,857.29 815.58,857.91 816.27,858.54 816.96,859.19 817.65,859.87 818.34,860.57 819.03,861.3 819.72,862.07 820.42,862.85 821.11,863.66 821.8,864.49 822.49,865.33 823.18,866.19 823.87,867.05 824.56,867.91 825.25,868.77 825.95,869.62 826.64,870.46 827.33,871.28 828.02,872.09 828.71,872.89 829.4,873.65 830.09,874.4 830.78,875.12 831.48,875.82 832.17,876.49 832.86,877.13 833.55,877.74 834.24,878.33 834.93,878.89 835.62,879.42 836.31,879.92 837,880.4 837.7,880.85 838.39,881.28 839.08,881.68 839.77,882.06 840.46,882.42 841.15,882.75 841.84,883.07 842.53,883.37 843.23,883.65 843.92,883.92 844.61,884.17 845.3,884.41 845.99,884.63 846.68,884.84 847.37,885.04 848.06,885.23 848.76,885.41 849.45,885.58 850.14,885.74 850.83,885.9 851.52,886.05 852.21,886.19 852.9,886.33 853.59,886.46 854.28,886.58 854.98,886.7 855.67,886.82 856.36,886.93 857.05,887.04 857.74,887.14 858.43,887.25 859.12,887.34 859.81,887.44 860.51,887.53 861.2,887.62 861.89,887.7 862.58,887.79 863.27,887.87 863.96,887.95 864.65,888.02 865.34,888.1 866.04,888.17 866.73,888.24 867.42,888.31 868.11,888.37 868.8,888.44 869.49,888.5 870.18,888.56 870.87,888.62 871.56,888.68 872.26,888.74 872.95,888.79 873.64,888.84 874.33,888.9 875.02,888.95 875.71,889 876.4,889.04 877.09,889.09 877.79,889.14 878.48,889.18 879.17,889.23 879.86,889.27 880.55,889.31 881.24,889.35 881.93,889.39 882.62,889.43 883.32,889.47 884.01,889.5 884.7,889.54 885.39,889.58 886.08,889.61 886.77,889.64 887.46,889.68 888.15,889.71 888.84,889.74 889.54,889.77 890.23,889.8 890.92,889.83 891.61,889.86 892.3,889.89 892.99,889.92 893.68,889.94 894.37,889.97 895.07,890 895.76,890.02 896.45,890.05 897.14,890.07 897.83,890.1 898.52,890.12 899.21,890.14 899.9,890.17 900.6,890.19 901.29,890.21 901.98,890.23 902.67,890.25 903.36,890.27 904.05,890.29 904.74,890.31 905.43,890.33 906.12,890.35 906.82,890.37 907.51,890.39 908.2,890.41 908.89,890.42 909.58,890.44 910.27,890.46 910.96,890.47 911.65,890.49 912.35,890.51 913.04,890.52 913.73,890.54 914.42,890.55 915.11,890.57 915.8,890.58 916.49,890.6 917.18,890.61 917.88,890.63 918.57,890.64 919.26,890.66 919.95,890.67 920.64,890.68 921.33,890.7 922.02,890.71 922.71,890.72 923.4,890.73 924.1,890.75 924.79,890.76 925.48,890.77 926.17,890.78 926.86,890.79 927.55,890.8 928.24,890.82 928.93,890.83 929.63,890.84 930.32,890.85 931.01,890.86 931.7,890.87 932.39,890.88 933.08,890.89 933.77,890.9 934.46,890.91 935.16,890.92 935.85,890.93 936.54,890.94 937.23,890.95 937.92,890.96 938.61,890.97 939.3,890.97 939.99,890.98 940.68,890.99 941.38,891 942.07,891.01 942.76,891.02 943.45,891.03 944.14,891.03 944.83,891.04 945.52,891.05 946.21,891.06 946.91,891.07 947.6,891.07 948.29,891.08 948.98,891.09 949.67,891.1 950.36,891.1 951.05,891.11 951.74,891.12 952.44,891.12 953.13,891.13 953.82,891.14 954.51,891.14 955.2,891.15 955.89,891.16 956.58,891.16 957.27,891.17 957.96,891.18 958.66,891.18 959.35,891.19 960.04,891.2 960.73,891.2 961.42,891.21 962.11,891.21 962.8,891.22" fill="none" stroke="#f14040" stroke-width="2.3" stroke-linejoin="round" stroke-linecap="round"/>
<polyline points="622.04,855.04 622.73,855.04 623.42,855.04 624.12,855.04 624.81,855.04 625.5,855.05 626.19,855.05 626.88,855.05 627.57,855.05 628.26,855.06 628.95,855.06 629.64,855.06 630.34,855.06 631.03,855.07 631.72,855.07 632.41,855.07 633.1,855.08 633.79,855.08 634.48,855.09 635.17,855.09 635.87,855.1 636.56,855.1 637.25,855.11 637.94,855.11 638.63,855.12 639.32,855.12 640.01,855.13 640.7,855.13 641.4,855.14 642.09,855.15 642.78,855.16 643.47,855.16 644.16,855.17 644.85,855.18 645.54,855.19 646.23,855.2 646.92,855.21 647.62,855.22 648.31,855.23 649,855.24 649.69,855.26 650.38,855.27 651.07,855.28 651.76,855.3 652.45,855.31 653.15,855.33 653.84,855.34 654.53,855.36 655.22,855.38 655.91,855.4 656.6,855.42 657.29,855.44 657.98,855.46 658.68,855.48 659.37,855.5 660.06,855.53 660.75,855.55 661.44,855.58 662.13,855.61 662.82,855.64 663.51,855.67 664.2,855.7 664.9,855.74 665.59,855.77 666.28,855.81 666.97,855.85 667.66,855.89 668.35,855.93 669.04,855.98 669.73,856.02 670.43,856.07 671.12,856.12 671.81,856.17 672.5,856.23 673.19,856.28 673.88,856.34 674.57,856.41 675.26,856.47 675.96,856.54 676.65,856.6 677.34,856.68 678.03,856.75 678.72,856.83 679.41,856.91 680.1,856.99 680.79,857.08 681.48,857.17 682.18,857.26 682.87,857.35 683.56,857.45 684.25,857.55 684.94,857.65 685.63,857.76 686.32,857.87 687.01,857.99 687.71,858.1 688.4,858.22 689.09,858.35 689.78,858.47 690.47,858.6 691.16,858.73 691.85,858.87 692.54,859 693.24,859.14 693.93,859.29 694.62,859.43 695.31,859.58 696,859.73 696.69,859.88 697.38,860.03 698.07,860.19 698.76,860.35 699.46,860.5 700.15,860.66 700.84,860.82 701.53,860.99 702.22,861.15 702.91,861.31 703.6,861.47 704.29,861.64 704.99,861.8 705.68,861.96 706.37,862.12 707.06,862.29 707.75,862.45 708.44,862.61 709.13,862.76 709.82,862.92 710.52,863.08 711.21,863.23 711.9,863.38 712.59,863.53 713.28,863.68 713.97,863.82 714.66,863.96 715.35,864.1 716.04,864.24 716.74,864.37 717.43,864.5 718.12,864.63 718.81,864.76 719.5,864.88 720.19,865 720.88,865.12 721.57,865.23 722.27,865.34 722.96,865.45 723.65,865.55 724.34,865.65 725.03,865.75 725.72,865.85 726.41,865.94 727.1,866.03 727.8,866.11 728.49,866.2 729.18,866.28 729.87,866.36 730.56,866.43 731.25,866.51 731.94,866.58 732.63,866.64 733.32,866.71 734.02,866.77 734.71,866.83 735.4,866.89 736.09,866.95 736.78,867.01 737.47,867.06 738.16,867.11 738.85,867.16 739.55,867.21 740.24,867.25 740.93,867.3 741.62,867.34 742.31,867.38 743,867.43 743.69,867.46 744.38,867.5 745.08,867.54 745.77,867.58 746.46,867.61 747.15,867.65 747.84,867.68 748.53,867.71 749.22,867.75 749.91,867.78 750.6,867.81 751.3,867.84 751.99,867.87 752.68,867.91 753.37,867.94 754.06,867.97 754.75,868 755.44,868.03 756.13,868.07 756.83,868.1 757.52,868.13 758.21,868.17 758.9,868.21 759.59,868.25 760.28,868.29 760.97,868.33 761.66,868.38 762.36,868.43 763.05,868.48 763.74,868.54 764.43,868.6 765.12,868.67 765.81,868.74 766.5,868.82 767.19,868.91 767.88,869 768.58,869.11 769.27,869.22 769.96,869.35 770.65,869.49 771.34,869.65 772.03,869.82 772.72,870.01 773.41,870.21 774.11,870.44 774.8,870.69 775.49,870.97 776.18,871.27 776.87,871.59 777.56,871.95 778.25,872.33 778.94,872.74 779.64,873.18 780.33,873.64 781.02,874.13 781.71,874.65 782.4,875.18 783.09,875.73 783.78,876.3 784.47,876.87 785.16,877.45 785.86,878.03 786.55,878.61 787.24,879.17 787.93,879.72 788.62,880.26 789.31,880.77 790,881.27 790.69,881.73 791.39,882.18 792.08,882.59 792.77,882.98 793.46,883.35 794.15,883.69 794.84,884.01 795.53,884.3 796.22,884.57 796.92,884.82 797.61,885.06 798.3,885.27 798.99,885.48 799.68,885.67 800.37,885.84 801.06,886.01 801.75,886.16 802.44,886.31 803.14,886.45 803.83,886.58 804.52,886.71 805.21,886.83 805.9,886.94 806.59,887.06 807.28,887.16 807.97,887.27 808.67,887.37 809.36,887.47 810.05,887.57 810.74,887.66 811.43,887.76 812.12,887.85 812.81,887.94 813.5,888.03 814.2,888.12 814.89,888.21 815.58,888.29 816.27,888.38 816.96,888.46 817.65,888.54 818.34,888.63 819.03,888.71 819.72,888.79 820.42,888.87 821.11,888.94 821.8,889.02 822.49,889.1 823.18,889.17 823.87,889.25 824.56,889.32 825.25,889.39 825.95,889.46 826.64,889.53 827.33,889.6 828.02,889.67 828.71,889.73 829.4,889.8 830.09,889.86 830.78,889.92 831.48,889.98 832.17,890.04 832.86,890.1 833.55,890.16 834.24,890.22 834.93,890.27 835.62,890.32 836.31,890.38 837,890.43 837.7,890.48 838.39,890.53 839.08,890.57 839.77,890.62 840.46,890.67 841.15,890.71 841.84,890.75 842.53,890.79 843.23,890.83 843.92,890.87 844.61,890.91 845.3,890.95 845.99,890.99 846.68,891.02 847.37,891.05 848.06,891.09 848.76,891.12 849.45,891.15 850.14,891.18 850.83,891.21 851.52,891.24 852.21,891.26 852.9,891.29 853.59,891.32 854.28,891.34 854.98,891.36 855.67,891.39 856.36,891.41 857.05,891.43 857.74,891.45 858.43,891.47 859.12,891.49 859.81,891.51 860.51,891.53 861.2,891.55 861.89,891.56 862.58,891.58 863.27,891.59 863.96,891.61 864.65,891.62 865.34,891.64 866.04,891.65 866.73,891.66 867.42,891.68 868.11,891.69 868.8,891.7 869.49,891.71 870.18,891.72 870.87,891.73 871.56,891.74 872.26,891.75 872.95,891.76 873.64,891.77 874.33,891.78 875.02,891.79 875.71,891.8 876.4,891.81 877.09,891.81 877.79,891.82 878.48,891.83 879.17,891.83 879.86,891.84 880.55,891.85 881.24,891.85 881.93,891.86 882.62,891.86 883.32,891.87 884.01,891.87 884.7,891.88 885.39,891.88 886.08,891.89 886.77,891.89 887.46,891.9 888.15,891.9 888.84,891.9 889.54,891.91 890.23,891.91 890.92,891.91 891.61,891.92 892.3,891.92 892.99,891.92 893.68,891.93 894.37,891.93 895.07,891.93 895.76,891.94 896.45,891.94 897.14,891.94 897.83,891.94 898.52,891.94 899.21,891.95 899.9,891.95 900.6,891.95 901.29,891.95 901.98,891.95 902.67,891.96 903.36,891.96 904.05,891.96 904.74,891.96 905.43,891.96 906.12,891.96 906.82,891.97 907.51,891.97 908.2,891.97 908.89,891.97 909.58,891.97 910.27,891.97 910.96,891.97 911.65,891.97 912.35,891.98 913.04,891.98 913.73,891.98 914.42,891.98 915.11,891.98 915.8,891.98 916.49,891.98 917.18,891.98 917.88,891.98 918.57,891.98 919.26,891.98 919.95,891.98 920.64,891.98 921.33,891.99 922.02,891.99 922.71,891.99 923.4,891.99 924.1,891.99 924.79,891.99 925.48,891.99 926.17,891.99 926.86,891.99 927.55,891.99 928.24,891.99 928.93,891.99 929.63,891.99 930.32,891.99 931.01,891.99 931.7,891.99 932.39,891.99 933.08,891.99 933.77,891.99 934.46,891.99 935.16,891.99 935.85,891.99 936.54,891.99 937.23,891.99 937.92,891.99 938.61,891.99 939.3,891.99 939.99,891.99 940.68,892 941.38,892 942.07,892 942.76,892 943.45,892 944.14,892 944.83,892 945.52,892 946.21,892 946.91,892 947.6,892 948.29,892 948.98,892 949.67,892 950.36,892 951.05,892 951.74,892 952.44,892 953.13,892 953.82,892 954.51,892 955.2,892 955.89,892 956.58,892 957.27,892 957.96,892 958.66,892 959.35,892 960.04,892 960.73,892 961.42,892 962.11,892 962.8,892" fill="none" stroke="#1a6fdf" stroke-width="2.2" stroke-linejoin="round" stroke-linecap="round"/>
<polyline points="622.04,854.37 622.73,854.36 623.42,854.36 624.12,854.36 624.81,854.35 625.5,854.35 626.19,854.34 626.88,854.34 627.57,854.34 628.26,854.33 628.95,854.33 629.64,854.33 630.34,854.32 631.03,854.32 631.72,854.32 632.41,854.31 633.1,854.31 633.79,854.31 634.48,854.3 635.17,854.3 635.87,854.3 636.56,854.29 637.25,854.29 637.94,854.29 638.63,854.29 639.32,854.28 640.01,854.28 640.7,854.28 641.4,854.28 642.09,854.28 642.78,854.28 643.47,854.28 644.16,854.28 644.85,854.28 645.54,854.28 646.23,854.28 646.92,854.28 647.62,854.28 648.31,854.28 649,854.28 649.69,854.28 650.38,854.28 651.07,854.29 651.76,854.29 652.45,854.3 653.15,854.3 653.84,854.31 654.53,854.31 655.22,854.32 655.91,854.32 656.6,854.33 657.29,854.34 657.98,854.35 658.68,854.36 659.37,854.37 660.06,854.38 660.75,854.4 661.44,854.41 662.13,854.43 662.82,854.44 663.51,854.46 664.2,854.48 664.9,854.5 665.59,854.52 666.28,854.54 666.97,854.56 667.66,854.59 668.35,854.62 669.04,854.64 669.73,854.67 670.43,854.71 671.12,854.74 671.81,854.77 672.5,854.81 673.19,854.85 673.88,854.89 674.57,854.93 675.26,854.98 675.96,855.02 676.65,855.07 677.34,855.13 678.03,855.18 678.72,855.24 679.41,855.29 680.1,855.36 680.79,855.42 681.48,855.48 682.18,855.55 682.87,855.62 683.56,855.7 684.25,855.77 684.94,855.85 685.63,855.94 686.32,856.02 687.01,856.11 687.71,856.2 688.4,856.29 689.09,856.38 689.78,856.48 690.47,856.58 691.16,856.68 691.85,856.78 692.54,856.89 693.24,856.99 693.93,857.1 694.62,857.21 695.31,857.33 696,857.44 696.69,857.56 697.38,857.67 698.07,857.79 698.76,857.91 699.46,858.02 700.15,858.14 700.84,858.26 701.53,858.38 702.22,858.5 702.91,858.61 703.6,858.73 704.29,858.84 704.99,858.96 705.68,859.07 706.37,859.18 707.06,859.29 707.75,859.39 708.44,859.49 709.13,859.59 709.82,859.69 710.52,859.78 711.21,859.87 711.9,859.96 712.59,860.04 713.28,860.12 713.97,860.19 714.66,860.26 715.35,860.33 716.04,860.39 716.74,860.44 717.43,860.49 718.12,860.53 718.81,860.57 719.5,860.6 720.19,860.63 720.88,860.65 721.57,860.66 722.27,860.67 722.96,860.67 723.65,860.66 724.34,860.65 725.03,860.63 725.72,860.6 726.41,860.57 727.1,860.53 727.8,860.48 728.49,860.42 729.18,860.36 729.87,860.28 730.56,860.2 731.25,860.11 731.94,860.01 732.63,859.9 733.32,859.78 734.02,859.66 734.71,859.52 735.4,859.37 736.09,859.21 736.78,859.04 737.47,858.85 738.16,858.66 738.85,858.45 739.55,858.22 740.24,857.98 740.93,857.73 741.62,857.45 742.31,857.16 743,856.85 743.69,856.51 744.38,856.15 745.08,855.76 745.77,855.35 746.46,854.9 747.15,854.41 747.84,853.88 748.53,853.3 749.22,852.67 749.91,851.98 750.6,851.22 751.3,850.39 751.99,849.47 752.68,848.45 753.37,847.33 754.06,846.08 754.75,844.7 755.44,843.16 756.13,841.46 756.83,839.56 757.52,837.46 758.21,835.14 758.9,832.57 759.59,829.72 760.28,826.59 760.97,823.15 761.66,819.38 762.36,815.25 763.05,810.75 763.74,805.87 764.43,800.59 765.12,794.9 765.81,788.8 766.5,782.27 767.19,775.33 767.88,767.98 768.58,760.24 769.27,752.13 769.96,743.67 770.65,734.91 771.34,725.9 772.03,716.68 772.72,707.34 773.41,697.95 774.11,688.62 774.8,679.44 775.49,670.55 776.18,662.09 776.87,654.2 777.56,647.04 778.25,640.78 778.94,635.57 779.64,631.55 780.33,628.84 781.02,627.54 781.71,627.69 782.4,629.36 783.09,632.5 783.78,637.05 784.47,642.86 785.16,649.79 785.86,657.66 786.55,666.29 787.24,675.5 787.93,685.12 788.62,694.99 789.31,704.99 790,714.98 790.69,724.86 791.39,734.56 792.08,744.01 792.77,753.14 793.46,761.92 794.15,770.32 794.84,778.31 795.53,785.89 796.22,793.03 796.92,799.75 797.61,806.04 798.3,811.91 798.99,817.37 799.68,822.44 800.37,827.13 801.06,831.45 801.75,835.44 802.44,839.1 803.14,842.46 803.83,845.53 804.52,848.35 805.21,850.93 805.9,853.28 806.59,855.43 807.28,857.4 807.97,859.2 808.67,860.85 809.36,862.36 810.05,863.75 810.74,865.03 811.43,866.21 812.12,867.3 812.81,868.31 813.5,869.25 814.2,870.12 814.89,870.94 815.58,871.71 816.27,872.43 816.96,873.11 817.65,873.75 818.34,874.36 819.03,874.93 819.72,875.48 820.42,876 821.11,876.5 821.8,876.97 822.49,877.43 823.18,877.86 823.87,878.28 824.56,878.68 825.25,879.07 825.95,879.44 826.64,879.79 827.33,880.14 828.02,880.47 828.71,880.78 829.4,881.09 830.09,881.39 830.78,881.67 831.48,881.95 832.17,882.22 832.86,882.47 833.55,882.72 834.24,882.96 834.93,883.2 835.62,883.42 836.31,883.64 837,883.85 837.7,884.06 838.39,884.25 839.08,884.44 839.77,884.63 840.46,884.81 841.15,884.98 841.84,885.15 842.53,885.32 843.23,885.47 843.92,885.63 844.61,885.78 845.3,885.92 845.99,886.06 846.68,886.2 847.37,886.33 848.06,886.45 848.76,886.58 849.45,886.7 850.14,886.81 850.83,886.93 851.52,887.04 852.21,887.14 852.9,887.25 853.59,887.35 854.28,887.45 854.98,887.54 855.67,887.63 856.36,887.72 857.05,887.81 857.74,887.9 858.43,887.98 859.12,888.06 859.81,888.14 860.51,888.21 861.2,888.28 861.89,888.36 862.58,888.43 863.27,888.49 863.96,888.56 864.65,888.62 865.34,888.69 866.04,888.75 866.73,888.81 867.42,888.86 868.11,888.92 868.8,888.97 869.49,889.03 870.18,889.08 870.87,889.13 871.56,889.18 872.26,889.23 872.95,889.27 873.64,889.32 874.33,889.36 875.02,889.41 875.71,889.45 876.4,889.49 877.09,889.53 877.79,889.57 878.48,889.61 879.17,889.65 879.86,889.68 880.55,889.72 881.24,889.75 881.93,889.79 882.62,889.82 883.32,889.85 884.01,889.89 884.7,889.92 885.39,889.95 886.08,889.98 886.77,890.01 887.46,890.03 888.15,890.06 888.84,890.09 889.54,890.12 890.23,890.14 890.92,890.17 891.61,890.19 892.3,890.22 892.99,890.24 893.68,890.26 894.37,890.29 895.07,890.31 895.76,890.33 896.45,890.35 897.14,890.37 897.83,890.39 898.52,890.42 899.21,890.44 899.9,890.45 900.6,890.47 901.29,890.49 901.98,890.51 902.67,890.53 903.36,890.55 904.05,890.56 904.74,890.58 905.43,890.6 906.12,890.61 906.82,890.63 907.51,890.65 908.2,890.66 908.89,890.68 909.58,890.69 910.27,890.71 910.96,890.72 911.65,890.74 912.35,890.75 913.04,890.76 913.73,890.78 914.42,890.79 915.11,890.8 915.8,890.82 916.49,890.83 917.18,890.84 917.88,890.85 918.57,890.86 919.26,890.88 919.95,890.89 920.64,890.9 921.33,890.91 922.02,890.92 922.71,890.93 923.4,890.94 924.1,890.95 924.79,890.96 925.48,890.97 926.17,890.98 926.86,890.99 927.55,891 928.24,891.01 928.93,891.02 929.63,891.03 930.32,891.04 931.01,891.05 931.7,891.06 932.39,891.07 933.08,891.08 933.77,891.09 934.46,891.09 935.16,891.1 935.85,891.11 936.54,891.12 937.23,891.13 937.92,891.13 938.61,891.14 939.3,891.15 939.99,891.16 940.68,891.16 941.38,891.17 942.07,891.18 942.76,891.19 943.45,891.19 944.14,891.2 944.83,891.21 945.52,891.21 946.21,891.22 946.91,891.23 947.6,891.23 948.29,891.24 948.98,891.25 949.67,891.25 950.36,891.26 951.05,891.27 951.74,891.27 952.44,891.28 953.13,891.28 953.82,891.29 954.51,891.29 955.2,891.3 955.89,891.31 956.58,891.31 957.27,891.32 957.96,891.32 958.66,891.33 959.35,891.33 960.04,891.34 960.73,891.34 961.42,891.35 962.11,891.35 962.8,891.36" fill="none" stroke="#37ad6b" stroke-width="2.6" stroke-linejoin="round" stroke-linecap="round"/>
<polyline points="622.04,852.86 622.73,852.81 623.42,852.76 624.12,852.71 624.81,852.66 625.5,852.61 626.19,852.55 626.88,852.49 627.57,852.43 628.26,852.37 628.95,852.31 629.64,852.24 630.34,852.17 631.03,852.1 631.72,852.02 632.41,851.94 633.1,851.85 633.79,851.76 634.48,851.67 635.17,851.57 635.87,851.47 636.56,851.36 637.25,851.24 637.94,851.12 638.63,850.99 639.32,850.84 640.01,850.69 640.7,850.53 641.4,850.36 642.09,850.17 642.78,849.97 643.47,849.75 644.16,849.52 644.85,849.27 645.54,849 646.23,848.7 646.92,848.38 647.62,848.03 648.31,847.66 649,847.25 649.69,846.81 650.38,846.34 651.07,845.83 651.76,845.27 652.45,844.67 653.15,844.03 653.84,843.34 654.53,842.59 655.22,841.79 655.91,840.93 656.6,840.02 657.29,839.04 657.98,838 658.68,836.9 659.37,835.73 660.06,834.49 660.75,833.19 661.44,831.81 662.13,830.37 662.82,828.86 663.51,827.29 664.2,825.65 664.9,823.95 665.59,822.19 666.28,820.38 666.97,818.52 667.66,816.61 668.35,814.67 669.04,812.7 669.73,810.71 670.43,808.71 671.12,806.71 671.81,804.73 672.5,802.78 673.19,800.87 673.88,799.03 674.57,797.26 675.26,795.6 675.96,794.05 676.65,792.64 677.34,791.4 678.03,790.33 678.72,789.45 679.41,788.79 680.1,788.35 680.79,788.14 681.48,788.17 682.18,788.44 682.87,788.93 683.56,789.66 684.25,790.59 684.94,791.73 685.63,793.05 686.32,794.55 687.01,796.19 687.71,797.96 688.4,799.85 689.09,801.83 689.78,803.89 690.47,806 691.16,808.15 691.85,810.34 692.54,812.53 693.24,814.73 693.93,816.92 694.62,819.08 695.31,821.22 696,823.32 696.69,825.38 697.38,827.39 698.07,829.34 698.76,831.23 699.46,833.06 700.15,834.83 700.84,836.52 701.53,838.15 702.22,839.71 702.91,841.2 703.6,842.61 704.29,843.96 704.99,845.24 705.68,846.45 706.37,847.6 707.06,848.68 707.75,849.7 708.44,850.66 709.13,851.57 709.82,852.42 710.52,853.22 711.21,853.96 711.9,854.67 712.59,855.32 713.28,855.94 713.97,856.52 714.66,857.06 715.35,857.57 716.04,858.04 716.74,858.49 717.43,858.91 718.12,859.3 718.81,859.67 719.5,860.02 720.19,860.35 720.88,860.66 721.57,860.95 722.27,861.22 722.96,861.49 723.65,861.73 724.34,861.97 725.03,862.19 725.72,862.4 726.41,862.61 727.1,862.8 727.8,862.98 728.49,863.16 729.18,863.33 729.87,863.49 730.56,863.64 731.25,863.79 731.94,863.93 732.63,864.07 733.32,864.2 734.02,864.33 734.71,864.45 735.4,864.56 736.09,864.68 736.78,864.78 737.47,864.89 738.16,864.99 738.85,865.09 739.55,865.18 740.24,865.27 740.93,865.36 741.62,865.45 742.31,865.53 743,865.61 743.69,865.69 744.38,865.76 745.08,865.83 745.77,865.9 746.46,865.97 747.15,866.04 747.84,866.11 748.53,866.17 749.22,866.23 749.91,866.29 750.6,866.35 751.3,866.41 751.99,866.47 752.68,866.53 753.37,866.58 754.06,866.64 754.75,866.7 755.44,866.75 756.13,866.81 756.83,866.86 757.52,866.92 758.21,866.98 758.9,867.03 759.59,867.09 760.28,867.15 760.97,867.22 761.66,867.28 762.36,867.35 763.05,867.42 763.74,867.49 764.43,867.57 765.12,867.66 765.81,867.74 766.5,867.84 767.19,867.94 767.88,868.05 768.58,868.17 769.27,868.3 769.96,868.44 770.65,868.6 771.34,868.77 772.03,868.95 772.72,869.15 773.41,869.37 774.11,869.61 774.8,869.88 775.49,870.16 776.18,870.47 776.87,870.81 777.56,871.17 778.25,871.57 778.94,871.99 779.64,872.44 780.33,872.91 781.02,873.41 781.71,873.93 782.4,874.48 783.09,875.04 783.78,875.61 784.47,876.2 785.16,876.79 785.86,877.37 786.55,877.96 787.24,878.53 787.93,879.09 788.62,879.63 789.31,880.16 790,880.66 790.69,881.13 791.39,881.58 792.08,882.01 792.77,882.4 793.46,882.78 794.15,883.12 794.84,883.45 795.53,883.75 796.22,884.02 796.92,884.28 797.61,884.52 798.3,884.75 798.99,884.96 799.68,885.15 800.37,885.33 801.06,885.5 801.75,885.66 802.44,885.82 803.14,885.96 803.83,886.1 804.52,886.23 805.21,886.36 805.9,886.48 806.59,886.59 807.28,886.71 807.97,886.82 808.67,886.92 809.36,887.03 810.05,887.13 810.74,887.23 811.43,887.33 812.12,887.43 812.81,887.52 813.5,887.62 814.2,887.71 814.89,887.8 815.58,887.89 816.27,887.98 816.96,888.07 817.65,888.15 818.34,888.24 819.03,888.32 819.72,888.41 820.42,888.49 821.11,888.57 821.8,888.65 822.49,888.73 823.18,888.81 823.87,888.89 824.56,888.96 825.25,889.04 825.95,889.11 826.64,889.19 827.33,889.26 828.02,889.33 828.71,889.4 829.4,889.47 830.09,889.53 830.78,889.6 831.48,889.66 832.17,889.72 832.86,889.79 833.55,889.85 834.24,889.91 834.93,889.96 835.62,890.02 836.31,890.07 837,890.13 837.7,890.18 838.39,890.23 839.08,890.28 839.77,890.33 840.46,890.38 841.15,890.43 841.84,890.47 842.53,890.51 843.23,890.56 843.92,890.6 844.61,890.64 845.3,890.68 845.99,890.72 846.68,890.75 847.37,890.79 848.06,890.83 848.76,890.86 849.45,890.89 850.14,890.92 850.83,890.96 851.52,890.99 852.21,891.01 852.9,891.04 853.59,891.07 854.28,891.1 854.98,891.12 855.67,891.15 856.36,891.17 857.05,891.2 857.74,891.22 858.43,891.24 859.12,891.26 859.81,891.28 860.51,891.3 861.2,891.32 861.89,891.34 862.58,891.36 863.27,891.37 863.96,891.39 864.65,891.41 865.34,891.42 866.04,891.44 866.73,891.45 867.42,891.47 868.11,891.48 868.8,891.49 869.49,891.51 870.18,891.52 870.87,891.53 871.56,891.54 872.26,891.55 872.95,891.56 873.64,891.57 874.33,891.58 875.02,891.59 875.71,891.6 876.4,891.61 877.09,891.62 877.79,891.63 878.48,891.64 879.17,891.65 879.86,891.65 880.55,891.66 881.24,891.67 881.93,891.68 882.62,891.68 883.32,891.69 884.01,891.7 884.7,891.7 885.39,891.71 886.08,891.71 886.77,891.72 887.46,891.72 888.15,891.73 888.84,891.73 889.54,891.74 890.23,891.74 890.92,891.75 891.61,891.75 892.3,891.76 892.99,891.76 893.68,891.77 894.37,891.77 895.07,891.77 895.76,891.78 896.45,891.78 897.14,891.78 897.83,891.79 898.52,891.79 899.21,891.79 899.9,891.8 900.6,891.8 901.29,891.8 901.98,891.8 902.67,891.81 903.36,891.81 904.05,891.81 904.74,891.82 905.43,891.82 906.12,891.82 906.82,891.82 907.51,891.82 908.2,891.83 908.89,891.83 909.58,891.83 910.27,891.83 910.96,891.83 911.65,891.84 912.35,891.84 913.04,891.84 913.73,891.84 914.42,891.84 915.11,891.85 915.8,891.85 916.49,891.85 917.18,891.85 917.88,891.85 918.57,891.85 919.26,891.85 919.95,891.86 920.64,891.86 921.33,891.86 922.02,891.86 922.71,891.86 923.4,891.86 924.1,891.86 924.79,891.86 925.48,891.87 926.17,891.87 926.86,891.87 927.55,891.87 928.24,891.87 928.93,891.87 929.63,891.87 930.32,891.87 931.01,891.87 931.7,891.88 932.39,891.88 933.08,891.88 933.77,891.88 934.46,891.88 935.16,891.88 935.85,891.88 936.54,891.88 937.23,891.88 937.92,891.88 938.61,891.88 939.3,891.88 939.99,891.89 940.68,891.89 941.38,891.89 942.07,891.89 942.76,891.89 943.45,891.89 944.14,891.89 944.83,891.89 945.52,891.89 946.21,891.89 946.91,891.89 947.6,891.89 948.29,891.89 948.98,891.89 949.67,891.9 950.36,891.9 951.05,891.9 951.74,891.9 952.44,891.9 953.13,891.9 953.82,891.9 954.51,891.9 955.2,891.9 955.89,891.9 956.58,891.9 957.27,891.9 957.96,891.9 958.66,891.9 959.35,891.9 960.04,891.9 960.73,891.9 961.42,891.91 962.11,891.91 962.8,891.91" fill="none" stroke="#b177de" stroke-width="2.9" stroke-linejoin="round" stroke-linecap="round"/>
<polyline points="622.04,855.01 622.73,855.01 623.42,855.01 624.12,855.02 624.81,855.02 625.5,855.02 626.19,855.02 626.88,855.02 627.57,855.03 628.26,855.03 628.95,855.03 629.64,855.04 630.34,855.04 631.03,855.04 631.72,855.04 632.41,855.05 633.1,855.05 633.79,855.06 634.48,855.06 635.17,855.06 635.87,855.07 636.56,855.07 637.25,855.08 637.94,855.08 638.63,855.09 639.32,855.09 640.01,855.1 640.7,855.11 641.4,855.11 642.09,855.12 642.78,855.13 643.47,855.13 644.16,855.14 644.85,855.15 645.54,855.16 646.23,855.17 646.92,855.18 647.62,855.19 648.31,855.2 649,855.21 649.69,855.22 650.38,855.24 651.07,855.25 651.76,855.26 652.45,855.28 653.15,855.29 653.84,855.31 654.53,855.33 655.22,855.34 655.91,855.36 656.6,855.38 657.29,855.4 657.98,855.42 658.68,855.44 659.37,855.47 660.06,855.49 660.75,855.52 661.44,855.54 662.13,855.57 662.82,855.6 663.51,855.63 664.2,855.67 664.9,855.7 665.59,855.73 666.28,855.77 666.97,855.81 667.66,855.85 668.35,855.89 669.04,855.94 669.73,855.98 670.43,856.03 671.12,856.08 671.81,856.13 672.5,856.18 673.19,856.24 673.88,856.3 674.57,856.36 675.26,856.42 675.96,856.49 676.65,856.56 677.34,856.63 678.03,856.7 678.72,856.78 679.41,856.86 680.1,856.94 680.79,857.03 681.48,857.12 682.18,857.21 682.87,857.3 683.56,857.4 684.25,857.5 684.94,857.6 685.63,857.71 686.32,857.82 687.01,857.93 687.71,858.05 688.4,858.17 689.09,858.29 689.78,858.42 690.47,858.54 691.16,858.67 691.85,858.81 692.54,858.95 693.24,859.08 693.93,859.23 694.62,859.37 695.31,859.52 696,859.67 696.69,859.82 697.38,859.97 698.07,860.13 698.76,860.28 699.46,860.44 700.15,860.6 700.84,860.76 701.53,860.92 702.22,861.08 702.91,861.24 703.6,861.4 704.29,861.57 704.99,861.73 705.68,861.89 706.37,862.05 707.06,862.21 707.75,862.37 708.44,862.53 709.13,862.69 709.82,862.84 710.52,863 711.21,863.15 711.9,863.3 712.59,863.45 713.28,863.59 713.97,863.74 714.66,863.88 715.35,864.02 716.04,864.15 716.74,864.28 717.43,864.41 718.12,864.54 718.81,864.67 719.5,864.79 720.19,864.9 720.88,865.02 721.57,865.13 722.27,865.24 722.96,865.35 723.65,865.45 724.34,865.55 725.03,865.65 725.72,865.74 726.41,865.83 727.1,865.92 727.8,866 728.49,866.08 729.18,866.16 729.87,866.24 730.56,866.31 731.25,866.38 731.94,866.45 732.63,866.52 733.32,866.58 734.02,866.64 734.71,866.7 735.4,866.76 736.09,866.82 736.78,866.87 737.47,866.92 738.16,866.97 738.85,867.02 739.55,867.06 740.24,867.1 740.93,867.15 741.62,867.19 742.31,867.23 743,867.26 743.69,867.3 744.38,867.34 745.08,867.37 745.77,867.4 746.46,867.44 747.15,867.47 747.84,867.5 748.53,867.53 749.22,867.56 749.91,867.58 750.6,867.61 751.3,867.64 751.99,867.67 752.68,867.69 753.37,867.72 754.06,867.75 754.75,867.78 755.44,867.8 756.13,867.83 756.83,867.86 757.52,867.89 758.21,867.92 758.9,867.95 759.59,867.99 760.28,868.02 760.97,868.06 761.66,868.1 762.36,868.14 763.05,868.19 763.74,868.24 764.43,868.29 765.12,868.35 765.81,868.41 766.5,868.49 767.19,868.56 767.88,868.65 768.58,868.75 769.27,868.85 769.96,868.97 770.65,869.1 771.34,869.24 772.03,869.4 772.72,869.58 773.41,869.77 774.11,869.99 774.8,870.22 775.49,870.48 776.18,870.76 776.87,871.07 777.56,871.41 778.25,871.77 778.94,872.16 779.64,872.57 780.33,873.01 781.02,873.47 781.71,873.96 782.4,874.46 783.09,874.97 783.78,875.5 784.47,876.03 785.16,876.56 785.86,877.08 786.55,877.6 787.24,878.1 787.93,878.58 788.62,879.03 789.31,879.45 790,879.85 790.69,880.21 791.39,880.53 792.08,880.81 792.77,881.06 793.46,881.26 794.15,881.42 794.84,881.55 795.53,881.63 796.22,881.68 796.92,881.69 797.61,881.66 798.3,881.59 798.99,881.49 799.68,881.36 800.37,881.19 801.06,881 801.75,880.77 802.44,880.52 803.14,880.24 803.83,879.94 804.52,879.62 805.21,879.28 805.9,878.93 806.59,878.56 807.28,878.19 807.97,877.82 808.67,877.44 809.36,877.07 810.05,876.71 810.74,876.37 811.43,876.05 812.12,875.76 812.81,875.5 813.5,875.28 814.2,875.11 814.89,874.98 815.58,874.92 816.27,874.91 816.96,874.96 817.65,875.07 818.34,875.25 819.03,875.48 819.72,875.77 820.42,876.11 821.11,876.5 821.8,876.93 822.49,877.39 823.18,877.88 823.87,878.39 824.56,878.92 825.25,879.46 825.95,880.01 826.64,880.56 827.33,881.11 828.02,881.65 828.71,882.19 829.4,882.71 830.09,883.22 830.78,883.72 831.48,884.19 832.17,884.65 832.86,885.09 833.55,885.51 834.24,885.91 834.93,886.29 835.62,886.64 836.31,886.98 837,887.29 837.7,887.59 838.39,887.86 839.08,888.12 839.77,888.36 840.46,888.58 841.15,888.78 841.84,888.97 842.53,889.15 843.23,889.31 843.92,889.46 844.61,889.59 845.3,889.72 845.99,889.84 846.68,889.95 847.37,890.05 848.06,890.14 848.76,890.22 849.45,890.3 850.14,890.38 850.83,890.45 851.52,890.51 852.21,890.57 852.9,890.63 853.59,890.68 854.28,890.73 854.98,890.78 855.67,890.83 856.36,890.87 857.05,890.91 857.74,890.95 858.43,890.98 859.12,891.02 859.81,891.05 860.51,891.09 861.2,891.12 861.89,891.15 862.58,891.17 863.27,891.2 863.96,891.23 864.65,891.25 865.34,891.28 866.04,891.3 866.73,891.32 867.42,891.34 868.11,891.36 868.8,891.38 869.49,891.4 870.18,891.42 870.87,891.44 871.56,891.46 872.26,891.47 872.95,891.49 873.64,891.5 874.33,891.52 875.02,891.53 875.71,891.55 876.4,891.56 877.09,891.57 877.79,891.59 878.48,891.6 879.17,891.61 879.86,891.62 880.55,891.63 881.24,891.64 881.93,891.65 882.62,891.66 883.32,891.67 884.01,891.68 884.7,891.69 885.39,891.7 886.08,891.7 886.77,891.71 887.46,891.72 888.15,891.73 888.84,891.73 889.54,891.74 890.23,891.75 890.92,891.75 891.61,891.76 892.3,891.77 892.99,891.77 893.68,891.78 894.37,891.78 895.07,891.79 895.76,891.79 896.45,891.8 897.14,891.8 897.83,891.81 898.52,891.81 899.21,891.82 899.9,891.82 900.6,891.82 901.29,891.83 901.98,891.83 902.67,891.84 903.36,891.84 904.05,891.84 904.74,891.85 905.43,891.85 906.12,891.85 906.82,891.86 907.51,891.86 908.2,891.86 908.89,891.86 909.58,891.87 910.27,891.87 910.96,891.87 911.65,891.87 912.35,891.88 913.04,891.88 913.73,891.88 914.42,891.88 915.11,891.89 915.8,891.89 916.49,891.89 917.18,891.89 917.88,891.89 918.57,891.9 919.26,891.9 919.95,891.9 920.64,891.9 921.33,891.9 922.02,891.9 922.71,891.91 923.4,891.91 924.1,891.91 924.79,891.91 925.48,891.91 926.17,891.91 926.86,891.92 927.55,891.92 928.24,891.92 928.93,891.92 929.63,891.92 930.32,891.92 931.01,891.92 931.7,891.92 932.39,891.92 933.08,891.93 933.77,891.93 934.46,891.93 935.16,891.93 935.85,891.93 936.54,891.93 937.23,891.93 937.92,891.93 938.61,891.93 939.3,891.93 939.99,891.94 940.68,891.94 941.38,891.94 942.07,891.94 942.76,891.94 943.45,891.94 944.14,891.94 944.83,891.94 945.52,891.94 946.21,891.94 946.91,891.94 947.6,891.94 948.29,891.94 948.98,891.95 949.67,891.95 950.36,891.95 951.05,891.95 951.74,891.95 952.44,891.95 953.13,891.95 953.82,891.95 954.51,891.95 955.2,891.95 955.89,891.95 956.58,891.95 957.27,891.95 957.96,891.95 958.66,891.95 959.35,891.95 960.04,891.95 960.73,891.95 961.42,891.96 962.11,891.96 962.8,891.96" fill="none" stroke="#cc9900" stroke-width="2.6" stroke-linejoin="round" stroke-linecap="round"/>
<polyline points="622.04,855.04 622.73,855.04 623.42,855.04 624.12,855.04 624.81,855.04 625.5,855.05 626.19,855.05 626.88,855.05 627.57,855.05 628.26,855.06 628.95,855.06 629.64,855.06 630.34,855.06 631.03,855.07 631.72,855.07 632.41,855.07 633.1,855.08 633.79,855.08 634.48,855.09 635.17,855.09 635.87,855.1 636.56,855.1 637.25,855.11 637.94,855.11 638.63,855.12 639.32,855.12 640.01,855.13 640.7,855.13 641.4,855.14 642.09,855.15 642.78,855.16 643.47,855.16 644.16,855.17 644.85,855.18 645.54,855.19 646.23,855.2 646.92,855.21 647.62,855.22 648.31,855.23 649,855.24 649.69,855.26 650.38,855.27 651.07,855.28 651.76,855.3 652.45,855.31 653.15,855.33 653.84,855.34 654.53,855.36 655.22,855.38 655.91,855.4 656.6,855.42 657.29,855.44 657.98,855.46 658.68,855.48 659.37,855.5 660.06,855.53 660.75,855.55 661.44,855.58 662.13,855.61 662.82,855.64 663.51,855.67 664.2,855.7 664.9,855.74 665.59,855.77 666.28,855.81 666.97,855.85 667.66,855.89 668.35,855.93 669.04,855.98 669.73,856.02 670.43,856.07 671.12,856.12 671.81,856.17 672.5,856.23 673.19,856.28 673.88,856.34 674.57,856.41 675.26,856.47 675.96,856.54 676.65,856.6 677.34,856.68 678.03,856.75 678.72,856.83 679.41,856.9 680.1,856.99 680.79,857.07 681.48,857.15 682.18,857.24 682.87,857.33 683.56,857.42 684.25,857.51 684.94,857.59 685.63,857.68 686.32,857.75 687.01,857.83 687.71,857.89 688.4,857.94 689.09,857.98 689.78,858 690.47,858 691.16,857.97 691.85,857.92 692.54,857.84 693.24,857.72 693.93,857.56 694.62,857.37 695.31,857.15 696,856.89 696.69,856.6 697.38,856.28 698.07,855.94 698.76,855.59 699.46,855.24 700.15,854.91 700.84,854.59 701.53,854.31 702.22,854.08 702.91,853.9 703.6,853.8 704.29,853.77 704.99,853.82 705.68,853.97 706.37,854.21 707.06,854.56 707.75,855 708.44,855.51 709.13,856.07 709.82,856.67 710.52,857.28 711.21,857.9 711.9,858.51 712.59,859.11 713.28,859.68 713.97,860.22 714.66,860.73 715.35,861.21 716.04,861.65 716.74,862.06 717.43,862.44 718.12,862.79 718.81,863.12 719.5,863.41 720.19,863.68 720.88,863.93 721.57,864.15 722.27,864.36 722.96,864.55 723.65,864.73 724.34,864.9 725.03,865.05 725.72,865.2 726.41,865.33 727.1,865.46 727.8,865.58 728.49,865.7 729.18,865.81 729.87,865.91 730.56,866.01 731.25,866.1 731.94,866.19 732.63,866.28 733.32,866.36 734.02,866.44 734.71,866.52 735.4,866.59 736.09,866.66 736.78,866.73 737.47,866.79 738.16,866.85 738.85,866.91 739.55,866.97 740.24,867.03 740.93,867.08 741.62,867.13 742.31,867.18 743,867.23 743.69,867.27 744.38,867.32 745.08,867.36 745.77,867.4 746.46,867.45 747.15,867.49 747.84,867.52 748.53,867.56 749.22,867.6 749.91,867.64 750.6,867.67 751.3,867.71 751.99,867.74 752.68,867.78 753.37,867.81 754.06,867.85 754.75,867.88 755.44,867.92 756.13,867.96 756.83,867.99 757.52,868.03 758.21,868.07 758.9,868.11 759.59,868.15 760.28,868.19 760.97,868.24 761.66,868.29 762.36,868.34 763.05,868.4 763.74,868.45 764.43,868.52 765.12,868.59 765.81,868.66 766.5,868.74 767.19,868.83 767.88,868.93 768.58,869.04 769.27,869.15 769.96,869.28 770.65,869.42 771.34,869.58 772.03,869.75 772.72,869.94 773.41,870.15 774.11,870.38 774.8,870.63 775.49,870.91 776.18,871.21 776.87,871.54 777.56,871.89 778.25,872.28 778.94,872.69 779.64,873.13 780.33,873.59 781.02,874.08 781.71,874.6 782.4,875.13 783.09,875.69 783.78,876.25 784.47,876.83 785.16,877.41 785.86,877.99 786.55,878.56 787.24,879.13 787.93,879.68 788.62,880.22 789.31,880.73 790,881.23 790.69,881.69 791.39,882.14 792.08,882.56 792.77,882.95 793.46,883.31 794.15,883.65 794.84,883.97 795.53,884.26 796.22,884.54 796.92,884.79 797.61,885.02 798.3,885.24 798.99,885.44 799.68,885.63 800.37,885.81 801.06,885.98 801.75,886.13 802.44,886.28 803.14,886.42 803.83,886.55 804.52,886.68 805.21,886.8 805.9,886.91 806.59,887.03 807.28,887.14 807.97,887.24 808.67,887.34 809.36,887.44 810.05,887.54 810.74,887.64 811.43,887.73 812.12,887.82 812.81,887.92 813.5,888.01 814.2,888.09 814.89,888.18 815.58,888.27 816.27,888.35 816.96,888.44 817.65,888.52 818.34,888.6 819.03,888.68 819.72,888.76 820.42,888.84 821.11,888.92 821.8,889 822.49,889.08 823.18,889.15 823.87,889.22 824.56,889.3 825.25,889.37 825.95,889.44 826.64,889.51 827.33,889.58 828.02,889.65 828.71,889.71 829.4,889.78 830.09,889.84 830.78,889.9 831.48,889.97 832.17,890.03 832.86,890.08 833.55,890.14 834.24,890.2 834.93,890.25 835.62,890.31 836.31,890.36 837,890.41 837.7,890.46 838.39,890.51 839.08,890.56 839.77,890.61 840.46,890.65 841.15,890.69 841.84,890.74 842.53,890.78 843.23,890.82 843.92,890.86 844.61,890.9 845.3,890.93 845.99,890.97 846.68,891.01 847.37,891.04 848.06,891.07 848.76,891.1 849.45,891.14 850.14,891.17 850.83,891.2 851.52,891.22 852.21,891.25 852.9,891.28 853.59,891.3 854.28,891.33 854.98,891.35 855.67,891.37 856.36,891.4 857.05,891.42 857.74,891.44 858.43,891.46 859.12,891.48 859.81,891.5 860.51,891.52 861.2,891.53 861.89,891.55 862.58,891.57 863.27,891.58 863.96,891.6 864.65,891.61 865.34,891.63 866.04,891.64 866.73,891.65 867.42,891.67 868.11,891.68 868.8,891.69 869.49,891.7 870.18,891.71 870.87,891.72 871.56,891.73 872.26,891.74 872.95,891.75 873.64,891.76 874.33,891.77 875.02,891.78 875.71,891.79 876.4,891.8 877.09,891.8 877.79,891.81 878.48,891.82 879.17,891.82 879.86,891.83 880.55,891.84 881.24,891.84 881.93,891.85 882.62,891.85 883.32,891.86 884.01,891.86 884.7,891.87 885.39,891.87 886.08,891.88 886.77,891.88 887.46,891.89 888.15,891.89 888.84,891.9 889.54,891.9 890.23,891.9 890.92,891.91 891.61,891.91 892.3,891.91 892.99,891.92 893.68,891.92 894.37,891.92 895.07,891.92 895.76,891.93 896.45,891.93 897.14,891.93 897.83,891.93 898.52,891.94 899.21,891.94 899.9,891.94 900.6,891.94 901.29,891.95 901.98,891.95 902.67,891.95 903.36,891.95 904.05,891.95 904.74,891.95 905.43,891.96 906.12,891.96 906.82,891.96 907.51,891.96 908.2,891.96 908.89,891.96 909.58,891.96 910.27,891.97 910.96,891.97 911.65,891.97 912.35,891.97 913.04,891.97 913.73,891.97 914.42,891.97 915.11,891.97 915.8,891.97 916.49,891.97 917.18,891.97 917.88,891.98 918.57,891.98 919.26,891.98 919.95,891.98 920.64,891.98 921.33,891.98 922.02,891.98 922.71,891.98 923.4,891.98 924.1,891.98 924.79,891.98 925.48,891.98 926.17,891.98 926.86,891.98 927.55,891.98 928.24,891.98 928.93,891.98 929.63,891.99 930.32,891.99 931.01,891.99 931.7,891.99 932.39,891.99 933.08,891.99 933.77,891.99 934.46,891.99 935.16,891.99 935.85,891.99 936.54,891.99 937.23,891.99 937.92,891.99 938.61,891.99 939.3,891.99 939.99,891.99 940.68,891.99 941.38,891.99 942.07,891.99 942.76,891.99 943.45,891.99 944.14,891.99 944.83,891.99 945.52,891.99 946.21,891.99 946.91,891.99 947.6,891.99 948.29,891.99 948.98,891.99 949.67,891.99 950.36,891.99 951.05,891.99 951.74,891.99 952.44,891.99 953.13,891.99 953.82,891.99 954.51,891.99 955.2,891.99 955.89,891.99 956.58,891.99 957.27,891.99 957.96,891.99 958.66,891.99 959.35,891.99 960.04,891.99 960.73,891.99 961.42,891.99 962.11,891.99 962.8,891.99" fill="none" stroke="#00cbcc" stroke-width="2.6" stroke-linejoin="round" stroke-linecap="round"/>
<rect x="588" y="595.6" width="398.3" height="321.2" fill="none" stroke="#2c2c2c" stroke-width="1.3"/>
<line x1="588" y1="916.8" x2="588" y2="922.8" stroke="#2c2c2c" stroke-width="1.3"/>
<text x="588" y="950.7" font-size="29.7" text-anchor="middle">470</text>
<line x1="674.4" y1="916.8" x2="674.4" y2="922.8" stroke="#2c2c2c" stroke-width="1.3"/>
<text x="674.4" y="950.7" font-size="29.7" text-anchor="middle">465</text>
<line x1="760.8" y1="916.8" x2="760.8" y2="922.8" stroke="#2c2c2c" stroke-width="1.3"/>
<text x="760.8" y="950.7" font-size="29.7" text-anchor="middle">460</text>
<line x1="847.2" y1="916.8" x2="847.2" y2="922.8" stroke="#2c2c2c" stroke-width="1.3"/>
<text x="847.2" y="950.7" font-size="29.7" text-anchor="middle">455</text>
<line x1="933.6" y1="916.8" x2="933.6" y2="922.8" stroke="#2c2c2c" stroke-width="1.3"/>
<text x="933.6" y="950.7" font-size="29.7" text-anchor="middle">450</text>
<text x="798.7" y="979" font-size="30.2" text-anchor="middle">Binding Energy (eV)</text>
<text x="0" y="0" font-size="30.4" text-anchor="middle" transform="translate(577.2 776.7) rotate(-90)">Intensity (a.u.)</text>
<text x="981.3" y="627.2" font-size="30.3" text-anchor="end">Ti 2p</text>
<text x="591" y="746.4" font-size="27">Ti<tspan font-size="18.5" dy="-10.5">4+</tspan><tspan dy="10.5">, 464.4eV</tspan></text>
<text x="808" y="692.5" font-size="27">Ti<tspan font-size="18.5" dy="-10.5">4+</tspan><tspan dy="10.5">, 458.8eV</tspan></text>
<text x="806" y="833.6" font-size="27" fill="#ff0000">Ti<tspan font-size="18.5" dy="-10.5">3+</tspan><tspan dy="10.5">, 456.8eV</tspan></text>
<line x1="662.9" y1="749.3" x2="680.5" y2="786" stroke="#000" stroke-width="2"/>
<line x1="781.4" y1="626.4" x2="824.6" y2="663.7" stroke="#000" stroke-width="2"/>
<line x1="843.6" y1="839.3" x2="819.3" y2="876.4" stroke="#000" stroke-width="2"/>
</g>
<g id="panel-f">
<g fill="none" stroke="#262626" stroke-width="0.7"><circle cx="115.05" cy="1283.84" r="3.4"/><circle cx="116.65" cy="1283.63" r="3.4"/><circle cx="118.24" cy="1283.23" r="3.4"/><circle cx="119.84" cy="1282.98" r="3.4"/><circle cx="121.43" cy="1282.45" r="3.4"/><circle cx="123.03" cy="1282.26" r="3.4"/><circle cx="124.62" cy="1281.87" r="3.4"/><circle cx="126.22" cy="1282.15" r="3.4"/><circle cx="127.81" cy="1281.22" r="3.4"/><circle cx="129.41" cy="1280.62" r="3.4"/><circle cx="131" cy="1279.99" r="3.4"/><circle cx="132.6" cy="1280.15" r="3.4"/><circle cx="134.19" cy="1279.57" r="3.4"/><circle cx="135.79" cy="1278.77" r="3.4"/><circle cx="137.38" cy="1277.79" r="3.4"/><circle cx="138.98" cy="1277.18" r="3.4"/><circle cx="140.57" cy="1276.68" r="3.4"/><circle cx="142.17" cy="1276.3" r="3.4"/><circle cx="143.76" cy="1275.42" r="3.4"/><circle cx="145.36" cy="1275.08" r="3.4"/><circle cx="146.95" cy="1274.18" r="3.4"/><circle cx="148.55" cy="1274.05" r="3.4"/><circle cx="150.14" cy="1273.07" r="3.4"/><circle cx="151.74" cy="1271.46" r="3.4"/><circle cx="153.33" cy="1269.77" r="3.4"/><circle cx="154.93" cy="1268.87" r="3.4"/><circle cx="156.53" cy="1266.37" r="3.4"/><circle cx="158.12" cy="1264.35" r="3.4"/><circle cx="159.71" cy="1261.72" r="3.4"/><circle cx="161.31" cy="1259.62" r="3.4"/><circle cx="162.9" cy="1257.04" r="3.4"/><circle cx="164.5" cy="1254.19" r="3.4"/><circle cx="166.09" cy="1250.76" r="3.4"/><circle cx="167.69" cy="1247.66" r="3.4"/><circle cx="169.28" cy="1243.42" r="3.4"/><circle cx="170.88" cy="1239.55" r="3.4"/><circle cx="172.47" cy="1234.83" r="3.4"/><circle cx="174.07" cy="1230.19" r="3.4"/><circle cx="175.66" cy="1224.53" r="3.4"/><circle cx="177.26" cy="1219.01" r="3.4"/><circle cx="178.85" cy="1213.78" r="3.4"/><circle cx="180.45" cy="1208.52" r="3.4"/><circle cx="182.04" cy="1204.36" r="3.4"/><circle cx="183.64" cy="1200.91" r="3.4"/><circle cx="185.23" cy="1199.23" r="3.4"/><circle cx="186.83" cy="1199" r="3.4"/><circle cx="188.43" cy="1200.7" r="3.4"/><circle cx="190.02" cy="1204.12" r="3.4"/><circle cx="191.61" cy="1208.19" r="3.4"/><circle cx="193.21" cy="1213.59" r="3.4"/><circle cx="194.8" cy="1220.22" r="3.4"/><circle cx="196.4" cy="1225.49" r="3.4"/><circle cx="197.99" cy="1232.03" r="3.4"/><circle cx="199.59" cy="1237.57" r="3.4"/><circle cx="201.18" cy="1242.15" r="3.4"/><circle cx="202.78" cy="1247.65" r="3.4"/><circle cx="204.38" cy="1251.98" r="3.4"/><circle cx="205.97" cy="1255.62" r="3.4"/><circle cx="207.56" cy="1259.34" r="3.4"/><circle cx="209.16" cy="1262.78" r="3.4"/><circle cx="210.75" cy="1265.23" r="3.4"/><circle cx="212.35" cy="1268.48" r="3.4"/><circle cx="213.94" cy="1271.04" r="3.4"/><circle cx="215.54" cy="1273.61" r="3.4"/><circle cx="217.13" cy="1275.47" r="3.4"/><circle cx="218.73" cy="1277.04" r="3.4"/><circle cx="220.32" cy="1278.04" r="3.4"/><circle cx="221.92" cy="1279.37" r="3.4"/><circle cx="223.51" cy="1280.02" r="3.4"/><circle cx="225.11" cy="1280.84" r="3.4"/><circle cx="226.7" cy="1281.18" r="3.4"/><circle cx="228.3" cy="1281.85" r="3.4"/><circle cx="229.89" cy="1282.91" r="3.4"/><circle cx="231.49" cy="1284.15" r="3.4"/><circle cx="233.08" cy="1284.93" r="3.4"/><circle cx="234.68" cy="1286.63" r="3.4"/><circle cx="236.27" cy="1287.13" r="3.4"/><circle cx="237.87" cy="1287.67" r="3.4"/><circle cx="239.46" cy="1287.68" r="3.4"/><circle cx="241.06" cy="1287.16" r="3.4"/><circle cx="242.65" cy="1285.71" r="3.4"/><circle cx="244.25" cy="1283.2" r="3.4"/><circle cx="245.84" cy="1281.18" r="3.4"/><circle cx="247.44" cy="1277.51" r="3.4"/><circle cx="249.03" cy="1272.85" r="3.4"/><circle cx="250.63" cy="1267.66" r="3.4"/><circle cx="252.23" cy="1261.75" r="3.4"/><circle cx="253.82" cy="1254.27" r="3.4"/><circle cx="255.41" cy="1247.12" r="3.4"/><circle cx="257.01" cy="1237.77" r="3.4"/><circle cx="258.6" cy="1227.54" r="3.4"/><circle cx="260.2" cy="1216.35" r="3.4"/><circle cx="261.79" cy="1203.99" r="3.4"/><circle cx="263.39" cy="1189.1" r="3.4"/><circle cx="264.98" cy="1173.74" r="3.4"/><circle cx="266.58" cy="1156.68" r="3.4"/><circle cx="268.18" cy="1137.76" r="3.4"/><circle cx="269.77" cy="1118.56" r="3.4"/><circle cx="271.36" cy="1099.65" r="3.4"/><circle cx="272.96" cy="1082.1" r="3.4"/><circle cx="274.55" cy="1067.41" r="3.4"/><circle cx="276.15" cy="1057.72" r="3.4"/><circle cx="277.74" cy="1055.52" r="3.4"/><circle cx="279.34" cy="1060.58" r="3.4"/><circle cx="280.93" cy="1073.02" r="3.4"/><circle cx="282.53" cy="1090.38" r="3.4"/><circle cx="284.12" cy="1111.03" r="3.4"/><circle cx="285.72" cy="1132.13" r="3.4"/><circle cx="287.31" cy="1154.27" r="3.4"/><circle cx="288.91" cy="1175.18" r="3.4"/><circle cx="290.5" cy="1195.71" r="3.4"/><circle cx="292.1" cy="1215" r="3.4"/><circle cx="293.69" cy="1232.79" r="3.4"/><circle cx="295.29" cy="1248.32" r="3.4"/><circle cx="296.88" cy="1261.85" r="3.4"/><circle cx="298.48" cy="1273.02" r="3.4"/><circle cx="300.07" cy="1282.84" r="3.4"/><circle cx="301.67" cy="1290.51" r="3.4"/><circle cx="303.26" cy="1296.51" r="3.4"/><circle cx="304.86" cy="1300.61" r="3.4"/><circle cx="306.45" cy="1304.54" r="3.4"/><circle cx="308.05" cy="1305.95" r="3.4"/><circle cx="309.64" cy="1308.05" r="3.4"/><circle cx="311.24" cy="1308.81" r="3.4"/><circle cx="312.83" cy="1308.39" r="3.4"/><circle cx="314.43" cy="1309.18" r="3.4"/><circle cx="316.02" cy="1309.85" r="3.4"/><circle cx="317.62" cy="1310.35" r="3.4"/><circle cx="319.21" cy="1310.23" r="3.4"/><circle cx="320.81" cy="1310.5" r="3.4"/><circle cx="322.4" cy="1310.94" r="3.4"/><circle cx="324" cy="1312.18" r="3.4"/><circle cx="325.59" cy="1311.96" r="3.4"/><circle cx="327.19" cy="1312.82" r="3.4"/><circle cx="328.78" cy="1312.85" r="3.4"/><circle cx="330.38" cy="1313.67" r="3.4"/><circle cx="331.97" cy="1314.51" r="3.4"/><circle cx="333.57" cy="1314.06" r="3.4"/><circle cx="335.16" cy="1315.1" r="3.4"/><circle cx="336.76" cy="1315.1" r="3.4"/><circle cx="338.35" cy="1315.77" r="3.4"/><circle cx="339.95" cy="1315.85" r="3.4"/><circle cx="341.54" cy="1315.62" r="3.4"/><circle cx="343.14" cy="1316.51" r="3.4"/><circle cx="344.73" cy="1316.3" r="3.4"/><circle cx="346.33" cy="1316.03" r="3.4"/><circle cx="347.93" cy="1316.19" r="3.4"/><circle cx="349.52" cy="1316.84" r="3.4"/><circle cx="351.11" cy="1316.96" r="3.4"/><circle cx="352.71" cy="1316.95" r="3.4"/><circle cx="354.3" cy="1316.92" r="3.4"/><circle cx="355.9" cy="1317.25" r="3.4"/><circle cx="357.49" cy="1317.34" r="3.4"/><circle cx="359.09" cy="1317.98" r="3.4"/><circle cx="360.68" cy="1317.24" r="3.4"/><circle cx="362.28" cy="1318.09" r="3.4"/><circle cx="363.88" cy="1318.27" r="3.4"/><circle cx="365.47" cy="1317.64" r="3.4"/><circle cx="367.06" cy="1318.53" r="3.4"/><circle cx="368.66" cy="1318.39" r="3.4"/><circle cx="370.25" cy="1318.66" r="3.4"/><circle cx="371.85" cy="1318.12" r="3.4"/><circle cx="373.44" cy="1318.27" r="3.4"/><circle cx="375.04" cy="1318.35" r="3.4"/><circle cx="376.63" cy="1319.02" r="3.4"/><circle cx="378.23" cy="1318.67" r="3.4"/><circle cx="379.82" cy="1318.5" r="3.4"/><circle cx="381.42" cy="1318.62" r="3.4"/><circle cx="383.01" cy="1318.52" r="3.4"/><circle cx="384.61" cy="1318.34" r="3.4"/><circle cx="386.2" cy="1318.44" r="3.4"/><circle cx="387.8" cy="1319.22" r="3.4"/><circle cx="389.39" cy="1318.71" r="3.4"/><circle cx="390.99" cy="1319.4" r="3.4"/><circle cx="392.58" cy="1318.75" r="3.4"/><circle cx="394.18" cy="1318.81" r="3.4"/><circle cx="395.77" cy="1319.09" r="3.4"/><circle cx="397.37" cy="1318.81" r="3.4"/><circle cx="398.96" cy="1319.02" r="3.4"/><circle cx="400.56" cy="1319.64" r="3.4"/><circle cx="402.15" cy="1319.6" r="3.4"/><circle cx="403.75" cy="1319.56" r="3.4"/><circle cx="405.34" cy="1319.4" r="3.4"/><circle cx="406.94" cy="1319.72" r="3.4"/><circle cx="408.53" cy="1319.77" r="3.4"/><circle cx="410.13" cy="1319.4" r="3.4"/><circle cx="411.72" cy="1319.6" r="3.4"/><circle cx="413.32" cy="1318.95" r="3.4"/><circle cx="414.91" cy="1319.66" r="3.4"/><circle cx="416.51" cy="1319.4" r="3.4"/><circle cx="418.1" cy="1319.73" r="3.4"/><circle cx="419.7" cy="1319.64" r="3.4"/><circle cx="421.29" cy="1319.3" r="3.4"/><circle cx="422.89" cy="1319.09" r="3.4"/><circle cx="424.48" cy="1319.98" r="3.4"/><circle cx="426.08" cy="1319.2" r="3.4"/><circle cx="427.67" cy="1319.57" r="3.4"/><circle cx="429.27" cy="1319.46" r="3.4"/><circle cx="430.86" cy="1319.43" r="3.4"/><circle cx="432.46" cy="1319.89" r="3.4"/><circle cx="434.05" cy="1320.14" r="3.4"/><circle cx="435.65" cy="1319.44" r="3.4"/><circle cx="437.24" cy="1319.85" r="3.4"/><circle cx="438.84" cy="1319.51" r="3.4"/><circle cx="440.43" cy="1319.78" r="3.4"/></g>
<polyline points="115.05,1278.76 115.69,1278.72 116.33,1278.68 116.97,1278.64 117.61,1278.6 118.24,1278.56 118.88,1278.52 119.52,1278.48 120.16,1278.43 120.8,1278.39 121.43,1278.34 122.07,1278.29 122.71,1278.25 123.35,1278.2 123.99,1278.15 124.62,1278.09 125.26,1278.04 125.9,1277.99 126.54,1277.93 127.18,1277.87 127.81,1277.81 128.45,1277.75 129.09,1277.69 129.73,1277.62 130.37,1277.56 131,1277.49 131.64,1277.42 132.28,1277.35 132.92,1277.27 133.56,1277.2 134.19,1277.12 134.83,1277.04 135.47,1276.95 136.11,1276.87 136.75,1276.78 137.38,1276.69 138.02,1276.59 138.66,1276.49 139.3,1276.39 139.94,1276.28 140.57,1276.17 141.21,1276.06 141.85,1275.94 142.49,1275.82 143.13,1275.69 143.76,1275.55 144.4,1275.41 145.04,1275.26 145.68,1275.11 146.32,1274.94 146.95,1274.77 147.59,1274.58 148.23,1274.39 148.87,1274.18 149.51,1273.96 150.14,1273.73 150.78,1273.48 151.42,1273.21 152.06,1272.93 152.7,1272.62 153.33,1272.29 153.97,1271.94 154.61,1271.56 155.25,1271.15 155.89,1270.71 156.53,1270.24 157.16,1269.72 157.8,1269.17 158.44,1268.58 159.08,1267.94 159.71,1267.25 160.35,1266.5 160.99,1265.71 161.63,1264.85 162.27,1263.93 162.9,1262.95 163.54,1261.89 164.18,1260.77 164.82,1259.57 165.46,1258.3 166.09,1256.94 166.73,1255.51 167.37,1254 168.01,1252.4 168.65,1250.72 169.28,1248.96 169.92,1247.11 170.56,1245.18 171.2,1243.18 171.84,1241.1 172.47,1238.94 173.11,1236.73 173.75,1234.45 174.39,1232.11 175.03,1229.74 175.66,1227.33 176.3,1224.89 176.94,1222.45 177.58,1220.02 178.22,1217.61 178.85,1215.24 179.49,1212.94 180.13,1210.73 180.77,1208.63 181.41,1206.66 182.04,1204.86 182.68,1203.26 183.32,1201.87 183.96,1200.72 184.6,1199.84 185.23,1199.24 185.87,1198.93 186.51,1198.92 187.15,1199.22 187.79,1199.8 188.43,1200.67 189.06,1201.81 189.7,1203.2 190.34,1204.83 190.98,1206.67 191.61,1208.69 192.25,1210.88 192.89,1213.21 193.53,1215.64 194.17,1218.17 194.8,1220.76 195.44,1223.39 196.08,1226.06 196.72,1228.72 197.36,1231.38 197.99,1234.02 198.63,1236.62 199.27,1239.18 199.91,1241.67 200.55,1244.1 201.18,1246.46 201.82,1248.74 202.46,1250.93 203.1,1253.03 203.74,1255.04 204.38,1256.96 205.01,1258.78 205.65,1260.5 206.29,1262.13 206.93,1263.66 207.56,1265.1 208.2,1266.44 208.84,1267.7 209.48,1268.86 210.12,1269.94 210.75,1270.94 211.39,1271.86 212.03,1272.7 212.67,1273.47 213.31,1274.17 213.94,1274.81 214.58,1275.39 215.22,1275.91 215.86,1276.37 216.5,1276.79 217.13,1277.15 217.77,1277.47 218.41,1277.75 219.05,1278 219.69,1278.2 220.32,1278.37 220.96,1278.52 221.6,1278.63 222.24,1278.71 222.88,1278.77 223.51,1278.8 224.15,1278.82 224.79,1278.81 225.43,1278.78 226.07,1278.73 226.7,1278.66 227.34,1278.57 227.98,1278.47 228.62,1278.34 229.26,1278.21 229.89,1278.05 230.53,1277.88 231.17,1277.69 231.81,1277.48 232.45,1277.26 233.08,1277.02 233.72,1276.76 234.36,1276.48 235,1276.19 235.64,1275.87 236.27,1275.54 236.91,1275.18 237.55,1274.8 238.19,1274.39 238.83,1273.96 239.46,1273.5 240.1,1273.01 240.74,1272.49 241.38,1271.94 242.02,1271.35 242.65,1270.72 243.29,1270.04 243.93,1269.32 244.57,1268.55 245.21,1267.73 245.84,1266.84 246.48,1265.89 247.12,1264.86 247.76,1263.77 248.4,1262.58 249.03,1261.31 249.67,1259.93 250.31,1258.45 250.95,1256.86 251.59,1255.14 252.23,1253.28 252.86,1251.28 253.5,1249.13 254.14,1246.81 254.78,1244.31 255.41,1241.63 256.05,1238.75 256.69,1235.67 257.33,1232.36 257.97,1228.83 258.6,1225.06 259.24,1221.04 259.88,1216.76 260.52,1212.22 261.16,1207.42 261.79,1202.34 262.43,1196.99 263.07,1191.37 263.71,1185.48 264.35,1179.32 264.98,1172.9 265.62,1166.25 266.26,1159.37 266.9,1152.29 267.54,1145.03 268.18,1137.65 268.81,1130.17 269.45,1122.66 270.09,1115.18 270.73,1107.81 271.36,1100.61 272,1093.7 272.64,1087.16 273.28,1081.12 273.92,1075.68 274.55,1070.95 275.19,1067.05 275.83,1064.06 276.47,1062.08 277.11,1061.15 277.74,1061.33 278.38,1062.57 279.02,1064.81 279.66,1068.02 280.3,1072.14 280.93,1077.1 281.57,1082.82 282.21,1089.21 282.85,1096.18 283.49,1103.62 284.12,1111.44 284.76,1119.56 285.4,1127.89 286.04,1136.34 286.68,1144.85 287.31,1153.36 287.95,1161.8 288.59,1170.12 289.23,1178.29 289.87,1186.27 290.5,1194.01 291.14,1201.51 291.78,1208.72 292.42,1215.65 293.06,1222.27 293.69,1228.58 294.33,1234.56 294.97,1240.23 295.61,1245.57 296.25,1250.59 296.88,1255.29 297.52,1259.69 298.16,1263.79 298.8,1267.6 299.44,1271.14 300.07,1274.4 300.71,1277.42 301.35,1280.2 301.99,1282.75 302.63,1285.1 303.26,1287.24 303.9,1289.21 304.54,1291.01 305.18,1292.65 305.82,1294.14 306.45,1295.51 307.09,1296.76 307.73,1297.9 308.37,1298.94 309.01,1299.89 309.64,1300.76 310.28,1301.55 310.92,1302.29 311.56,1302.96 312.2,1303.58 312.83,1304.15 313.47,1304.68 314.11,1305.17 314.75,1305.63 315.39,1306.05 316.02,1306.45 316.66,1306.83 317.3,1307.18 317.94,1307.51 318.58,1307.82 319.21,1308.12 319.85,1308.4 320.49,1308.67 321.13,1308.92 321.77,1309.17 322.4,1309.4 323.04,1309.62 323.68,1309.83 324.32,1310.04 324.96,1310.23 325.59,1310.42 326.23,1310.6 326.87,1310.78 327.51,1310.95 328.15,1311.11 328.78,1311.26 329.42,1311.42 330.06,1311.56 330.7,1311.7 331.34,1311.84 331.97,1311.97 332.61,1312.1 333.25,1312.22 333.89,1312.34 334.53,1312.46 335.16,1312.57 335.8,1312.68 336.44,1312.79 337.08,1312.89 337.72,1312.99 338.35,1313.09 338.99,1313.18 339.63,1313.27 340.27,1313.36 340.91,1313.45 341.54,1313.53 342.18,1313.61 342.82,1313.69 343.46,1313.77 344.1,1313.84 344.73,1313.92 345.37,1313.99 346.01,1314.06 346.65,1314.12 347.29,1314.19 347.93,1314.25 348.56,1314.32 349.2,1314.38 349.84,1314.44 350.48,1314.49 351.11,1314.55 351.75,1314.6 352.39,1314.66 353.03,1314.71 353.67,1314.76 354.3,1314.81 354.94,1314.86 355.58,1314.91 356.22,1314.96 356.86,1315 357.49,1315.05 358.13,1315.09 358.77,1315.13 359.41,1315.17 360.05,1315.21 360.68,1315.25 361.32,1315.29 361.96,1315.33 362.6,1315.37 363.24,1315.4 363.88,1315.44 364.51,1315.48 365.15,1315.51 365.79,1315.54 366.43,1315.58 367.06,1315.61 367.7,1315.64 368.34,1315.67 368.98,1315.7 369.62,1315.73 370.25,1315.76 370.89,1315.79 371.53,1315.82 372.17,1315.84 372.81,1315.87 373.44,1315.9 374.08,1315.92 374.72,1315.95 375.36,1315.97 376,1316 376.63,1316.02 377.27,1316.05 377.91,1316.07 378.55,1316.09 379.19,1316.11 379.82,1316.14 380.46,1316.16 381.1,1316.18 381.74,1316.2 382.38,1316.22 383.01,1316.24 383.65,1316.26 384.29,1316.28 384.93,1316.3 385.57,1316.32 386.2,1316.34 386.84,1316.35 387.48,1316.37 388.12,1316.39 388.76,1316.41 389.39,1316.42 390.03,1316.44 390.67,1316.46 391.31,1316.47 391.95,1316.49 392.58,1316.51 393.22,1316.52 393.86,1316.54 394.5,1316.55 395.14,1316.57 395.77,1316.58 396.41,1316.59 397.05,1316.61 397.69,1316.62 398.33,1316.64 398.96,1316.65 399.6,1316.66 400.24,1316.68 400.88,1316.69 401.52,1316.7 402.15,1316.71 402.79,1316.73 403.43,1316.74 404.07,1316.75 404.71,1316.76 405.34,1316.77 405.98,1316.78 406.62,1316.8 407.26,1316.81 407.9,1316.82 408.53,1316.83 409.17,1316.84 409.81,1316.85 410.45,1316.86 411.09,1316.87 411.72,1316.88 412.36,1316.89 413,1316.9 413.64,1316.91 414.28,1316.92 414.91,1316.93 415.55,1316.94 416.19,1316.95 416.83,1316.96 417.47,1316.97 418.1,1316.97 418.74,1316.98 419.38,1316.99 420.02,1317 420.66,1317.01 421.29,1317.02 421.93,1317.03 422.57,1317.03 423.21,1317.04 423.85,1317.05 424.48,1317.06 425.12,1317.06 425.76,1317.07 426.4,1317.08 427.04,1317.09 427.67,1317.09 428.31,1317.1 428.95,1317.11 429.59,1317.12 430.23,1317.12 430.86,1317.13 431.5,1317.14 432.14,1317.14 432.78,1317.15 433.42,1317.16 434.05,1317.16 434.69,1317.17 435.33,1317.18 435.97,1317.18 436.61,1317.19 437.24,1317.19 437.88,1317.2 438.52,1317.21 439.16,1317.21 439.8,1317.22 440.43,1317.22" fill="none" stroke="#f14040" stroke-width="2.3" stroke-linejoin="round" stroke-linecap="round"/>
<polyline points="115.05,1281.51 115.69,1281.51 116.33,1281.51 116.97,1281.51 117.61,1281.51 118.24,1281.51 118.88,1281.51 119.52,1281.51 120.16,1281.51 120.8,1281.51 121.43,1281.51 122.07,1281.51 122.71,1281.51 123.35,1281.52 123.99,1281.52 124.62,1281.52 125.26,1281.52 125.9,1281.52 126.54,1281.52 127.18,1281.52 127.81,1281.52 128.45,1281.53 129.09,1281.53 129.73,1281.53 130.37,1281.53 131,1281.53 131.64,1281.54 132.28,1281.54 132.92,1281.54 133.56,1281.54 134.19,1281.55 134.83,1281.55 135.47,1281.55 136.11,1281.56 136.75,1281.56 137.38,1281.57 138.02,1281.57 138.66,1281.57 139.3,1281.58 139.94,1281.59 140.57,1281.59 141.21,1281.6 141.85,1281.6 142.49,1281.61 143.13,1281.62 143.76,1281.63 144.4,1281.63 145.04,1281.64 145.68,1281.65 146.32,1281.66 146.95,1281.68 147.59,1281.69 148.23,1281.7 148.87,1281.71 149.51,1281.73 150.14,1281.74 150.78,1281.76 151.42,1281.78 152.06,1281.8 152.7,1281.82 153.33,1281.84 153.97,1281.86 154.61,1281.88 155.25,1281.91 155.89,1281.94 156.53,1281.97 157.16,1282 157.8,1282.03 158.44,1282.06 159.08,1282.1 159.71,1282.14 160.35,1282.18 160.99,1282.22 161.63,1282.27 162.27,1282.32 162.9,1282.37 163.54,1282.43 164.18,1282.49 164.82,1282.55 165.46,1282.61 166.09,1282.68 166.73,1282.75 167.37,1282.83 168.01,1282.91 168.65,1283 169.28,1283.09 169.92,1283.18 170.56,1283.28 171.2,1283.38 171.84,1283.49 172.47,1283.6 173.11,1283.71 173.75,1283.84 174.39,1283.96 175.03,1284.09 175.66,1284.23 176.3,1284.37 176.94,1284.52 177.58,1284.67 178.22,1284.82 178.85,1284.98 179.49,1285.15 180.13,1285.32 180.77,1285.49 181.41,1285.66 182.04,1285.84 182.68,1286.02 183.32,1286.21 183.96,1286.39 184.6,1286.58 185.23,1286.77 185.87,1286.96 186.51,1287.15 187.15,1287.35 187.79,1287.54 188.43,1287.73 189.06,1287.92 189.7,1288.11 190.34,1288.29 190.98,1288.48 191.61,1288.66 192.25,1288.84 192.89,1289.01 193.53,1289.18 194.17,1289.35 194.8,1289.52 195.44,1289.68 196.08,1289.83 196.72,1289.98 197.36,1290.13 197.99,1290.27 198.63,1290.41 199.27,1290.54 199.91,1290.66 200.55,1290.79 201.18,1290.9 201.82,1291.01 202.46,1291.12 203.1,1291.22 203.74,1291.32 204.38,1291.41 205.01,1291.5 205.65,1291.59 206.29,1291.67 206.93,1291.75 207.56,1291.82 208.2,1291.89 208.84,1291.95 209.48,1292.01 210.12,1292.07 210.75,1292.13 211.39,1292.18 212.03,1292.23 212.67,1292.28 213.31,1292.32 213.94,1292.36 214.58,1292.4 215.22,1292.44 215.86,1292.47 216.5,1292.5 217.13,1292.54 217.77,1292.56 218.41,1292.59 219.05,1292.62 219.69,1292.64 220.32,1292.66 220.96,1292.68 221.6,1292.7 222.24,1292.72 222.88,1292.74 223.51,1292.76 224.15,1292.77 224.79,1292.79 225.43,1292.8 226.07,1292.81 226.7,1292.83 227.34,1292.84 227.98,1292.85 228.62,1292.86 229.26,1292.87 229.89,1292.88 230.53,1292.88 231.17,1292.89 231.81,1292.9 232.45,1292.91 233.08,1292.91 233.72,1292.92 234.36,1292.92 235,1292.93 235.64,1292.94 236.27,1292.94 236.91,1292.95 237.55,1292.95 238.19,1292.96 238.83,1292.96 239.46,1292.96 240.1,1292.97 240.74,1292.97 241.38,1292.98 242.02,1292.98 242.65,1292.99 243.29,1292.99 243.93,1293 244.57,1293 245.21,1293.01 245.84,1293.01 246.48,1293.02 247.12,1293.03 247.76,1293.03 248.4,1293.04 249.03,1293.05 249.67,1293.06 250.31,1293.07 250.95,1293.08 251.59,1293.1 252.23,1293.11 252.86,1293.13 253.5,1293.15 254.14,1293.17 254.78,1293.19 255.41,1293.22 256.05,1293.25 256.69,1293.28 257.33,1293.32 257.97,1293.36 258.6,1293.4 259.24,1293.46 259.88,1293.52 260.52,1293.58 261.16,1293.66 261.79,1293.74 262.43,1293.83 263.07,1293.94 263.71,1294.05 264.35,1294.18 264.98,1294.33 265.62,1294.49 266.26,1294.67 266.9,1294.87 267.54,1295.09 268.18,1295.33 268.81,1295.6 269.45,1295.9 270.09,1296.23 270.73,1296.58 271.36,1296.97 272,1297.39 272.64,1297.85 273.28,1298.34 273.92,1298.87 274.55,1299.43 275.19,1300.02 275.83,1300.65 276.47,1301.31 277.11,1302 277.74,1302.71 278.38,1303.43 279.02,1304.18 279.66,1304.93 280.3,1305.69 280.93,1306.44 281.57,1307.19 282.21,1307.93 282.85,1308.65 283.49,1309.35 284.12,1310.02 284.76,1310.66 285.4,1311.28 286.04,1311.85 286.68,1312.4 287.31,1312.91 287.95,1313.38 288.59,1313.82 289.23,1314.23 289.87,1314.6 290.5,1314.94 291.14,1315.25 291.78,1315.53 292.42,1315.79 293.06,1316.02 293.69,1316.23 294.33,1316.42 294.97,1316.59 295.61,1316.74 296.25,1316.88 296.88,1317 297.52,1317.11 298.16,1317.21 298.8,1317.3 299.44,1317.38 300.07,1317.45 300.71,1317.51 301.35,1317.56 301.99,1317.61 302.63,1317.66 303.26,1317.69 303.9,1317.73 304.54,1317.76 305.18,1317.79 305.82,1317.81 306.45,1317.83 307.09,1317.85 307.73,1317.87 308.37,1317.88 309.01,1317.9 309.64,1317.91 310.28,1317.92 310.92,1317.93 311.56,1317.94 312.2,1317.94 312.83,1317.95 313.47,1317.96 314.11,1317.96 314.75,1317.97 315.39,1317.97 316.02,1317.97 316.66,1317.98 317.3,1317.98 317.94,1317.98 318.58,1317.98 319.21,1317.99 319.85,1317.99 320.49,1317.99 321.13,1317.99 321.77,1317.99 322.4,1317.99 323.04,1317.99 323.68,1317.99 324.32,1317.99 324.96,1317.99 325.59,1318 326.23,1318 326.87,1318 327.51,1318 328.15,1318 328.78,1318 329.42,1318 330.06,1318 330.7,1318 331.34,1318 331.97,1318 332.61,1318 333.25,1318 333.89,1318 334.53,1318 335.16,1318 335.8,1318 336.44,1318 337.08,1318 337.72,1318 338.35,1318 338.99,1318 339.63,1318 340.27,1318 340.91,1318 341.54,1318 342.18,1318 342.82,1318 343.46,1318 344.1,1318 344.73,1318 345.37,1318 346.01,1318 346.65,1318 347.29,1318 347.93,1318 348.56,1318 349.2,1318 349.84,1318 350.48,1318 351.11,1318 351.75,1318 352.39,1318 353.03,1318 353.67,1318 354.3,1318 354.94,1318 355.58,1318 356.22,1318 356.86,1318 357.49,1318 358.13,1318 358.77,1318 359.41,1318 360.05,1318 360.68,1318 361.32,1318 361.96,1318 362.6,1318 363.24,1318 363.88,1318 364.51,1318 365.15,1318 365.79,1318 366.43,1318 367.06,1318 367.7,1318 368.34,1318 368.98,1318 369.62,1318 370.25,1318 370.89,1318 371.53,1318 372.17,1318 372.81,1318 373.44,1318 374.08,1318 374.72,1318 375.36,1318 376,1318 376.63,1318 377.27,1318 377.91,1318 378.55,1318 379.19,1318 379.82,1318 380.46,1318 381.1,1318 381.74,1318 382.38,1318 383.01,1318 383.65,1318 384.29,1318 384.93,1318 385.57,1318 386.2,1318 386.84,1318 387.48,1318 388.12,1318 388.76,1318 389.39,1318 390.03,1318 390.67,1318 391.31,1318 391.95,1318 392.58,1318 393.22,1318 393.86,1318 394.5,1318 395.14,1318 395.77,1318 396.41,1318 397.05,1318 397.69,1318 398.33,1318 398.96,1318 399.6,1318 400.24,1318 400.88,1318 401.52,1318 402.15,1318 402.79,1318 403.43,1318 404.07,1318 404.71,1318 405.34,1318 405.98,1318 406.62,1318 407.26,1318 407.9,1318 408.53,1318 409.17,1318 409.81,1318 410.45,1318 411.09,1318 411.72,1318 412.36,1318 413,1318 413.64,1318 414.28,1318 414.91,1318 415.55,1318 416.19,1318 416.83,1318 417.47,1318 418.1,1318 418.74,1318 419.38,1318 420.02,1318 420.66,1318 421.29,1318 421.93,1318 422.57,1318 423.21,1318 423.85,1318 424.48,1318 425.12,1318 425.76,1318 426.4,1318 427.04,1318 427.67,1318 428.31,1318 428.95,1318 429.59,1318 430.23,1318 430.86,1318 431.5,1318 432.14,1318 432.78,1318 433.42,1318 434.05,1318 434.69,1318 435.33,1318 435.97,1318 436.61,1318 437.24,1318 437.88,1318 438.52,1318 439.16,1318 439.8,1318 440.43,1318" fill="none" stroke="#1a6fdf" stroke-width="2.2" stroke-linejoin="round" stroke-linecap="round"/>
<polyline points="115.05,1280.48 115.69,1280.47 116.33,1280.46 116.97,1280.45 117.61,1280.45 118.24,1280.44 118.88,1280.43 119.52,1280.42 120.16,1280.41 120.8,1280.41 121.43,1280.4 122.07,1280.39 122.71,1280.38 123.35,1280.37 123.99,1280.36 124.62,1280.36 125.26,1280.35 125.9,1280.34 126.54,1280.33 127.18,1280.32 127.81,1280.31 128.45,1280.3 129.09,1280.3 129.73,1280.29 130.37,1280.28 131,1280.27 131.64,1280.26 132.28,1280.25 132.92,1280.24 133.56,1280.24 134.19,1280.23 134.83,1280.22 135.47,1280.21 136.11,1280.2 136.75,1280.19 137.38,1280.19 138.02,1280.18 138.66,1280.17 139.3,1280.16 139.94,1280.15 140.57,1280.15 141.21,1280.14 141.85,1280.13 142.49,1280.13 143.13,1280.12 143.76,1280.11 144.4,1280.11 145.04,1280.1 145.68,1280.1 146.32,1280.09 146.95,1280.09 147.59,1280.08 148.23,1280.08 148.87,1280.08 149.51,1280.08 150.14,1280.08 150.78,1280.08 151.42,1280.08 152.06,1280.08 152.7,1280.08 153.33,1280.08 153.97,1280.09 154.61,1280.09 155.25,1280.1 155.89,1280.11 156.53,1280.12 157.16,1280.13 157.8,1280.14 158.44,1280.16 159.08,1280.18 159.71,1280.19 160.35,1280.21 160.99,1280.24 161.63,1280.26 162.27,1280.29 162.9,1280.32 163.54,1280.35 164.18,1280.39 164.82,1280.43 165.46,1280.47 166.09,1280.51 166.73,1280.56 167.37,1280.61 168.01,1280.67 168.65,1280.72 169.28,1280.79 169.92,1280.85 170.56,1280.92 171.2,1281 171.84,1281.08 172.47,1281.16 173.11,1281.25 173.75,1281.34 174.39,1281.44 175.03,1281.54 175.66,1281.64 176.3,1281.75 176.94,1281.86 177.58,1281.98 178.22,1282.1 178.85,1282.23 179.49,1282.36 180.13,1282.49 180.77,1282.62 181.41,1282.76 182.04,1282.9 182.68,1283.04 183.32,1283.19 183.96,1283.33 184.6,1283.48 185.23,1283.63 185.87,1283.78 186.51,1283.92 187.15,1284.07 187.79,1284.22 188.43,1284.36 189.06,1284.5 189.7,1284.64 190.34,1284.78 190.98,1284.91 191.61,1285.04 192.25,1285.17 192.89,1285.29 193.53,1285.41 194.17,1285.52 194.8,1285.62 195.44,1285.72 196.08,1285.82 196.72,1285.91 197.36,1285.99 197.99,1286.07 198.63,1286.14 199.27,1286.2 199.91,1286.26 200.55,1286.31 201.18,1286.35 201.82,1286.39 202.46,1286.42 203.1,1286.44 203.74,1286.46 204.38,1286.47 205.01,1286.48 205.65,1286.47 206.29,1286.47 206.93,1286.45 207.56,1286.43 208.2,1286.4 208.84,1286.37 209.48,1286.33 210.12,1286.29 210.75,1286.23 211.39,1286.18 212.03,1286.11 212.67,1286.04 213.31,1285.97 213.94,1285.89 214.58,1285.8 215.22,1285.71 215.86,1285.61 216.5,1285.5 217.13,1285.39 217.77,1285.27 218.41,1285.15 219.05,1285.02 219.69,1284.88 220.32,1284.74 220.96,1284.59 221.6,1284.44 222.24,1284.27 222.88,1284.1 223.51,1283.93 224.15,1283.74 224.79,1283.55 225.43,1283.35 226.07,1283.14 226.7,1282.92 227.34,1282.7 227.98,1282.46 228.62,1282.21 229.26,1281.96 229.89,1281.69 230.53,1281.42 231.17,1281.13 231.81,1280.83 232.45,1280.52 233.08,1280.19 233.72,1279.85 234.36,1279.5 235,1279.13 235.64,1278.74 236.27,1278.33 236.91,1277.91 237.55,1277.46 238.19,1277 238.83,1276.5 239.46,1275.99 240.1,1275.44 240.74,1274.87 241.38,1274.26 242.02,1273.62 242.65,1272.94 243.29,1272.22 243.93,1271.46 244.57,1270.64 245.21,1269.77 245.84,1268.84 246.48,1267.85 247.12,1266.79 247.76,1265.65 248.4,1264.43 249.03,1263.12 249.67,1261.71 250.31,1260.2 250.95,1258.57 251.59,1256.82 252.23,1254.93 252.86,1252.9 253.5,1250.72 254.14,1248.37 254.78,1245.85 255.41,1243.14 256.05,1240.24 256.69,1237.12 257.33,1233.79 257.97,1230.23 258.6,1226.44 259.24,1222.39 259.88,1218.1 260.52,1213.54 261.16,1208.71 261.79,1203.61 262.43,1198.24 263.07,1192.6 263.71,1186.69 264.35,1180.51 264.98,1174.08 265.62,1167.4 266.26,1160.5 266.9,1153.41 267.54,1146.14 268.18,1138.73 268.81,1131.24 269.45,1123.72 270.09,1116.22 270.73,1108.83 271.36,1101.62 272,1094.69 272.64,1088.14 273.28,1082.09 273.92,1076.63 274.55,1071.89 275.19,1067.97 275.83,1064.97 276.47,1062.98 277.11,1062.04 277.74,1062.21 278.38,1063.43 279.02,1065.66 279.66,1068.86 280.3,1072.97 280.93,1077.92 281.57,1083.63 282.21,1090.01 282.85,1096.96 283.49,1104.4 284.12,1112.21 284.76,1120.32 285.4,1128.63 286.04,1137.08 286.68,1145.58 287.31,1154.08 287.95,1162.51 288.59,1170.83 289.23,1178.99 289.87,1186.95 290.5,1194.69 291.14,1202.17 291.78,1209.38 292.42,1216.3 293.06,1222.92 293.69,1229.21 294.33,1235.19 294.97,1240.85 295.61,1246.18 296.25,1251.2 296.88,1255.9 297.52,1260.29 298.16,1264.38 298.8,1268.18 299.44,1271.71 300.07,1274.97 300.71,1277.98 301.35,1280.76 301.99,1283.3 302.63,1285.64 303.26,1287.78 303.9,1289.74 304.54,1291.53 305.18,1293.17 305.82,1294.66 306.45,1296.02 307.09,1297.26 307.73,1298.4 308.37,1299.43 309.01,1300.38 309.64,1301.24 310.28,1302.03 310.92,1302.76 311.56,1303.43 312.2,1304.04 312.83,1304.61 313.47,1305.14 314.11,1305.62 314.75,1306.08 315.39,1306.5 316.02,1306.89 316.66,1307.26 317.3,1307.61 317.94,1307.94 318.58,1308.25 319.21,1308.54 319.85,1308.81 320.49,1309.08 321.13,1309.33 321.77,1309.57 322.4,1309.8 323.04,1310.02 323.68,1310.22 324.32,1310.43 324.96,1310.62 325.59,1310.8 326.23,1310.98 326.87,1311.15 327.51,1311.32 328.15,1311.48 328.78,1311.63 329.42,1311.78 330.06,1311.92 330.7,1312.06 331.34,1312.19 331.97,1312.32 332.61,1312.45 333.25,1312.57 333.89,1312.68 334.53,1312.8 335.16,1312.91 335.8,1313.01 336.44,1313.12 337.08,1313.22 337.72,1313.31 338.35,1313.41 338.99,1313.5 339.63,1313.59 340.27,1313.67 340.91,1313.76 341.54,1313.84 342.18,1313.92 342.82,1313.99 343.46,1314.07 344.1,1314.14 344.73,1314.21 345.37,1314.28 346.01,1314.35 346.65,1314.41 347.29,1314.47 347.93,1314.54 348.56,1314.6 349.2,1314.66 349.84,1314.71 350.48,1314.77 351.11,1314.82 351.75,1314.88 352.39,1314.93 353.03,1314.98 353.67,1315.03 354.3,1315.07 354.94,1315.12 355.58,1315.17 356.22,1315.21 356.86,1315.26 357.49,1315.3 358.13,1315.34 358.77,1315.38 359.41,1315.42 360.05,1315.46 360.68,1315.5 361.32,1315.53 361.96,1315.57 362.6,1315.61 363.24,1315.64 363.88,1315.68 364.51,1315.71 365.15,1315.74 365.79,1315.77 366.43,1315.8 367.06,1315.84 367.7,1315.87 368.34,1315.89 368.98,1315.92 369.62,1315.95 370.25,1315.98 370.89,1316.01 371.53,1316.03 372.17,1316.06 372.81,1316.08 373.44,1316.11 374.08,1316.13 374.72,1316.16 375.36,1316.18 376,1316.2 376.63,1316.23 377.27,1316.25 377.91,1316.27 378.55,1316.29 379.19,1316.31 379.82,1316.33 380.46,1316.36 381.1,1316.38 381.74,1316.39 382.38,1316.41 383.01,1316.43 383.65,1316.45 384.29,1316.47 384.93,1316.49 385.57,1316.51 386.2,1316.52 386.84,1316.54 387.48,1316.56 388.12,1316.57 388.76,1316.59 389.39,1316.6 390.03,1316.62 390.67,1316.64 391.31,1316.65 391.95,1316.67 392.58,1316.68 393.22,1316.69 393.86,1316.71 394.5,1316.72 395.14,1316.74 395.77,1316.75 396.41,1316.76 397.05,1316.78 397.69,1316.79 398.33,1316.8 398.96,1316.81 399.6,1316.83 400.24,1316.84 400.88,1316.85 401.52,1316.86 402.15,1316.87 402.79,1316.88 403.43,1316.9 404.07,1316.91 404.71,1316.92 405.34,1316.93 405.98,1316.94 406.62,1316.95 407.26,1316.96 407.9,1316.97 408.53,1316.98 409.17,1316.99 409.81,1317 410.45,1317.01 411.09,1317.02 411.72,1317.03 412.36,1317.04 413,1317.05 413.64,1317.05 414.28,1317.06 414.91,1317.07 415.55,1317.08 416.19,1317.09 416.83,1317.1 417.47,1317.1 418.1,1317.11 418.74,1317.12 419.38,1317.13 420.02,1317.14 420.66,1317.14 421.29,1317.15 421.93,1317.16 422.57,1317.17 423.21,1317.17 423.85,1317.18 424.48,1317.19 425.12,1317.19 425.76,1317.2 426.4,1317.21 427.04,1317.22 427.67,1317.22 428.31,1317.23 428.95,1317.23 429.59,1317.24 430.23,1317.25 430.86,1317.25 431.5,1317.26 432.14,1317.27 432.78,1317.27 433.42,1317.28 434.05,1317.28 434.69,1317.29 435.33,1317.3 435.97,1317.3 436.61,1317.31 437.24,1317.31 437.88,1317.32 438.52,1317.32 439.16,1317.33 439.8,1317.33 440.43,1317.34" fill="none" stroke="#37ad6b" stroke-width="2.6" stroke-linejoin="round" stroke-linecap="round"/>
<polyline points="115.05,1279.79 115.69,1279.76 116.33,1279.73 116.97,1279.7 117.61,1279.67 118.24,1279.63 118.88,1279.6 119.52,1279.57 120.16,1279.53 120.8,1279.49 121.43,1279.46 122.07,1279.42 122.71,1279.38 123.35,1279.34 123.99,1279.3 124.62,1279.25 125.26,1279.21 125.9,1279.17 126.54,1279.12 127.18,1279.07 127.81,1279.02 128.45,1278.97 129.09,1278.92 129.73,1278.87 130.37,1278.81 131,1278.75 131.64,1278.69 132.28,1278.63 132.92,1278.57 133.56,1278.51 134.19,1278.44 134.83,1278.37 135.47,1278.3 136.11,1278.22 136.75,1278.15 137.38,1278.07 138.02,1277.98 138.66,1277.9 139.3,1277.81 139.94,1277.72 140.57,1277.62 141.21,1277.52 141.85,1277.41 142.49,1277.3 143.13,1277.19 143.76,1277.07 144.4,1276.94 145.04,1276.8 145.68,1276.66 146.32,1276.51 146.95,1276.35 147.59,1276.19 148.23,1276.01 148.87,1275.82 149.51,1275.61 150.14,1275.4 150.78,1275.16 151.42,1274.91 152.06,1274.65 152.7,1274.36 153.33,1274.05 153.97,1273.71 154.61,1273.35 155.25,1272.96 155.89,1272.54 156.53,1272.08 157.16,1271.59 157.8,1271.06 158.44,1270.48 159.08,1269.86 159.71,1269.19 160.35,1268.47 160.99,1267.69 161.63,1266.86 162.27,1265.96 162.9,1265 163.54,1263.97 164.18,1262.87 164.82,1261.69 165.46,1260.44 166.09,1259.11 166.73,1257.71 167.37,1256.22 168.01,1254.65 168.65,1252.99 169.28,1251.25 169.92,1249.43 170.56,1247.54 171.2,1245.56 171.84,1243.51 172.47,1241.38 173.11,1239.19 173.75,1236.94 174.39,1234.64 175.03,1232.3 175.66,1229.92 176.3,1227.52 176.94,1225.11 177.58,1222.71 178.22,1220.33 178.85,1218 179.49,1215.73 180.13,1213.55 180.77,1211.49 181.41,1209.56 182.04,1207.81 182.68,1206.24 183.32,1204.89 183.96,1203.78 184.6,1202.94 185.23,1202.38 185.87,1202.12 186.51,1202.15 187.15,1202.49 187.79,1203.12 188.43,1204.04 189.06,1205.23 189.7,1206.67 190.34,1208.34 190.98,1210.23 191.61,1212.31 192.25,1214.55 192.89,1216.93 193.53,1219.42 194.17,1222 194.8,1224.65 195.44,1227.35 196.08,1230.07 196.72,1232.8 197.36,1235.52 197.99,1238.22 198.63,1240.89 199.27,1243.51 199.91,1246.08 200.55,1248.58 201.18,1251.01 201.82,1253.36 202.46,1255.63 203.1,1257.81 203.74,1259.9 204.38,1261.9 205.01,1263.81 205.65,1265.62 206.29,1267.33 206.93,1268.96 207.56,1270.49 208.2,1271.93 208.84,1273.28 209.48,1274.55 210.12,1275.73 210.75,1276.83 211.39,1277.86 212.03,1278.82 212.67,1279.71 213.31,1280.53 213.94,1281.29 214.58,1281.99 215.22,1282.64 215.86,1283.24 216.5,1283.79 217.13,1284.3 217.77,1284.76 218.41,1285.2 219.05,1285.59 219.69,1285.96 220.32,1286.3 220.96,1286.61 221.6,1286.9 222.24,1287.16 222.88,1287.41 223.51,1287.64 224.15,1287.85 224.79,1288.05 225.43,1288.23 226.07,1288.4 226.7,1288.56 227.34,1288.71 227.98,1288.85 228.62,1288.99 229.26,1289.11 229.89,1289.23 230.53,1289.34 231.17,1289.45 231.81,1289.55 232.45,1289.65 233.08,1289.74 233.72,1289.83 234.36,1289.91 235,1289.99 235.64,1290.07 236.27,1290.14 236.91,1290.22 237.55,1290.29 238.19,1290.35 238.83,1290.42 239.46,1290.48 240.1,1290.54 240.74,1290.6 241.38,1290.65 242.02,1290.71 242.65,1290.76 243.29,1290.81 243.93,1290.86 244.57,1290.91 245.21,1290.96 245.84,1291.01 246.48,1291.05 247.12,1291.1 247.76,1291.15 248.4,1291.19 249.03,1291.24 249.67,1291.28 250.31,1291.32 250.95,1291.37 251.59,1291.41 252.23,1291.46 252.86,1291.51 253.5,1291.56 254.14,1291.61 254.78,1291.66 255.41,1291.71 256.05,1291.77 256.69,1291.82 257.33,1291.89 257.97,1291.95 258.6,1292.02 259.24,1292.1 259.88,1292.18 260.52,1292.27 261.16,1292.36 261.79,1292.47 262.43,1292.58 263.07,1292.71 263.71,1292.84 264.35,1292.99 264.98,1293.15 265.62,1293.33 266.26,1293.53 266.9,1293.75 267.54,1293.99 268.18,1294.25 268.81,1294.53 269.45,1294.85 270.09,1295.19 270.73,1295.56 271.36,1295.96 272,1296.4 272.64,1296.87 273.28,1297.38 273.92,1297.92 274.55,1298.49 275.19,1299.1 275.83,1299.74 276.47,1300.41 277.11,1301.11 277.74,1301.83 278.38,1302.57 279.02,1303.33 279.66,1304.09 280.3,1304.86 280.93,1305.63 281.57,1306.39 282.21,1307.13 282.85,1307.86 283.49,1308.57 284.12,1309.25 284.76,1309.91 285.4,1310.53 286.04,1311.12 286.68,1311.67 287.31,1312.19 287.95,1312.67 288.59,1313.12 289.23,1313.53 289.87,1313.91 290.5,1314.26 291.14,1314.58 291.78,1314.87 292.42,1315.14 293.06,1315.38 293.69,1315.59 294.33,1315.79 294.97,1315.97 295.61,1316.13 296.25,1316.27 296.88,1316.4 297.52,1316.52 298.16,1316.62 298.8,1316.72 299.44,1316.8 300.07,1316.88 300.71,1316.95 301.35,1317.01 301.99,1317.06 302.63,1317.11 303.26,1317.16 303.9,1317.2 304.54,1317.23 305.18,1317.27 305.82,1317.29 306.45,1317.32 307.09,1317.35 307.73,1317.37 308.37,1317.39 309.01,1317.41 309.64,1317.42 310.28,1317.44 310.92,1317.45 311.56,1317.47 312.2,1317.48 312.83,1317.49 313.47,1317.5 314.11,1317.51 314.75,1317.52 315.39,1317.53 316.02,1317.53 316.66,1317.54 317.3,1317.55 317.94,1317.55 318.58,1317.56 319.21,1317.57 319.85,1317.57 320.49,1317.58 321.13,1317.58 321.77,1317.59 322.4,1317.59 323.04,1317.6 323.68,1317.6 324.32,1317.61 324.96,1317.61 325.59,1317.61 326.23,1317.62 326.87,1317.62 327.51,1317.63 328.15,1317.63 328.78,1317.63 329.42,1317.64 330.06,1317.64 330.7,1317.64 331.34,1317.65 331.97,1317.65 332.61,1317.65 333.25,1317.66 333.89,1317.66 334.53,1317.66 335.16,1317.67 335.8,1317.67 336.44,1317.67 337.08,1317.67 337.72,1317.68 338.35,1317.68 338.99,1317.68 339.63,1317.68 340.27,1317.69 340.91,1317.69 341.54,1317.69 342.18,1317.69 342.82,1317.7 343.46,1317.7 344.1,1317.7 344.73,1317.7 345.37,1317.71 346.01,1317.71 346.65,1317.71 347.29,1317.71 347.93,1317.72 348.56,1317.72 349.2,1317.72 349.84,1317.72 350.48,1317.72 351.11,1317.73 351.75,1317.73 352.39,1317.73 353.03,1317.73 353.67,1317.74 354.3,1317.74 354.94,1317.74 355.58,1317.74 356.22,1317.74 356.86,1317.74 357.49,1317.75 358.13,1317.75 358.77,1317.75 359.41,1317.75 360.05,1317.75 360.68,1317.76 361.32,1317.76 361.96,1317.76 362.6,1317.76 363.24,1317.76 363.88,1317.76 364.51,1317.77 365.15,1317.77 365.79,1317.77 366.43,1317.77 367.06,1317.77 367.7,1317.77 368.34,1317.78 368.98,1317.78 369.62,1317.78 370.25,1317.78 370.89,1317.78 371.53,1317.78 372.17,1317.79 372.81,1317.79 373.44,1317.79 374.08,1317.79 374.72,1317.79 375.36,1317.79 376,1317.79 376.63,1317.79 377.27,1317.8 377.91,1317.8 378.55,1317.8 379.19,1317.8 379.82,1317.8 380.46,1317.8 381.1,1317.8 381.74,1317.81 382.38,1317.81 383.01,1317.81 383.65,1317.81 384.29,1317.81 384.93,1317.81 385.57,1317.81 386.2,1317.81 386.84,1317.82 387.48,1317.82 388.12,1317.82 388.76,1317.82 389.39,1317.82 390.03,1317.82 390.67,1317.82 391.31,1317.82 391.95,1317.82 392.58,1317.83 393.22,1317.83 393.86,1317.83 394.5,1317.83 395.14,1317.83 395.77,1317.83 396.41,1317.83 397.05,1317.83 397.69,1317.83 398.33,1317.83 398.96,1317.84 399.6,1317.84 400.24,1317.84 400.88,1317.84 401.52,1317.84 402.15,1317.84 402.79,1317.84 403.43,1317.84 404.07,1317.84 404.71,1317.84 405.34,1317.85 405.98,1317.85 406.62,1317.85 407.26,1317.85 407.9,1317.85 408.53,1317.85 409.17,1317.85 409.81,1317.85 410.45,1317.85 411.09,1317.85 411.72,1317.85 412.36,1317.85 413,1317.86 413.64,1317.86 414.28,1317.86 414.91,1317.86 415.55,1317.86 416.19,1317.86 416.83,1317.86 417.47,1317.86 418.1,1317.86 418.74,1317.86 419.38,1317.86 420.02,1317.86 420.66,1317.86 421.29,1317.87 421.93,1317.87 422.57,1317.87 423.21,1317.87 423.85,1317.87 424.48,1317.87 425.12,1317.87 425.76,1317.87 426.4,1317.87 427.04,1317.87 427.67,1317.87 428.31,1317.87 428.95,1317.87 429.59,1317.87 430.23,1317.87 430.86,1317.88 431.5,1317.88 432.14,1317.88 432.78,1317.88 433.42,1317.88 434.05,1317.88 434.69,1317.88 435.33,1317.88 435.97,1317.88 436.61,1317.88 437.24,1317.88 437.88,1317.88 438.52,1317.88 439.16,1317.88 439.8,1317.88 440.43,1317.88" fill="none" stroke="#b177de" stroke-width="2.9" stroke-linejoin="round" stroke-linecap="round"/>
<rect x="100.7" y="1025.8" width="398.7" height="320.2" fill="none" stroke="#484848" stroke-width="1.3"/>
<line x1="100.7" y1="1346" x2="100.7" y2="1352" stroke="#484848" stroke-width="1.3"/>
<text x="100.7" y="1380.7" font-size="29.7" text-anchor="middle">470</text>
<line x1="180.45" y1="1346" x2="180.45" y2="1352" stroke="#484848" stroke-width="1.3"/>
<text x="180.45" y="1380.7" font-size="29.7" text-anchor="middle">465</text>
<line x1="260.2" y1="1346" x2="260.2" y2="1352" stroke="#484848" stroke-width="1.3"/>
<text x="260.2" y="1380.7" font-size="29.7" text-anchor="middle">460</text>
<line x1="339.95" y1="1346" x2="339.95" y2="1352" stroke="#484848" stroke-width="1.3"/>
<text x="339.95" y="1380.7" font-size="29.7" text-anchor="middle">455</text>
<line x1="419.7" y1="1346" x2="419.7" y2="1352" stroke="#484848" stroke-width="1.3"/>
<text x="419.7" y="1380.7" font-size="29.7" text-anchor="middle">450</text>
<line x1="499.45" y1="1346" x2="499.45" y2="1352" stroke="#484848" stroke-width="1.3"/>
<text x="499.45" y="1380.7" font-size="29.7" text-anchor="middle">445</text>
<line x1="140.57" y1="1346" x2="140.57" y2="1349.2" stroke="#484848" stroke-width="1.3"/>
<line x1="220.32" y1="1346" x2="220.32" y2="1349.2" stroke="#484848" stroke-width="1.3"/>
<line x1="300.07" y1="1346" x2="300.07" y2="1349.2" stroke="#484848" stroke-width="1.3"/>
<line x1="379.82" y1="1346" x2="379.82" y2="1349.2" stroke="#484848" stroke-width="1.3"/>
<line x1="459.57" y1="1346" x2="459.57" y2="1349.2" stroke="#484848" stroke-width="1.3"/>
<text x="294.2" y="1412.7" font-size="30.2" text-anchor="middle">Binding Energy(eV)</text>
<text x="0" y="0" font-size="30.2" text-anchor="middle" transform="translate(83.6 1195) rotate(-90)">Intensity(a.u.)</text>
<text x="495.7" y="1057.3" font-size="30.3" text-anchor="end">Ti 2p</text>
<text x="101.6" y="1161.4" font-size="27">Ti<tspan font-size="18.5" dy="-10.5">4+</tspan><tspan dy="10.5">, 464.6eV</tspan></text>
<text x="322.2" y="1128.1" font-size="27">Ti<tspan font-size="18.5" dy="-10.5">4+</tspan><tspan dy="10.5">, 458.9eV</tspan></text>
<line x1="160.7" y1="1176.9" x2="187.1" y2="1202.1" stroke="#000" stroke-width="2"/>
<line x1="277.4" y1="1063.6" x2="327.1" y2="1085" stroke="#000" stroke-width="2"/>
</g>
<g id="panel-g">
<g fill="none" stroke="#262626" stroke-width="0.7"><circle cx="624.5" cy="1273.32" r="3.4"/><circle cx="626.23" cy="1272.8" r="3.4"/><circle cx="627.96" cy="1272.42" r="3.4"/><circle cx="629.69" cy="1272.01" r="3.4"/><circle cx="631.42" cy="1272.14" r="3.4"/><circle cx="633.15" cy="1271.03" r="3.4"/><circle cx="634.88" cy="1269.93" r="3.4"/><circle cx="636.61" cy="1269.68" r="3.4"/><circle cx="638.34" cy="1268.72" r="3.4"/><circle cx="640.07" cy="1267.04" r="3.4"/><circle cx="641.8" cy="1265.51" r="3.4"/><circle cx="643.53" cy="1264.26" r="3.4"/><circle cx="645.26" cy="1262.74" r="3.4"/><circle cx="646.99" cy="1261.45" r="3.4"/><circle cx="648.72" cy="1259.51" r="3.4"/><circle cx="650.45" cy="1257.8" r="3.4"/><circle cx="652.18" cy="1255.78" r="3.4"/><circle cx="653.91" cy="1253.86" r="3.4"/><circle cx="655.64" cy="1251.73" r="3.4"/><circle cx="657.37" cy="1248.91" r="3.4"/><circle cx="659.1" cy="1245.63" r="3.4"/><circle cx="660.83" cy="1242.4" r="3.4"/><circle cx="662.56" cy="1238.97" r="3.4"/><circle cx="664.29" cy="1234.95" r="3.4"/><circle cx="666.02" cy="1230.73" r="3.4"/><circle cx="667.75" cy="1226.01" r="3.4"/><circle cx="669.48" cy="1221.61" r="3.4"/><circle cx="671.21" cy="1217.67" r="3.4"/><circle cx="672.94" cy="1212.41" r="3.4"/><circle cx="674.67" cy="1208.87" r="3.4"/><circle cx="676.4" cy="1205.91" r="3.4"/><circle cx="678.13" cy="1204.21" r="3.4"/><circle cx="679.86" cy="1203.01" r="3.4"/><circle cx="681.59" cy="1203.95" r="3.4"/><circle cx="683.32" cy="1206.13" r="3.4"/><circle cx="685.05" cy="1209.51" r="3.4"/><circle cx="686.78" cy="1213.43" r="3.4"/><circle cx="688.51" cy="1218.04" r="3.4"/><circle cx="690.24" cy="1221.93" r="3.4"/><circle cx="691.97" cy="1225.6" r="3.4"/><circle cx="693.7" cy="1228.01" r="3.4"/><circle cx="695.43" cy="1231.01" r="3.4"/><circle cx="697.16" cy="1234.7" r="3.4"/><circle cx="698.89" cy="1238.24" r="3.4"/><circle cx="700.62" cy="1241.65" r="3.4"/><circle cx="702.35" cy="1245.91" r="3.4"/><circle cx="704.08" cy="1249.43" r="3.4"/><circle cx="705.81" cy="1253.52" r="3.4"/><circle cx="707.54" cy="1257.12" r="3.4"/><circle cx="709.27" cy="1259.35" r="3.4"/><circle cx="711" cy="1261.02" r="3.4"/><circle cx="712.73" cy="1262.24" r="3.4"/><circle cx="714.46" cy="1262.28" r="3.4"/><circle cx="716.19" cy="1262.78" r="3.4"/><circle cx="717.92" cy="1263.51" r="3.4"/><circle cx="719.65" cy="1264.7" r="3.4"/><circle cx="721.38" cy="1265.79" r="3.4"/><circle cx="723.11" cy="1266.98" r="3.4"/><circle cx="724.84" cy="1267.56" r="3.4"/><circle cx="726.57" cy="1268.07" r="3.4"/><circle cx="728.3" cy="1268.55" r="3.4"/><circle cx="730.03" cy="1268.43" r="3.4"/><circle cx="731.76" cy="1268.61" r="3.4"/><circle cx="733.49" cy="1268.21" r="3.4"/><circle cx="735.22" cy="1269.14" r="3.4"/><circle cx="736.95" cy="1268.87" r="3.4"/><circle cx="738.68" cy="1269.87" r="3.4"/><circle cx="740.41" cy="1269.88" r="3.4"/><circle cx="742.14" cy="1269.68" r="3.4"/><circle cx="743.87" cy="1269.4" r="3.4"/><circle cx="745.6" cy="1269.05" r="3.4"/><circle cx="747.33" cy="1268.44" r="3.4"/><circle cx="749.06" cy="1266.83" r="3.4"/><circle cx="750.79" cy="1263.67" r="3.4"/><circle cx="752.52" cy="1259.94" r="3.4"/><circle cx="754.25" cy="1255.35" r="3.4"/><circle cx="755.98" cy="1248.8" r="3.4"/><circle cx="757.71" cy="1240.24" r="3.4"/><circle cx="759.44" cy="1229.78" r="3.4"/><circle cx="761.17" cy="1217.81" r="3.4"/><circle cx="762.9" cy="1202.76" r="3.4"/><circle cx="764.63" cy="1186.51" r="3.4"/><circle cx="766.36" cy="1168.21" r="3.4"/><circle cx="768.09" cy="1148.71" r="3.4"/><circle cx="769.82" cy="1127.5" r="3.4"/><circle cx="771.55" cy="1107" r="3.4"/><circle cx="773.28" cy="1087.62" r="3.4"/><circle cx="775.01" cy="1072.44" r="3.4"/><circle cx="776.74" cy="1063.74" r="3.4"/><circle cx="778.47" cy="1062.44" r="3.4"/><circle cx="780.2" cy="1066.46" r="3.4"/><circle cx="781.93" cy="1076.95" r="3.4"/><circle cx="783.66" cy="1093.52" r="3.4"/><circle cx="785.39" cy="1114.46" r="3.4"/><circle cx="787.12" cy="1136.29" r="3.4"/><circle cx="788.85" cy="1157.2" r="3.4"/><circle cx="790.58" cy="1176.63" r="3.4"/><circle cx="792.31" cy="1194.42" r="3.4"/><circle cx="794.04" cy="1209.53" r="3.4"/><circle cx="795.77" cy="1221.07" r="3.4"/><circle cx="797.5" cy="1230.59" r="3.4"/><circle cx="799.23" cy="1238.34" r="3.4"/><circle cx="800.96" cy="1243.91" r="3.4"/><circle cx="802.69" cy="1248.12" r="3.4"/><circle cx="804.42" cy="1250.49" r="3.4"/><circle cx="806.15" cy="1253.34" r="3.4"/><circle cx="807.88" cy="1255.37" r="3.4"/><circle cx="809.61" cy="1257.42" r="3.4"/><circle cx="811.34" cy="1259.82" r="3.4"/><circle cx="813.07" cy="1263.74" r="3.4"/><circle cx="814.8" cy="1266.57" r="3.4"/><circle cx="816.53" cy="1270.73" r="3.4"/><circle cx="818.26" cy="1273.76" r="3.4"/><circle cx="819.99" cy="1277.16" r="3.4"/><circle cx="821.72" cy="1280.76" r="3.4"/><circle cx="823.45" cy="1282.93" r="3.4"/><circle cx="825.18" cy="1285.74" r="3.4"/><circle cx="826.91" cy="1286.93" r="3.4"/><circle cx="828.64" cy="1287.78" r="3.4"/><circle cx="830.37" cy="1288.54" r="3.4"/><circle cx="832.1" cy="1289.09" r="3.4"/><circle cx="833.83" cy="1289.43" r="3.4"/><circle cx="835.56" cy="1289.69" r="3.4"/><circle cx="837.29" cy="1288.88" r="3.4"/><circle cx="839.02" cy="1289.3" r="3.4"/><circle cx="840.75" cy="1289.57" r="3.4"/><circle cx="842.48" cy="1291.12" r="3.4"/><circle cx="844.21" cy="1291.42" r="3.4"/><circle cx="845.94" cy="1292.75" r="3.4"/><circle cx="847.67" cy="1294.42" r="3.4"/><circle cx="849.4" cy="1296.64" r="3.4"/><circle cx="851.13" cy="1299.23" r="3.4"/><circle cx="852.86" cy="1301.45" r="3.4"/><circle cx="854.59" cy="1303.6" r="3.4"/><circle cx="856.32" cy="1306.12" r="3.4"/><circle cx="858.05" cy="1308.14" r="3.4"/><circle cx="859.78" cy="1309.38" r="3.4"/><circle cx="861.51" cy="1310.78" r="3.4"/><circle cx="863.24" cy="1312.77" r="3.4"/><circle cx="864.97" cy="1313.58" r="3.4"/><circle cx="866.7" cy="1313.64" r="3.4"/><circle cx="868.43" cy="1314.9" r="3.4"/><circle cx="870.16" cy="1315.12" r="3.4"/><circle cx="871.89" cy="1315.53" r="3.4"/><circle cx="873.62" cy="1315.85" r="3.4"/><circle cx="875.35" cy="1315.99" r="3.4"/><circle cx="877.08" cy="1316.1" r="3.4"/><circle cx="878.81" cy="1316.61" r="3.4"/><circle cx="880.54" cy="1316.9" r="3.4"/><circle cx="882.27" cy="1317.7" r="3.4"/><circle cx="884" cy="1317.05" r="3.4"/><circle cx="885.73" cy="1318.06" r="3.4"/><circle cx="887.46" cy="1317.46" r="3.4"/><circle cx="889.19" cy="1317.75" r="3.4"/><circle cx="890.92" cy="1318.35" r="3.4"/><circle cx="892.65" cy="1318.47" r="3.4"/><circle cx="894.38" cy="1318.2" r="3.4"/><circle cx="896.11" cy="1317.92" r="3.4"/><circle cx="897.84" cy="1318.45" r="3.4"/><circle cx="899.57" cy="1318.44" r="3.4"/><circle cx="901.3" cy="1319.08" r="3.4"/><circle cx="903.03" cy="1318.43" r="3.4"/><circle cx="904.76" cy="1318.68" r="3.4"/><circle cx="906.49" cy="1319.29" r="3.4"/><circle cx="908.22" cy="1318.49" r="3.4"/><circle cx="909.95" cy="1318.94" r="3.4"/><circle cx="911.68" cy="1319.41" r="3.4"/><circle cx="913.41" cy="1319.42" r="3.4"/><circle cx="915.14" cy="1318.75" r="3.4"/><circle cx="916.87" cy="1318.8" r="3.4"/><circle cx="918.6" cy="1318.88" r="3.4"/><circle cx="920.33" cy="1319.78" r="3.4"/><circle cx="922.06" cy="1319.17" r="3.4"/><circle cx="923.79" cy="1319.7" r="3.4"/><circle cx="925.52" cy="1319.89" r="3.4"/><circle cx="927.25" cy="1319.38" r="3.4"/><circle cx="928.98" cy="1319.35" r="3.4"/><circle cx="930.71" cy="1320.07" r="3.4"/><circle cx="932.44" cy="1319.76" r="3.4"/><circle cx="934.17" cy="1319.44" r="3.4"/><circle cx="935.9" cy="1319.93" r="3.4"/><circle cx="937.63" cy="1319.56" r="3.4"/><circle cx="939.36" cy="1319.55" r="3.4"/><circle cx="941.09" cy="1319.31" r="3.4"/><circle cx="942.82" cy="1320.09" r="3.4"/><circle cx="944.55" cy="1320.27" r="3.4"/><circle cx="946.28" cy="1320.02" r="3.4"/><circle cx="948.01" cy="1320.35" r="3.4"/><circle cx="949.74" cy="1319.46" r="3.4"/><circle cx="951.47" cy="1319.69" r="3.4"/><circle cx="953.2" cy="1319.95" r="3.4"/><circle cx="954.93" cy="1320.46" r="3.4"/><circle cx="956.66" cy="1320.47" r="3.4"/><circle cx="958.39" cy="1319.93" r="3.4"/></g>
<polyline points="624.5,1268.72 625.19,1268.66 625.88,1268.6 626.58,1268.54 627.27,1268.47 627.96,1268.4 628.65,1268.33 629.34,1268.26 630.04,1268.18 630.73,1268.1 631.42,1268.01 632.11,1267.93 632.8,1267.83 633.5,1267.74 634.19,1267.64 634.88,1267.53 635.57,1267.42 636.26,1267.3 636.96,1267.18 637.65,1267.04 638.34,1266.9 639.03,1266.75 639.72,1266.59 640.42,1266.42 641.11,1266.23 641.8,1266.03 642.49,1265.82 643.18,1265.59 643.88,1265.34 644.57,1265.07 645.26,1264.78 645.95,1264.46 646.64,1264.12 647.34,1263.75 648.03,1263.35 648.72,1262.91 649.41,1262.44 650.1,1261.92 650.8,1261.37 651.49,1260.76 652.18,1260.11 652.87,1259.41 653.56,1258.65 654.26,1257.83 654.95,1256.95 655.64,1256.01 656.33,1255 657.02,1253.92 657.72,1252.77 658.41,1251.55 659.1,1250.26 659.79,1248.88 660.48,1247.43 661.18,1245.91 661.87,1244.31 662.56,1242.63 663.25,1240.89 663.94,1239.07 664.64,1237.19 665.33,1235.24 666.02,1233.24 666.71,1231.19 667.4,1229.11 668.1,1226.98 668.79,1224.84 669.48,1222.69 670.17,1220.54 670.86,1218.41 671.56,1216.31 672.25,1214.27 672.94,1212.29 673.63,1210.42 674.32,1208.65 675.02,1207.02 675.71,1205.55 676.4,1204.26 677.09,1203.16 677.78,1202.28 678.48,1201.63 679.17,1201.22 679.86,1201.05 680.55,1201.12 681.24,1201.43 681.94,1201.95 682.63,1202.69 683.32,1203.62 684.01,1204.71 684.7,1205.95 685.4,1207.31 686.09,1208.75 686.78,1210.25 687.47,1211.79 688.16,1213.35 688.86,1214.88 689.55,1216.39 690.24,1217.86 690.93,1219.27 691.62,1220.61 692.32,1221.9 693.01,1223.12 693.7,1224.3 694.39,1225.44 695.08,1226.56 695.78,1227.69 696.47,1228.83 697.16,1230.03 697.85,1231.29 698.54,1232.64 699.24,1234.08 699.93,1235.6 700.62,1237.21 701.31,1238.87 702,1240.57 702.7,1242.27 703.39,1243.96 704.08,1245.59 704.77,1247.16 705.46,1248.63 706.16,1250 706.85,1251.25 707.54,1252.37 708.23,1253.36 708.92,1254.22 709.62,1254.95 710.31,1255.57 711,1256.08 711.69,1256.49 712.38,1256.82 713.08,1257.08 713.77,1257.3 714.46,1257.48 715.15,1257.64 715.84,1257.81 716.54,1257.98 717.23,1258.17 717.92,1258.4 718.61,1258.66 719.3,1258.97 720,1259.31 720.69,1259.68 721.38,1260.09 722.07,1260.52 722.76,1260.97 723.46,1261.43 724.15,1261.89 724.84,1262.35 725.53,1262.8 726.22,1263.23 726.92,1263.64 727.61,1264.03 728.3,1264.39 728.99,1264.72 729.68,1265.02 730.38,1265.29 731.07,1265.52 731.76,1265.72 732.45,1265.89 733.14,1266.02 733.84,1266.12 734.53,1266.2 735.22,1266.24 735.91,1266.25 736.6,1266.24 737.3,1266.19 737.99,1266.12 738.68,1266.02 739.37,1265.9 740.06,1265.74 740.76,1265.55 741.45,1265.33 742.14,1265.07 742.83,1264.77 743.52,1264.44 744.22,1264.05 744.91,1263.61 745.6,1263.12 746.29,1262.57 746.98,1261.94 747.68,1261.24 748.37,1260.45 749.06,1259.56 749.75,1258.57 750.44,1257.45 751.14,1256.21 751.83,1254.83 752.52,1253.28 753.21,1251.57 753.9,1249.66 754.6,1247.56 755.29,1245.23 755.98,1242.66 756.67,1239.84 757.36,1236.74 758.06,1233.36 758.75,1229.68 759.44,1225.68 760.13,1221.35 760.82,1216.69 761.52,1211.67 762.21,1206.3 762.9,1200.58 763.59,1194.5 764.28,1188.07 764.98,1181.31 765.67,1174.22 766.36,1166.83 767.05,1159.16 767.74,1151.26 768.44,1143.14 769.13,1134.88 769.82,1126.51 770.51,1118.1 771.2,1109.72 771.9,1101.45 772.59,1093.39 773.28,1085.66 773.97,1078.39 774.66,1071.74 775.36,1065.88 776.05,1061 776.74,1057.26 777.43,1054.82 778.12,1053.81 778.82,1054.28 779.51,1056.23 780.2,1059.6 780.89,1064.26 781.58,1070.05 782.28,1076.78 782.97,1084.26 783.66,1092.3 784.35,1100.74 785.04,1109.44 785.74,1118.26 786.43,1127.12 787.12,1135.92 787.81,1144.59 788.5,1153.07 789.2,1161.3 789.89,1169.24 790.58,1176.85 791.27,1184.1 791.96,1190.96 792.66,1197.42 793.35,1203.47 794.04,1209.09 794.73,1214.3 795.42,1219.09 796.12,1223.47 796.81,1227.46 797.5,1231.06 798.19,1234.29 798.88,1237.18 799.58,1239.74 800.27,1242 800.96,1243.99 801.65,1245.73 802.34,1247.25 803.04,1248.58 803.73,1249.75 804.42,1250.8 805.11,1251.74 805.8,1252.62 806.5,1253.46 807.19,1254.29 807.88,1255.13 808.57,1256.01 809.26,1256.93 809.96,1257.92 810.65,1258.98 811.34,1260.12 812.03,1261.33 812.72,1262.6 813.42,1263.94 814.11,1265.33 814.8,1266.76 815.49,1268.21 816.18,1269.68 816.88,1271.14 817.57,1272.6 818.26,1274.03 818.95,1275.42 819.64,1276.78 820.34,1278.08 821.03,1279.32 821.72,1280.5 822.41,1281.61 823.1,1282.65 823.8,1283.6 824.49,1284.49 825.18,1285.29 825.87,1286 826.56,1286.64 827.26,1287.2 827.95,1287.69 828.64,1288.1 829.33,1288.44 830.02,1288.71 830.72,1288.92 831.41,1289.08 832.1,1289.19 832.79,1289.26 833.48,1289.3 834.18,1289.32 834.87,1289.32 835.56,1289.33 836.25,1289.35 836.94,1289.39 837.64,1289.47 838.33,1289.59 839.02,1289.76 839.71,1290 840.4,1290.31 841.1,1290.69 841.79,1291.14 842.48,1291.67 843.17,1292.26 843.86,1292.92 844.56,1293.64 845.25,1294.41 845.94,1295.23 846.63,1296.07 847.32,1296.94 848.02,1297.83 848.71,1298.72 849.4,1299.62 850.09,1300.51 850.78,1301.39 851.48,1302.26 852.17,1303.11 852.86,1303.94 853.55,1304.74 854.24,1305.51 854.94,1306.26 855.63,1306.97 856.32,1307.65 857.01,1308.3 857.7,1308.92 858.4,1309.5 859.09,1310.05 859.78,1310.56 860.47,1311.05 861.16,1311.5 861.86,1311.93 862.55,1312.33 863.24,1312.7 863.93,1313.04 864.62,1313.37 865.32,1313.66 866.01,1313.94 866.7,1314.2 867.39,1314.44 868.08,1314.67 868.78,1314.88 869.47,1315.07 870.16,1315.26 870.85,1315.43 871.54,1315.59 872.24,1315.74 872.93,1315.88 873.62,1316.02 874.31,1316.15 875,1316.27 875.7,1316.38 876.39,1316.49 877.08,1316.59 877.77,1316.69 878.46,1316.79 879.16,1316.88 879.85,1316.97 880.54,1317.05 881.23,1317.13 881.92,1317.21 882.62,1317.29 883.31,1317.36 884,1317.43 884.69,1317.5 885.38,1317.56 886.08,1317.63 886.77,1317.69 887.46,1317.75 888.15,1317.81 888.84,1317.86 889.54,1317.92 890.23,1317.97 890.92,1318.02 891.61,1318.08 892.3,1318.12 893,1318.17 893.69,1318.22 894.38,1318.26 895.07,1318.31 895.76,1318.35 896.46,1318.39 897.15,1318.43 897.84,1318.47 898.53,1318.51 899.22,1318.55 899.92,1318.59 900.61,1318.62 901.3,1318.66 901.99,1318.69 902.68,1318.72 903.38,1318.76 904.07,1318.79 904.76,1318.82 905.45,1318.85 906.14,1318.88 906.84,1318.91 907.53,1318.94 908.22,1318.96 908.91,1318.99 909.6,1319.02 910.3,1319.04 910.99,1319.07 911.68,1319.09 912.37,1319.12 913.06,1319.14 913.76,1319.16 914.45,1319.19 915.14,1319.21 915.83,1319.23 916.52,1319.25 917.22,1319.27 917.91,1319.29 918.6,1319.31 919.29,1319.33 919.98,1319.35 920.68,1319.37 921.37,1319.39 922.06,1319.41 922.75,1319.43 923.44,1319.45 924.14,1319.46 924.83,1319.48 925.52,1319.5 926.21,1319.51 926.9,1319.53 927.6,1319.54 928.29,1319.56 928.98,1319.57 929.67,1319.59 930.36,1319.6 931.06,1319.62 931.75,1319.63 932.44,1319.65 933.13,1319.66 933.82,1319.67 934.52,1319.69 935.21,1319.7 935.9,1319.71 936.59,1319.73 937.28,1319.74 937.98,1319.75 938.67,1319.76 939.36,1319.77 940.05,1319.79 940.74,1319.8 941.44,1319.81 942.13,1319.82 942.82,1319.83 943.51,1319.84 944.2,1319.85 944.9,1319.86 945.59,1319.87 946.28,1319.88 946.97,1319.89 947.66,1319.9 948.36,1319.91 949.05,1319.92 949.74,1319.93 950.43,1319.94 951.12,1319.95 951.82,1319.96 952.51,1319.97 953.2,1319.98 953.89,1319.99 954.58,1319.99 955.28,1320 955.97,1320.01 956.66,1320.02 957.35,1320.03 958.04,1320.04 958.74,1320.04" fill="none" stroke="#f14040" stroke-width="2.3" stroke-linejoin="round" stroke-linecap="round"/>
<polyline points="624.5,1271.98 625.19,1271.98 625.88,1271.98 626.58,1271.99 627.27,1271.99 627.96,1272 628.65,1272 629.34,1272 630.04,1272.01 630.73,1272.01 631.42,1272.02 632.11,1272.02 632.8,1272.03 633.5,1272.04 634.19,1272.04 634.88,1272.05 635.57,1272.06 636.26,1272.06 636.96,1272.07 637.65,1272.08 638.34,1272.09 639.03,1272.09 639.72,1272.1 640.42,1272.11 641.11,1272.12 641.8,1272.13 642.49,1272.14 643.18,1272.15 643.88,1272.16 644.57,1272.18 645.26,1272.19 645.95,1272.2 646.64,1272.21 647.34,1272.23 648.03,1272.24 648.72,1272.26 649.41,1272.27 650.1,1272.29 650.8,1272.31 651.49,1272.32 652.18,1272.34 652.87,1272.36 653.56,1272.38 654.26,1272.4 654.95,1272.43 655.64,1272.45 656.33,1272.47 657.02,1272.5 657.72,1272.52 658.41,1272.55 659.1,1272.58 659.79,1272.61 660.48,1272.64 661.18,1272.67 661.87,1272.7 662.56,1272.74 663.25,1272.77 663.94,1272.81 664.64,1272.85 665.33,1272.89 666.02,1272.93 666.71,1272.98 667.4,1273.02 668.1,1273.07 668.79,1273.12 669.48,1273.17 670.17,1273.22 670.86,1273.27 671.56,1273.33 672.25,1273.39 672.94,1273.45 673.63,1273.51 674.32,1273.57 675.02,1273.64 675.71,1273.71 676.4,1273.78 677.09,1273.86 677.78,1273.93 678.48,1274.01 679.17,1274.09 679.86,1274.18 680.55,1274.26 681.24,1274.35 681.94,1274.44 682.63,1274.54 683.32,1274.63 684.01,1274.73 684.7,1274.84 685.4,1274.94 686.09,1275.05 686.78,1275.16 687.47,1275.27 688.16,1275.39 688.86,1275.51 689.55,1275.63 690.24,1275.75 690.93,1275.88 691.62,1276.01 692.32,1276.14 693.01,1276.27 693.7,1276.41 694.39,1276.55 695.08,1276.69 695.78,1276.83 696.47,1276.98 697.16,1277.12 697.85,1277.27 698.54,1277.42 699.24,1277.57 699.93,1277.73 700.62,1277.88 701.31,1278.04 702,1278.19 702.7,1278.35 703.39,1278.51 704.08,1278.67 704.77,1278.83 705.46,1278.98 706.16,1279.14 706.85,1279.3 707.54,1279.46 708.23,1279.62 708.92,1279.78 709.62,1279.94 710.31,1280.09 711,1280.25 711.69,1280.41 712.38,1280.56 713.08,1280.71 713.77,1280.86 714.46,1281.01 715.15,1281.16 715.84,1281.3 716.54,1281.45 717.23,1281.59 717.92,1281.73 718.61,1281.86 719.3,1282 720,1282.13 720.69,1282.26 721.38,1282.39 722.07,1282.52 722.76,1282.64 723.46,1282.76 724.15,1282.88 724.84,1282.99 725.53,1283.1 726.22,1283.21 726.92,1283.32 727.61,1283.42 728.3,1283.53 728.99,1283.63 729.68,1283.72 730.38,1283.82 731.07,1283.91 731.76,1284 732.45,1284.08 733.14,1284.17 733.84,1284.25 734.53,1284.33 735.22,1284.41 735.91,1284.49 736.6,1284.56 737.3,1284.63 737.99,1284.7 738.68,1284.77 739.37,1284.83 740.06,1284.9 740.76,1284.96 741.45,1285.02 742.14,1285.08 742.83,1285.14 743.52,1285.2 744.22,1285.26 744.91,1285.31 745.6,1285.37 746.29,1285.42 746.98,1285.47 747.68,1285.53 748.37,1285.58 749.06,1285.63 749.75,1285.68 750.44,1285.74 751.14,1285.79 751.83,1285.85 752.52,1285.9 753.21,1285.96 753.9,1286.02 754.6,1286.08 755.29,1286.14 755.98,1286.21 756.67,1286.27 757.36,1286.35 758.06,1286.42 758.75,1286.5 759.44,1286.59 760.13,1286.68 760.82,1286.78 761.52,1286.89 762.21,1287 762.9,1287.13 763.59,1287.26 764.28,1287.41 764.98,1287.57 765.67,1287.74 766.36,1287.93 767.05,1288.13 767.74,1288.35 768.44,1288.59 769.13,1288.85 769.82,1289.14 770.51,1289.44 771.2,1289.77 771.9,1290.13 772.59,1290.51 773.28,1290.92 773.97,1291.36 774.66,1291.83 775.36,1292.32 776.05,1292.84 776.74,1293.39 777.43,1293.96 778.12,1294.56 778.82,1295.17 779.51,1295.81 780.2,1296.46 780.89,1297.11 781.58,1297.78 782.28,1298.45 782.97,1299.12 783.66,1299.78 784.35,1300.44 785.04,1301.08 785.74,1301.71 786.43,1302.32 787.12,1302.91 787.81,1303.47 788.5,1304.01 789.2,1304.53 789.89,1305.02 790.58,1305.48 791.27,1305.92 791.96,1306.34 792.66,1306.72 793.35,1307.09 794.04,1307.43 794.73,1307.75 795.42,1308.06 796.12,1308.34 796.81,1308.61 797.5,1308.86 798.19,1309.1 798.88,1309.32 799.58,1309.53 800.27,1309.73 800.96,1309.92 801.65,1310.11 802.34,1310.28 803.04,1310.45 803.73,1310.62 804.42,1310.78 805.11,1310.93 805.8,1311.08 806.5,1311.23 807.19,1311.37 807.88,1311.51 808.57,1311.65 809.26,1311.79 809.96,1311.93 810.65,1312.06 811.34,1312.2 812.03,1312.33 812.72,1312.46 813.42,1312.6 814.11,1312.73 814.8,1312.86 815.49,1312.99 816.18,1313.13 816.88,1313.26 817.57,1313.39 818.26,1313.53 818.95,1313.66 819.64,1313.79 820.34,1313.92 821.03,1314.06 821.72,1314.19 822.41,1314.32 823.1,1314.45 823.8,1314.59 824.49,1314.72 825.18,1314.85 825.87,1314.98 826.56,1315.11 827.26,1315.24 827.95,1315.37 828.64,1315.5 829.33,1315.62 830.02,1315.75 830.72,1315.87 831.41,1316 832.1,1316.12 832.79,1316.24 833.48,1316.36 834.18,1316.48 834.87,1316.6 835.56,1316.71 836.25,1316.83 836.94,1316.94 837.64,1317.05 838.33,1317.16 839.02,1317.27 839.71,1317.37 840.4,1317.48 841.1,1317.58 841.79,1317.68 842.48,1317.78 843.17,1317.87 843.86,1317.97 844.56,1318.06 845.25,1318.15 845.94,1318.23 846.63,1318.32 847.32,1318.4 848.02,1318.49 848.71,1318.57 849.4,1318.64 850.09,1318.72 850.78,1318.8 851.48,1318.87 852.17,1318.94 852.86,1319.01 853.55,1319.07 854.24,1319.14 854.94,1319.2 855.63,1319.26 856.32,1319.32 857.01,1319.38 857.7,1319.43 858.4,1319.49 859.09,1319.54 859.78,1319.59 860.47,1319.64 861.16,1319.69 861.86,1319.74 862.55,1319.78 863.24,1319.82 863.93,1319.87 864.62,1319.91 865.32,1319.95 866.01,1319.98 866.7,1320.02 867.39,1320.06 868.08,1320.09 868.78,1320.12 869.47,1320.16 870.16,1320.19 870.85,1320.22 871.54,1320.25 872.24,1320.27 872.93,1320.3 873.62,1320.33 874.31,1320.35 875,1320.38 875.7,1320.4 876.39,1320.42 877.08,1320.44 877.77,1320.46 878.46,1320.48 879.16,1320.5 879.85,1320.52 880.54,1320.54 881.23,1320.56 881.92,1320.58 882.62,1320.59 883.31,1320.61 884,1320.62 884.69,1320.64 885.38,1320.65 886.08,1320.66 886.77,1320.68 887.46,1320.69 888.15,1320.7 888.84,1320.71 889.54,1320.72 890.23,1320.73 890.92,1320.74 891.61,1320.75 892.3,1320.76 893,1320.77 893.69,1320.78 894.38,1320.79 895.07,1320.8 895.76,1320.81 896.46,1320.81 897.15,1320.82 897.84,1320.83 898.53,1320.83 899.22,1320.84 899.92,1320.85 900.61,1320.85 901.3,1320.86 901.99,1320.86 902.68,1320.87 903.38,1320.87 904.07,1320.88 904.76,1320.88 905.45,1320.89 906.14,1320.89 906.84,1320.9 907.53,1320.9 908.22,1320.9 908.91,1320.91 909.6,1320.91 910.3,1320.92 910.99,1320.92 911.68,1320.92 912.37,1320.92 913.06,1320.93 913.76,1320.93 914.45,1320.93 915.14,1320.94 915.83,1320.94 916.52,1320.94 917.22,1320.94 917.91,1320.95 918.6,1320.95 919.29,1320.95 919.98,1320.95 920.68,1320.95 921.37,1320.96 922.06,1320.96 922.75,1320.96 923.44,1320.96 924.14,1320.96 924.83,1320.96 925.52,1320.96 926.21,1320.97 926.9,1320.97 927.6,1320.97 928.29,1320.97 928.98,1320.97 929.67,1320.97 930.36,1320.97 931.06,1320.97 931.75,1320.98 932.44,1320.98 933.13,1320.98 933.82,1320.98 934.52,1320.98 935.21,1320.98 935.9,1320.98 936.59,1320.98 937.28,1320.98 937.98,1320.98 938.67,1320.98 939.36,1320.98 940.05,1320.98 940.74,1320.99 941.44,1320.99 942.13,1320.99 942.82,1320.99 943.51,1320.99 944.2,1320.99 944.9,1320.99 945.59,1320.99 946.28,1320.99 946.97,1320.99 947.66,1320.99 948.36,1320.99 949.05,1320.99 949.74,1320.99 950.43,1320.99 951.12,1320.99 951.82,1320.99 952.51,1320.99 953.2,1320.99 953.89,1320.99 954.58,1320.99 955.28,1320.99 955.97,1320.99 956.66,1320.99 957.35,1320.99 958.04,1320.99 958.74,1320.99" fill="none" stroke="#1a6fdf" stroke-width="2.2" stroke-linejoin="round" stroke-linecap="round"/>
<polyline points="624.5,1271.17 625.19,1271.17 625.88,1271.16 626.58,1271.16 627.27,1271.16 627.96,1271.15 628.65,1271.15 629.34,1271.15 630.04,1271.14 630.73,1271.14 631.42,1271.14 632.11,1271.13 632.8,1271.13 633.5,1271.13 634.19,1271.13 634.88,1271.12 635.57,1271.12 636.26,1271.12 636.96,1271.12 637.65,1271.12 638.34,1271.11 639.03,1271.11 639.72,1271.11 640.42,1271.11 641.11,1271.11 641.8,1271.11 642.49,1271.11 643.18,1271.11 643.88,1271.11 644.57,1271.11 645.26,1271.11 645.95,1271.11 646.64,1271.12 647.34,1271.12 648.03,1271.12 648.72,1271.13 649.41,1271.13 650.1,1271.13 650.8,1271.14 651.49,1271.14 652.18,1271.15 652.87,1271.16 653.56,1271.16 654.26,1271.17 654.95,1271.18 655.64,1271.19 656.33,1271.2 657.02,1271.21 657.72,1271.22 658.41,1271.23 659.1,1271.24 659.79,1271.26 660.48,1271.27 661.18,1271.29 661.87,1271.31 662.56,1271.32 663.25,1271.34 663.94,1271.36 664.64,1271.38 665.33,1271.41 666.02,1271.43 666.71,1271.45 667.4,1271.48 668.1,1271.51 668.79,1271.54 669.48,1271.57 670.17,1271.6 670.86,1271.63 671.56,1271.67 672.25,1271.71 672.94,1271.74 673.63,1271.78 674.32,1271.83 675.02,1271.87 675.71,1271.92 676.4,1271.96 677.09,1272.01 677.78,1272.06 678.48,1272.12 679.17,1272.17 679.86,1272.23 680.55,1272.29 681.24,1272.35 681.94,1272.41 682.63,1272.48 683.32,1272.55 684.01,1272.61 684.7,1272.69 685.4,1272.76 686.09,1272.84 686.78,1272.91 687.47,1272.99 688.16,1273.07 688.86,1273.16 689.55,1273.24 690.24,1273.33 690.93,1273.42 691.62,1273.51 692.32,1273.6 693.01,1273.69 693.7,1273.79 694.39,1273.89 695.08,1273.98 695.78,1274.08 696.47,1274.18 697.16,1274.28 697.85,1274.38 698.54,1274.48 699.24,1274.58 699.93,1274.68 700.62,1274.79 701.31,1274.89 702,1274.99 702.7,1275.09 703.39,1275.19 704.08,1275.29 704.77,1275.38 705.46,1275.48 706.16,1275.57 706.85,1275.66 707.54,1275.75 708.23,1275.84 708.92,1275.93 709.62,1276.01 710.31,1276.09 711,1276.16 711.69,1276.24 712.38,1276.31 713.08,1276.37 713.77,1276.43 714.46,1276.49 715.15,1276.54 715.84,1276.58 716.54,1276.63 717.23,1276.66 717.92,1276.69 718.61,1276.72 719.3,1276.74 720,1276.75 720.69,1276.76 721.38,1276.75 722.07,1276.75 722.76,1276.73 723.46,1276.71 724.15,1276.68 724.84,1276.64 725.53,1276.6 726.22,1276.54 726.92,1276.48 727.61,1276.4 728.3,1276.32 728.99,1276.23 729.68,1276.13 730.38,1276.01 731.07,1275.89 731.76,1275.75 732.45,1275.61 733.14,1275.45 733.84,1275.27 734.53,1275.09 735.22,1274.88 735.91,1274.66 736.6,1274.43 737.3,1274.18 737.99,1273.91 738.68,1273.61 739.37,1273.3 740.06,1272.96 740.76,1272.59 741.45,1272.2 742.14,1271.77 742.83,1271.31 743.52,1270.81 744.22,1270.27 744.91,1269.68 745.6,1269.03 746.29,1268.32 746.98,1267.55 747.68,1266.7 748.37,1265.78 749.06,1264.75 749.75,1263.63 750.44,1262.39 751.14,1261.02 751.83,1259.52 752.52,1257.86 753.21,1256.04 753.9,1254.03 754.6,1251.82 755.29,1249.39 755.98,1246.74 756.67,1243.83 757.36,1240.66 758.06,1237.2 758.75,1233.45 759.44,1229.39 760.13,1225 760.82,1220.28 761.52,1215.22 762.21,1209.81 762.9,1204.05 763.59,1197.94 764.28,1191.48 764.98,1184.7 765.67,1177.6 766.36,1170.2 767.05,1162.54 767.74,1154.65 768.44,1146.57 769.13,1138.36 769.82,1130.08 770.51,1121.81 771.2,1113.64 771.9,1105.66 772.59,1097.99 773.28,1090.75 773.97,1084.07 774.66,1078.09 775.36,1072.95 776.05,1068.78 776.74,1065.69 777.43,1063.78 778.12,1063.12 778.82,1063.73 779.51,1065.64 780.2,1068.8 780.89,1073.13 781.58,1078.53 782.28,1084.88 782.97,1092.04 783.66,1099.86 784.35,1108.19 785.04,1116.91 785.74,1125.88 786.43,1134.99 787.12,1144.13 787.81,1153.23 788.5,1162.2 789.2,1170.98 789.89,1179.52 790.58,1187.78 791.27,1195.72 791.96,1203.33 792.66,1210.58 793.35,1217.46 794.04,1223.97 794.73,1230.1 795.42,1235.85 796.12,1241.23 796.81,1246.26 797.5,1250.93 798.19,1255.26 798.88,1259.28 799.58,1262.98 800.27,1266.4 800.96,1269.54 801.65,1272.43 802.34,1275.08 803.04,1277.51 803.73,1279.74 804.42,1281.78 805.11,1283.65 805.8,1285.37 806.5,1286.95 807.19,1288.4 807.88,1289.73 808.57,1290.96 809.26,1292.1 809.96,1293.16 810.65,1294.14 811.34,1295.06 812.03,1295.91 812.72,1296.71 813.42,1297.47 814.11,1298.18 814.8,1298.86 815.49,1299.5 816.18,1300.1 816.88,1300.68 817.57,1301.24 818.26,1301.77 818.95,1302.28 819.64,1302.77 820.34,1303.25 821.03,1303.7 821.72,1304.15 822.41,1304.57 823.1,1304.99 823.8,1305.39 824.49,1305.78 825.18,1306.16 825.87,1306.52 826.56,1306.88 827.26,1307.23 827.95,1307.57 828.64,1307.9 829.33,1308.22 830.02,1308.53 830.72,1308.84 831.41,1309.13 832.1,1309.42 832.79,1309.71 833.48,1309.98 834.18,1310.25 834.87,1310.51 835.56,1310.77 836.25,1311.02 836.94,1311.26 837.64,1311.5 838.33,1311.73 839.02,1311.96 839.71,1312.18 840.4,1312.39 841.1,1312.6 841.79,1312.81 842.48,1313 843.17,1313.2 843.86,1313.39 844.56,1313.57 845.25,1313.75 845.94,1313.93 846.63,1314.1 847.32,1314.26 848.02,1314.42 848.71,1314.58 849.4,1314.73 850.09,1314.88 850.78,1315.03 851.48,1315.17 852.17,1315.31 852.86,1315.44 853.55,1315.57 854.24,1315.7 854.94,1315.82 855.63,1315.94 856.32,1316.06 857.01,1316.17 857.7,1316.28 858.4,1316.39 859.09,1316.49 859.78,1316.59 860.47,1316.69 861.16,1316.79 861.86,1316.88 862.55,1316.97 863.24,1317.06 863.93,1317.15 864.62,1317.23 865.32,1317.31 866.01,1317.39 866.7,1317.47 867.39,1317.54 868.08,1317.61 868.78,1317.68 869.47,1317.75 870.16,1317.82 870.85,1317.88 871.54,1317.95 872.24,1318.01 872.93,1318.07 873.62,1318.13 874.31,1318.18 875,1318.24 875.7,1318.29 876.39,1318.34 877.08,1318.39 877.77,1318.44 878.46,1318.49 879.16,1318.53 879.85,1318.58 880.54,1318.62 881.23,1318.67 881.92,1318.71 882.62,1318.75 883.31,1318.79 884,1318.83 884.69,1318.86 885.38,1318.9 886.08,1318.94 886.77,1318.97 887.46,1319 888.15,1319.04 888.84,1319.07 889.54,1319.1 890.23,1319.13 890.92,1319.16 891.61,1319.19 892.3,1319.22 893,1319.24 893.69,1319.27 894.38,1319.3 895.07,1319.32 895.76,1319.35 896.46,1319.37 897.15,1319.4 897.84,1319.42 898.53,1319.44 899.22,1319.46 899.92,1319.49 900.61,1319.51 901.3,1319.53 901.99,1319.55 902.68,1319.57 903.38,1319.59 904.07,1319.61 904.76,1319.62 905.45,1319.64 906.14,1319.66 906.84,1319.68 907.53,1319.69 908.22,1319.71 908.91,1319.73 909.6,1319.74 910.3,1319.76 910.99,1319.77 911.68,1319.79 912.37,1319.8 913.06,1319.82 913.76,1319.83 914.45,1319.85 915.14,1319.86 915.83,1319.87 916.52,1319.89 917.22,1319.9 917.91,1319.91 918.6,1319.92 919.29,1319.94 919.98,1319.95 920.68,1319.96 921.37,1319.97 922.06,1319.98 922.75,1319.99 923.44,1320 924.14,1320.01 924.83,1320.02 925.52,1320.03 926.21,1320.04 926.9,1320.05 927.6,1320.06 928.29,1320.07 928.98,1320.08 929.67,1320.09 930.36,1320.1 931.06,1320.11 931.75,1320.12 932.44,1320.13 933.13,1320.14 933.82,1320.14 934.52,1320.15 935.21,1320.16 935.9,1320.17 936.59,1320.18 937.28,1320.18 937.98,1320.19 938.67,1320.2 939.36,1320.21 940.05,1320.21 940.74,1320.22 941.44,1320.23 942.13,1320.23 942.82,1320.24 943.51,1320.25 944.2,1320.25 944.9,1320.26 945.59,1320.27 946.28,1320.27 946.97,1320.28 947.66,1320.29 948.36,1320.29 949.05,1320.3 949.74,1320.3 950.43,1320.31 951.12,1320.32 951.82,1320.32 952.51,1320.33 953.2,1320.33 953.89,1320.34 954.58,1320.34 955.28,1320.35 955.97,1320.35 956.66,1320.36 957.35,1320.36 958.04,1320.37 958.74,1320.37" fill="none" stroke="#37ad6b" stroke-width="2.6" stroke-linejoin="round" stroke-linecap="round"/>
<polyline points="624.5,1271.95 625.19,1271.95 625.88,1271.96 626.58,1271.96 627.27,1271.96 627.96,1271.97 628.65,1271.97 629.34,1271.98 630.04,1271.98 630.73,1271.98 631.42,1271.99 632.11,1271.99 632.8,1272 633.5,1272.01 634.19,1272.01 634.88,1272.02 635.57,1272.02 636.26,1272.03 636.96,1272.04 637.65,1272.05 638.34,1272.05 639.03,1272.06 639.72,1272.07 640.42,1272.08 641.11,1272.09 641.8,1272.1 642.49,1272.11 643.18,1272.12 643.88,1272.13 644.57,1272.14 645.26,1272.15 645.95,1272.17 646.64,1272.18 647.34,1272.19 648.03,1272.21 648.72,1272.22 649.41,1272.24 650.1,1272.25 650.8,1272.27 651.49,1272.29 652.18,1272.31 652.87,1272.33 653.56,1272.35 654.26,1272.37 654.95,1272.39 655.64,1272.41 656.33,1272.43 657.02,1272.46 657.72,1272.49 658.41,1272.51 659.1,1272.54 659.79,1272.57 660.48,1272.6 661.18,1272.63 661.87,1272.66 662.56,1272.7 663.25,1272.73 663.94,1272.77 664.64,1272.81 665.33,1272.85 666.02,1272.89 666.71,1272.93 667.4,1272.98 668.1,1273.02 668.79,1273.07 669.48,1273.12 670.17,1273.17 670.86,1273.23 671.56,1273.28 672.25,1273.34 672.94,1273.4 673.63,1273.46 674.32,1273.53 675.02,1273.59 675.71,1273.66 676.4,1273.73 677.09,1273.81 677.78,1273.88 678.48,1273.96 679.17,1274.04 679.86,1274.12 680.55,1274.21 681.24,1274.3 681.94,1274.39 682.63,1274.48 683.32,1274.58 684.01,1274.68 684.7,1274.78 685.4,1274.89 686.09,1274.99 686.78,1275.1 687.47,1275.22 688.16,1275.33 688.86,1275.45 689.55,1275.57 690.24,1275.69 690.93,1275.82 691.62,1275.95 692.32,1276.08 693.01,1276.21 693.7,1276.35 694.39,1276.49 695.08,1276.63 695.78,1276.77 696.47,1276.91 697.16,1277.06 697.85,1277.21 698.54,1277.36 699.24,1277.51 699.93,1277.66 700.62,1277.81 701.31,1277.97 702,1278.12 702.7,1278.28 703.39,1278.44 704.08,1278.6 704.77,1278.76 705.46,1278.91 706.16,1279.07 706.85,1279.23 707.54,1279.39 708.23,1279.55 708.92,1279.71 709.62,1279.86 710.31,1280.02 711,1280.17 711.69,1280.33 712.38,1280.48 713.08,1280.63 713.77,1280.78 714.46,1280.93 715.15,1281.08 715.84,1281.22 716.54,1281.36 717.23,1281.5 717.92,1281.64 718.61,1281.78 719.3,1281.91 720,1282.04 720.69,1282.17 721.38,1282.3 722.07,1282.42 722.76,1282.55 723.46,1282.66 724.15,1282.78 724.84,1282.89 725.53,1283.01 726.22,1283.11 726.92,1283.22 727.61,1283.32 728.3,1283.42 728.99,1283.52 729.68,1283.62 730.38,1283.71 731.07,1283.8 731.76,1283.89 732.45,1283.97 733.14,1284.06 733.84,1284.14 734.53,1284.22 735.22,1284.29 735.91,1284.37 736.6,1284.44 737.3,1284.51 737.99,1284.58 738.68,1284.64 739.37,1284.71 740.06,1284.77 740.76,1284.83 741.45,1284.89 742.14,1284.95 742.83,1285.01 743.52,1285.06 744.22,1285.12 744.91,1285.17 745.6,1285.22 746.29,1285.28 746.98,1285.33 747.68,1285.38 748.37,1285.43 749.06,1285.48 749.75,1285.53 750.44,1285.58 751.14,1285.63 751.83,1285.68 752.52,1285.74 753.21,1285.79 753.9,1285.85 754.6,1285.9 755.29,1285.96 755.98,1286.03 756.67,1286.09 757.36,1286.16 758.06,1286.24 758.75,1286.31 759.44,1286.4 760.13,1286.49 760.82,1286.58 761.52,1286.68 762.21,1286.8 762.9,1286.92 763.59,1287.05 764.28,1287.19 764.98,1287.35 765.67,1287.51 766.36,1287.7 767.05,1287.9 767.74,1288.11 768.44,1288.35 769.13,1288.61 769.82,1288.88 770.51,1289.18 771.2,1289.51 771.9,1289.86 772.59,1290.24 773.28,1290.64 773.97,1291.08 774.66,1291.54 775.36,1292.02 776.05,1292.54 776.74,1293.08 777.43,1293.65 778.12,1294.24 778.82,1294.85 779.51,1295.47 780.2,1296.11 780.89,1296.76 781.58,1297.42 782.28,1298.08 782.97,1298.75 783.66,1299.4 784.35,1300.05 785.04,1300.68 785.74,1301.3 786.43,1301.9 787.12,1302.47 787.81,1303.03 788.5,1303.56 789.2,1304.06 789.89,1304.54 790.58,1304.99 791.27,1305.42 791.96,1305.82 792.66,1306.19 793.35,1306.54 794.04,1306.87 794.73,1307.18 795.42,1307.46 796.12,1307.73 796.81,1307.98 797.5,1308.21 798.19,1308.43 798.88,1308.63 799.58,1308.82 800.27,1309 800.96,1309.16 801.65,1309.32 802.34,1309.47 803.04,1309.61 803.73,1309.74 804.42,1309.86 805.11,1309.97 805.8,1310.08 806.5,1310.18 807.19,1310.28 807.88,1310.37 808.57,1310.45 809.26,1310.52 809.96,1310.58 810.65,1310.64 811.34,1310.69 812.03,1310.73 812.72,1310.75 813.42,1310.77 814.11,1310.77 814.8,1310.76 815.49,1310.74 816.18,1310.69 816.88,1310.63 817.57,1310.55 818.26,1310.45 818.95,1310.33 819.64,1310.19 820.34,1310.02 821.03,1309.83 821.72,1309.6 822.41,1309.36 823.1,1309.08 823.8,1308.77 824.49,1308.44 825.18,1308.08 825.87,1307.68 826.56,1307.26 827.26,1306.82 827.95,1306.35 828.64,1305.85 829.33,1305.34 830.02,1304.81 830.72,1304.27 831.41,1303.72 832.1,1303.16 832.79,1302.61 833.48,1302.07 834.18,1301.54 834.87,1301.04 835.56,1300.57 836.25,1300.14 836.94,1299.77 837.64,1299.46 838.33,1299.22 839.02,1299.06 839.71,1298.98 840.4,1298.99 841.1,1299.09 841.79,1299.28 842.48,1299.56 843.17,1299.93 843.86,1300.37 844.56,1300.89 845.25,1301.46 845.94,1302.09 846.63,1302.76 847.32,1303.46 848.02,1304.19 848.71,1304.93 849.4,1305.69 850.09,1306.44 850.78,1307.19 851.48,1307.93 852.17,1308.66 852.86,1309.37 853.55,1310.05 854.24,1310.72 854.94,1311.36 855.63,1311.97 856.32,1312.55 857.01,1313.1 857.7,1313.62 858.4,1314.11 859.09,1314.58 859.78,1315.01 860.47,1315.41 861.16,1315.79 861.86,1316.13 862.55,1316.46 863.24,1316.75 863.93,1317.03 864.62,1317.28 865.32,1317.51 866.01,1317.73 866.7,1317.92 867.39,1318.1 868.08,1318.26 868.78,1318.42 869.47,1318.55 870.16,1318.68 870.85,1318.8 871.54,1318.91 872.24,1319 872.93,1319.1 873.62,1319.18 874.31,1319.26 875,1319.33 875.7,1319.4 876.39,1319.47 877.08,1319.53 877.77,1319.58 878.46,1319.64 879.16,1319.69 879.85,1319.73 880.54,1319.78 881.23,1319.82 881.92,1319.86 882.62,1319.9 883.31,1319.94 884,1319.97 884.69,1320.01 885.38,1320.04 886.08,1320.07 886.77,1320.1 887.46,1320.13 888.15,1320.16 888.84,1320.18 889.54,1320.21 890.23,1320.23 890.92,1320.25 891.61,1320.28 892.3,1320.3 893,1320.32 893.69,1320.34 894.38,1320.36 895.07,1320.38 895.76,1320.39 896.46,1320.41 897.15,1320.43 897.84,1320.44 898.53,1320.46 899.22,1320.47 899.92,1320.49 900.61,1320.5 901.3,1320.52 901.99,1320.53 902.68,1320.54 903.38,1320.55 904.07,1320.56 904.76,1320.58 905.45,1320.59 906.14,1320.6 906.84,1320.61 907.53,1320.62 908.22,1320.63 908.91,1320.64 909.6,1320.64 910.3,1320.65 910.99,1320.66 911.68,1320.67 912.37,1320.68 913.06,1320.68 913.76,1320.69 914.45,1320.7 915.14,1320.71 915.83,1320.71 916.52,1320.72 917.22,1320.73 917.91,1320.73 918.6,1320.74 919.29,1320.74 919.98,1320.75 920.68,1320.75 921.37,1320.76 922.06,1320.76 922.75,1320.77 923.44,1320.77 924.14,1320.78 924.83,1320.78 925.52,1320.79 926.21,1320.79 926.9,1320.79 927.6,1320.8 928.29,1320.8 928.98,1320.81 929.67,1320.81 930.36,1320.81 931.06,1320.82 931.75,1320.82 932.44,1320.82 933.13,1320.83 933.82,1320.83 934.52,1320.83 935.21,1320.84 935.9,1320.84 936.59,1320.84 937.28,1320.84 937.98,1320.85 938.67,1320.85 939.36,1320.85 940.05,1320.85 940.74,1320.86 941.44,1320.86 942.13,1320.86 942.82,1320.86 943.51,1320.87 944.2,1320.87 944.9,1320.87 945.59,1320.87 946.28,1320.87 946.97,1320.88 947.66,1320.88 948.36,1320.88 949.05,1320.88 949.74,1320.88 950.43,1320.88 951.12,1320.89 951.82,1320.89 952.51,1320.89 953.2,1320.89 953.89,1320.89 954.58,1320.89 955.28,1320.9 955.97,1320.9 956.66,1320.9 957.35,1320.9 958.04,1320.9 958.74,1320.9" fill="none" stroke="#b177de" stroke-width="2.9" stroke-linejoin="round" stroke-linecap="round"/>
<polyline points="624.5,1271.88 625.19,1271.88 625.88,1271.89 626.58,1271.89 627.27,1271.89 627.96,1271.9 628.65,1271.9 629.34,1271.9 630.04,1271.91 630.73,1271.91 631.42,1271.92 632.11,1271.92 632.8,1271.93 633.5,1271.93 634.19,1271.94 634.88,1271.94 635.57,1271.95 636.26,1271.95 636.96,1271.96 637.65,1271.97 638.34,1271.97 639.03,1271.98 639.72,1271.99 640.42,1272 641.11,1272.01 641.8,1272.01 642.49,1272.02 643.18,1272.03 643.88,1272.04 644.57,1272.05 645.26,1272.07 645.95,1272.08 646.64,1272.09 647.34,1272.1 648.03,1272.12 648.72,1272.13 649.41,1272.14 650.1,1272.16 650.8,1272.18 651.49,1272.19 652.18,1272.21 652.87,1272.23 653.56,1272.25 654.26,1272.27 654.95,1272.29 655.64,1272.31 656.33,1272.33 657.02,1272.36 657.72,1272.38 658.41,1272.41 659.1,1272.43 659.79,1272.46 660.48,1272.49 661.18,1272.52 661.87,1272.55 662.56,1272.59 663.25,1272.62 663.94,1272.66 664.64,1272.69 665.33,1272.73 666.02,1272.77 666.71,1272.81 667.4,1272.86 668.1,1272.9 668.79,1272.95 669.48,1273 670.17,1273.05 670.86,1273.1 671.56,1273.16 672.25,1273.21 672.94,1273.27 673.63,1273.33 674.32,1273.39 675.02,1273.46 675.71,1273.53 676.4,1273.6 677.09,1273.67 677.78,1273.74 678.48,1273.82 679.17,1273.9 679.86,1273.98 680.55,1274.06 681.24,1274.15 681.94,1274.24 682.63,1274.33 683.32,1274.43 684.01,1274.53 684.7,1274.63 685.4,1274.73 686.09,1274.83 686.78,1274.94 687.47,1275.05 688.16,1275.17 688.86,1275.28 689.55,1275.4 690.24,1275.52 690.93,1275.65 691.62,1275.77 692.32,1275.9 693.01,1276.03 693.7,1276.17 694.39,1276.3 695.08,1276.44 695.78,1276.58 696.47,1276.72 697.16,1276.86 697.85,1277.01 698.54,1277.16 699.24,1277.3 699.93,1277.45 700.62,1277.61 701.31,1277.76 702,1277.91 702.7,1278.06 703.39,1278.22 704.08,1278.37 704.77,1278.53 705.46,1278.68 706.16,1278.84 706.85,1279 707.54,1279.15 708.23,1279.3 708.92,1279.46 709.62,1279.61 710.31,1279.76 711,1279.92 711.69,1280.07 712.38,1280.21 713.08,1280.36 713.77,1280.51 714.46,1280.65 715.15,1280.79 715.84,1280.93 716.54,1281.07 717.23,1281.21 717.92,1281.34 718.61,1281.47 719.3,1281.6 720,1281.73 720.69,1281.85 721.38,1281.97 722.07,1282.09 722.76,1282.21 723.46,1282.32 724.15,1282.43 724.84,1282.54 725.53,1282.65 726.22,1282.75 726.92,1282.85 727.61,1282.94 728.3,1283.04 728.99,1283.13 729.68,1283.22 730.38,1283.3 731.07,1283.39 731.76,1283.47 732.45,1283.54 733.14,1283.62 733.84,1283.69 734.53,1283.76 735.22,1283.83 735.91,1283.89 736.6,1283.96 737.3,1284.02 737.99,1284.08 738.68,1284.13 739.37,1284.19 740.06,1284.24 740.76,1284.29 741.45,1284.34 742.14,1284.38 742.83,1284.43 743.52,1284.47 744.22,1284.51 744.91,1284.55 745.6,1284.59 746.29,1284.63 746.98,1284.67 747.68,1284.7 748.37,1284.74 749.06,1284.77 749.75,1284.8 750.44,1284.84 751.14,1284.87 751.83,1284.9 752.52,1284.94 753.21,1284.97 753.9,1285.01 754.6,1285.04 755.29,1285.08 755.98,1285.12 756.67,1285.16 757.36,1285.21 758.06,1285.25 758.75,1285.31 759.44,1285.36 760.13,1285.42 760.82,1285.49 761.52,1285.56 762.21,1285.64 762.9,1285.72 763.59,1285.82 764.28,1285.92 764.98,1286.04 765.67,1286.16 766.36,1286.3 767.05,1286.45 767.74,1286.62 768.44,1286.8 769.13,1287 769.82,1287.22 770.51,1287.46 771.2,1287.72 771.9,1288 772.59,1288.3 773.28,1288.62 773.97,1288.96 774.66,1289.33 775.36,1289.71 776.05,1290.11 776.74,1290.53 777.43,1290.96 778.12,1291.4 778.82,1291.85 779.51,1292.3 780.2,1292.75 780.89,1293.19 781.58,1293.62 782.28,1294.03 782.97,1294.42 783.66,1294.78 784.35,1295.1 785.04,1295.38 785.74,1295.62 786.43,1295.8 787.12,1295.93 787.81,1296 788.5,1296.01 789.2,1295.95 789.89,1295.83 790.58,1295.64 791.27,1295.38 791.96,1295.05 792.66,1294.66 793.35,1294.2 794.04,1293.67 794.73,1293.08 795.42,1292.43 796.12,1291.72 796.81,1290.96 797.5,1290.15 798.19,1289.3 798.88,1288.41 799.58,1287.5 800.27,1286.56 800.96,1285.62 801.65,1284.67 802.34,1283.74 803.04,1282.84 803.73,1281.97 804.42,1281.16 805.11,1280.42 805.8,1279.77 806.5,1279.22 807.19,1278.79 807.88,1278.49 808.57,1278.32 809.26,1278.31 809.96,1278.44 810.65,1278.73 811.34,1279.17 812.03,1279.75 812.72,1280.46 813.42,1281.29 814.11,1282.22 814.8,1283.25 815.49,1284.35 816.18,1285.51 816.88,1286.72 817.57,1287.96 818.26,1289.22 818.95,1290.49 819.64,1291.76 820.34,1293.01 821.03,1294.26 821.72,1295.48 822.41,1296.67 823.1,1297.83 823.8,1298.95 824.49,1300.04 825.18,1301.08 825.87,1302.09 826.56,1303.04 827.26,1303.96 827.95,1304.83 828.64,1305.65 829.33,1306.43 830.02,1307.17 830.72,1307.87 831.41,1308.53 832.1,1309.14 832.79,1309.72 833.48,1310.27 834.18,1310.78 834.87,1311.26 835.56,1311.71 836.25,1312.13 836.94,1312.52 837.64,1312.89 838.33,1313.24 839.02,1313.56 839.71,1313.86 840.4,1314.15 841.1,1314.42 841.79,1314.67 842.48,1314.91 843.17,1315.14 843.86,1315.35 844.56,1315.56 845.25,1315.75 845.94,1315.93 846.63,1316.11 847.32,1316.28 848.02,1316.43 848.71,1316.59 849.4,1316.73 850.09,1316.87 850.78,1317.01 851.48,1317.14 852.17,1317.26 852.86,1317.38 853.55,1317.49 854.24,1317.61 854.94,1317.71 855.63,1317.82 856.32,1317.91 857.01,1318.01 857.7,1318.1 858.4,1318.19 859.09,1318.28 859.78,1318.36 860.47,1318.44 861.16,1318.52 861.86,1318.6 862.55,1318.67 863.24,1318.74 863.93,1318.81 864.62,1318.87 865.32,1318.94 866.01,1319 866.7,1319.06 867.39,1319.12 868.08,1319.17 868.78,1319.22 869.47,1319.28 870.16,1319.33 870.85,1319.37 871.54,1319.42 872.24,1319.47 872.93,1319.51 873.62,1319.55 874.31,1319.59 875,1319.63 875.7,1319.67 876.39,1319.71 877.08,1319.74 877.77,1319.78 878.46,1319.81 879.16,1319.84 879.85,1319.88 880.54,1319.91 881.23,1319.93 881.92,1319.96 882.62,1319.99 883.31,1320.02 884,1320.04 884.69,1320.07 885.38,1320.09 886.08,1320.11 886.77,1320.14 887.46,1320.16 888.15,1320.18 888.84,1320.2 889.54,1320.22 890.23,1320.24 890.92,1320.26 891.61,1320.27 892.3,1320.29 893,1320.31 893.69,1320.32 894.38,1320.34 895.07,1320.36 895.76,1320.37 896.46,1320.38 897.15,1320.4 897.84,1320.41 898.53,1320.42 899.22,1320.44 899.92,1320.45 900.61,1320.46 901.3,1320.47 901.99,1320.48 902.68,1320.49 903.38,1320.5 904.07,1320.52 904.76,1320.52 905.45,1320.53 906.14,1320.54 906.84,1320.55 907.53,1320.56 908.22,1320.57 908.91,1320.58 909.6,1320.59 910.3,1320.59 910.99,1320.6 911.68,1320.61 912.37,1320.62 913.06,1320.62 913.76,1320.63 914.45,1320.64 915.14,1320.64 915.83,1320.65 916.52,1320.66 917.22,1320.66 917.91,1320.67 918.6,1320.67 919.29,1320.68 919.98,1320.68 920.68,1320.69 921.37,1320.69 922.06,1320.7 922.75,1320.7 923.44,1320.71 924.14,1320.71 924.83,1320.72 925.52,1320.72 926.21,1320.73 926.9,1320.73 927.6,1320.73 928.29,1320.74 928.98,1320.74 929.67,1320.75 930.36,1320.75 931.06,1320.75 931.75,1320.76 932.44,1320.76 933.13,1320.76 933.82,1320.77 934.52,1320.77 935.21,1320.77 935.9,1320.78 936.59,1320.78 937.28,1320.78 937.98,1320.78 938.67,1320.79 939.36,1320.79 940.05,1320.79 940.74,1320.79 941.44,1320.8 942.13,1320.8 942.82,1320.8 943.51,1320.8 944.2,1320.81 944.9,1320.81 945.59,1320.81 946.28,1320.81 946.97,1320.82 947.66,1320.82 948.36,1320.82 949.05,1320.82 949.74,1320.82 950.43,1320.83 951.12,1320.83 951.82,1320.83 952.51,1320.83 953.2,1320.83 953.89,1320.84 954.58,1320.84 955.28,1320.84 955.97,1320.84 956.66,1320.84 957.35,1320.84 958.04,1320.85 958.74,1320.85" fill="none" stroke="#cc9900" stroke-width="2.6" stroke-linejoin="round" stroke-linecap="round"/>
<polyline points="624.5,1269.68 625.19,1269.63 625.88,1269.58 626.58,1269.52 627.27,1269.47 627.96,1269.41 628.65,1269.34 629.34,1269.28 630.04,1269.21 630.73,1269.14 631.42,1269.07 632.11,1268.99 632.8,1268.91 633.5,1268.82 634.19,1268.73 634.88,1268.64 635.57,1268.53 636.26,1268.43 636.96,1268.31 637.65,1268.19 638.34,1268.06 639.03,1267.92 639.72,1267.78 640.42,1267.62 641.11,1267.44 641.8,1267.26 642.49,1267.06 643.18,1266.84 643.88,1266.61 644.57,1266.36 645.26,1266.08 645.95,1265.78 646.64,1265.46 647.34,1265.11 648.03,1264.72 648.72,1264.31 649.41,1263.85 650.1,1263.36 650.8,1262.83 651.49,1262.26 652.18,1261.64 652.87,1260.96 653.56,1260.24 654.26,1259.46 654.95,1258.62 655.64,1257.72 656.33,1256.75 657.02,1255.72 657.72,1254.63 658.41,1253.46 659.1,1252.22 659.79,1250.92 660.48,1249.53 661.18,1248.08 661.87,1246.56 662.56,1244.96 663.25,1243.3 663.94,1241.58 664.64,1239.79 665.33,1237.94 666.02,1236.04 666.71,1234.1 667.4,1232.11 668.1,1230.1 668.79,1228.07 669.48,1226.03 670.17,1224 670.86,1221.99 671.56,1220.01 672.25,1218.08 672.94,1216.23 673.63,1214.47 674.32,1212.82 675.02,1211.31 675.71,1209.95 676.4,1208.78 677.09,1207.8 677.78,1207.04 678.48,1206.51 679.17,1206.22 679.86,1206.18 680.55,1206.38 681.24,1206.84 681.94,1207.53 682.63,1208.45 683.32,1209.58 684.01,1210.91 684.7,1212.42 685.4,1214.08 686.09,1215.89 686.78,1217.81 687.47,1219.83 688.16,1221.92 688.86,1224.07 689.55,1226.26 690.24,1228.48 690.93,1230.71 691.62,1232.93 692.32,1235.14 693.01,1237.32 693.7,1239.47 694.39,1241.58 695.08,1243.64 695.78,1245.64 696.47,1247.58 697.16,1249.46 697.85,1251.27 698.54,1253.01 699.24,1254.68 699.93,1256.27 700.62,1257.8 701.31,1259.25 702,1260.62 702.7,1261.92 703.39,1263.16 704.08,1264.32 704.77,1265.42 705.46,1266.46 706.16,1267.43 706.85,1268.35 707.54,1269.21 708.23,1270.01 708.92,1270.77 709.62,1271.48 710.31,1272.14 711,1272.77 711.69,1273.35 712.38,1273.9 713.08,1274.42 713.77,1274.9 714.46,1275.35 715.15,1275.78 715.84,1276.19 716.54,1276.57 717.23,1276.93 717.92,1277.27 718.61,1277.59 719.3,1277.9 720,1278.19 720.69,1278.47 721.38,1278.74 722.07,1278.99 722.76,1279.24 723.46,1279.47 724.15,1279.69 724.84,1279.91 725.53,1280.11 726.22,1280.31 726.92,1280.5 727.61,1280.69 728.3,1280.86 728.99,1281.04 729.68,1281.2 730.38,1281.36 731.07,1281.52 731.76,1281.67 732.45,1281.81 733.14,1281.95 733.84,1282.09 734.53,1282.22 735.22,1282.35 735.91,1282.47 736.6,1282.59 737.3,1282.7 737.99,1282.82 738.68,1282.93 739.37,1283.03 740.06,1283.14 740.76,1283.24 741.45,1283.34 742.14,1283.43 742.83,1283.52 743.52,1283.61 744.22,1283.7 744.91,1283.79 745.6,1283.87 746.29,1283.96 746.98,1284.04 747.68,1284.12 748.37,1284.2 749.06,1284.28 749.75,1284.36 750.44,1284.44 751.14,1284.51 751.83,1284.59 752.52,1284.67 753.21,1284.75 753.9,1284.83 754.6,1284.91 755.29,1284.99 755.98,1285.08 756.67,1285.17 757.36,1285.26 758.06,1285.35 758.75,1285.45 759.44,1285.56 760.13,1285.67 760.82,1285.78 761.52,1285.91 762.21,1286.04 762.9,1286.18 763.59,1286.33 764.28,1286.49 764.98,1286.66 765.67,1286.85 766.36,1287.05 767.05,1287.26 767.74,1287.5 768.44,1287.75 769.13,1288.03 769.82,1288.32 770.51,1288.64 771.2,1288.98 771.9,1289.35 772.59,1289.74 773.28,1290.16 773.97,1290.61 774.66,1291.09 775.36,1291.59 776.05,1292.13 776.74,1292.68 777.43,1293.27 778.12,1293.87 778.82,1294.5 779.51,1295.14 780.2,1295.8 780.89,1296.47 781.58,1297.14 782.28,1297.82 782.97,1298.5 783.66,1299.17 784.35,1299.83 785.04,1300.48 785.74,1301.12 786.43,1301.73 787.12,1302.33 787.81,1302.9 788.5,1303.45 789.2,1303.97 789.89,1304.47 790.58,1304.94 791.27,1305.39 791.96,1305.81 792.66,1306.2 793.35,1306.57 794.04,1306.92 794.73,1307.25 795.42,1307.56 796.12,1307.85 796.81,1308.12 797.5,1308.38 798.19,1308.62 798.88,1308.85 799.58,1309.07 800.27,1309.27 800.96,1309.47 801.65,1309.66 802.34,1309.84 803.04,1310.01 803.73,1310.18 804.42,1310.34 805.11,1310.5 805.8,1310.66 806.5,1310.81 807.19,1310.96 807.88,1311.1 808.57,1311.25 809.26,1311.39 809.96,1311.53 810.65,1311.67 811.34,1311.81 812.03,1311.95 812.72,1312.08 813.42,1312.22 814.11,1312.36 814.8,1312.49 815.49,1312.63 816.18,1312.77 816.88,1312.9 817.57,1313.04 818.26,1313.18 818.95,1313.31 819.64,1313.45 820.34,1313.58 821.03,1313.72 821.72,1313.86 822.41,1313.99 823.1,1314.13 823.8,1314.26 824.49,1314.4 825.18,1314.53 825.87,1314.66 826.56,1314.8 827.26,1314.93 827.95,1315.06 828.64,1315.19 829.33,1315.32 830.02,1315.45 830.72,1315.58 831.41,1315.71 832.1,1315.83 832.79,1315.95 833.48,1316.08 834.18,1316.2 834.87,1316.32 835.56,1316.44 836.25,1316.55 836.94,1316.67 837.64,1316.78 838.33,1316.89 839.02,1317 839.71,1317.11 840.4,1317.22 841.1,1317.32 841.79,1317.42 842.48,1317.52 843.17,1317.62 843.86,1317.72 844.56,1317.81 845.25,1317.9 845.94,1317.99 846.63,1318.08 847.32,1318.17 848.02,1318.25 848.71,1318.33 849.4,1318.41 850.09,1318.49 850.78,1318.57 851.48,1318.64 852.17,1318.71 852.86,1318.78 853.55,1318.85 854.24,1318.92 854.94,1318.98 855.63,1319.04 856.32,1319.1 857.01,1319.16 857.7,1319.22 858.4,1319.28 859.09,1319.33 859.78,1319.38 860.47,1319.44 861.16,1319.48 861.86,1319.53 862.55,1319.58 863.24,1319.62 863.93,1319.67 864.62,1319.71 865.32,1319.75 866.01,1319.79 866.7,1319.83 867.39,1319.87 868.08,1319.9 868.78,1319.94 869.47,1319.97 870.16,1320 870.85,1320.03 871.54,1320.06 872.24,1320.09 872.93,1320.12 873.62,1320.15 874.31,1320.17 875,1320.2 875.7,1320.22 876.39,1320.25 877.08,1320.27 877.77,1320.29 878.46,1320.31 879.16,1320.33 879.85,1320.35 880.54,1320.37 881.23,1320.39 881.92,1320.41 882.62,1320.43 883.31,1320.44 884,1320.46 884.69,1320.48 885.38,1320.49 886.08,1320.5 886.77,1320.52 887.46,1320.53 888.15,1320.55 888.84,1320.56 889.54,1320.57 890.23,1320.58 890.92,1320.59 891.61,1320.6 892.3,1320.61 893,1320.62 893.69,1320.63 894.38,1320.64 895.07,1320.65 895.76,1320.66 896.46,1320.67 897.15,1320.68 897.84,1320.69 898.53,1320.69 899.22,1320.7 899.92,1320.71 900.61,1320.71 901.3,1320.72 901.99,1320.73 902.68,1320.73 903.38,1320.74 904.07,1320.74 904.76,1320.75 905.45,1320.76 906.14,1320.76 906.84,1320.77 907.53,1320.77 908.22,1320.78 908.91,1320.78 909.6,1320.78 910.3,1320.79 910.99,1320.79 911.68,1320.8 912.37,1320.8 913.06,1320.8 913.76,1320.81 914.45,1320.81 915.14,1320.81 915.83,1320.82 916.52,1320.82 917.22,1320.82 917.91,1320.83 918.6,1320.83 919.29,1320.83 919.98,1320.83 920.68,1320.84 921.37,1320.84 922.06,1320.84 922.75,1320.84 923.44,1320.85 924.14,1320.85 924.83,1320.85 925.52,1320.85 926.21,1320.85 926.9,1320.86 927.6,1320.86 928.29,1320.86 928.98,1320.86 929.67,1320.86 930.36,1320.87 931.06,1320.87 931.75,1320.87 932.44,1320.87 933.13,1320.87 933.82,1320.87 934.52,1320.87 935.21,1320.88 935.9,1320.88 936.59,1320.88 937.28,1320.88 937.98,1320.88 938.67,1320.88 939.36,1320.88 940.05,1320.89 940.74,1320.89 941.44,1320.89 942.13,1320.89 942.82,1320.89 943.51,1320.89 944.2,1320.89 944.9,1320.89 945.59,1320.89 946.28,1320.89 946.97,1320.9 947.66,1320.9 948.36,1320.9 949.05,1320.9 949.74,1320.9 950.43,1320.9 951.12,1320.9 951.82,1320.9 952.51,1320.9 953.2,1320.9 953.89,1320.9 954.58,1320.9 955.28,1320.9 955.97,1320.91 956.66,1320.91 957.35,1320.91 958.04,1320.91 958.74,1320.91" fill="none" stroke="#00cbcc" stroke-width="2.6" stroke-linejoin="round" stroke-linecap="round"/>
<polyline points="624.5,1271.96 625.19,1271.96 625.88,1271.96 626.58,1271.97 627.27,1271.97 627.96,1271.98 628.65,1271.98 629.34,1271.98 630.04,1271.99 630.73,1271.99 631.42,1272 632.11,1272 632.8,1272.01 633.5,1272.01 634.19,1272.02 634.88,1272.02 635.57,1272.03 636.26,1272.04 636.96,1272.04 637.65,1272.05 638.34,1272.06 639.03,1272.06 639.72,1272.07 640.42,1272.08 641.11,1272.09 641.8,1272.1 642.49,1272.11 643.18,1272.12 643.88,1272.13 644.57,1272.14 645.26,1272.15 645.95,1272.16 646.64,1272.18 647.34,1272.19 648.03,1272.2 648.72,1272.22 649.41,1272.23 650.1,1272.25 650.8,1272.26 651.49,1272.28 652.18,1272.3 652.87,1272.31 653.56,1272.33 654.26,1272.35 654.95,1272.37 655.64,1272.39 656.33,1272.42 657.02,1272.44 657.72,1272.46 658.41,1272.49 659.1,1272.51 659.79,1272.54 660.48,1272.57 661.18,1272.6 661.87,1272.63 662.56,1272.66 663.25,1272.69 663.94,1272.73 664.64,1272.76 665.33,1272.8 666.02,1272.84 666.71,1272.88 667.4,1272.92 668.1,1272.96 668.79,1273.01 669.48,1273.05 670.17,1273.1 670.86,1273.15 671.56,1273.2 672.25,1273.25 672.94,1273.3 673.63,1273.35 674.32,1273.41 675.02,1273.47 675.71,1273.53 676.4,1273.59 677.09,1273.64 677.78,1273.7 678.48,1273.76 679.17,1273.82 679.86,1273.87 680.55,1273.92 681.24,1273.96 681.94,1273.99 682.63,1274.01 683.32,1274.01 684.01,1273.98 684.7,1273.93 685.4,1273.85 686.09,1273.73 686.78,1273.56 687.47,1273.35 688.16,1273.08 688.86,1272.75 689.55,1272.36 690.24,1271.91 690.93,1271.41 691.62,1270.86 692.32,1270.27 693.01,1269.66 693.7,1269.04 694.39,1268.43 695.08,1267.86 695.78,1267.35 696.47,1266.93 697.16,1266.62 697.85,1266.46 698.54,1266.44 699.24,1266.59 699.93,1266.91 700.62,1267.38 701.31,1267.99 702,1268.71 702.7,1269.52 703.39,1270.4 704.08,1271.3 704.77,1272.21 705.46,1273.12 706.16,1274 706.85,1274.84 707.54,1275.62 708.23,1276.35 708.92,1277.02 709.62,1277.63 710.31,1278.17 711,1278.66 711.69,1279.09 712.38,1279.47 713.08,1279.81 713.77,1280.11 714.46,1280.38 715.15,1280.63 715.84,1280.85 716.54,1281.06 717.23,1281.25 717.92,1281.42 718.61,1281.59 719.3,1281.75 720,1281.91 720.69,1282.05 721.38,1282.19 722.07,1282.33 722.76,1282.47 723.46,1282.6 724.15,1282.72 724.84,1282.84 725.53,1282.96 726.22,1283.08 726.92,1283.19 727.61,1283.3 728.3,1283.41 728.99,1283.52 729.68,1283.62 730.38,1283.72 731.07,1283.81 731.76,1283.9 732.45,1283.99 733.14,1284.08 733.84,1284.17 734.53,1284.25 735.22,1284.33 735.91,1284.41 736.6,1284.49 737.3,1284.56 737.99,1284.63 738.68,1284.7 739.37,1284.77 740.06,1284.84 740.76,1284.9 741.45,1284.97 742.14,1285.03 742.83,1285.09 743.52,1285.15 744.22,1285.21 744.91,1285.26 745.6,1285.32 746.29,1285.37 746.98,1285.43 747.68,1285.48 748.37,1285.54 749.06,1285.59 749.75,1285.64 750.44,1285.7 751.14,1285.75 751.83,1285.81 752.52,1285.86 753.21,1285.92 753.9,1285.98 754.6,1286.04 755.29,1286.11 755.98,1286.17 756.67,1286.24 757.36,1286.32 758.06,1286.39 758.75,1286.47 759.44,1286.56 760.13,1286.65 760.82,1286.75 761.52,1286.86 762.21,1286.98 762.9,1287.1 763.59,1287.24 764.28,1287.38 764.98,1287.54 765.67,1287.72 766.36,1287.9 767.05,1288.11 767.74,1288.33 768.44,1288.57 769.13,1288.83 769.82,1289.12 770.51,1289.42 771.2,1289.75 771.9,1290.11 772.59,1290.49 773.28,1290.9 773.97,1291.34 774.66,1291.81 775.36,1292.3 776.05,1292.82 776.74,1293.37 777.43,1293.94 778.12,1294.54 778.82,1295.16 779.51,1295.79 780.2,1296.44 780.89,1297.1 781.58,1297.77 782.28,1298.44 782.97,1299.1 783.66,1299.77 784.35,1300.42 785.04,1301.07 785.74,1301.69 786.43,1302.3 787.12,1302.89 787.81,1303.46 788.5,1304 789.2,1304.52 789.89,1305.01 790.58,1305.47 791.27,1305.91 791.96,1306.32 792.66,1306.71 793.35,1307.08 794.04,1307.42 794.73,1307.74 795.42,1308.05 796.12,1308.33 796.81,1308.6 797.5,1308.85 798.19,1309.09 798.88,1309.31 799.58,1309.52 800.27,1309.72 800.96,1309.91 801.65,1310.1 802.34,1310.27 803.04,1310.44 803.73,1310.61 804.42,1310.77 805.11,1310.92 805.8,1311.07 806.5,1311.22 807.19,1311.36 807.88,1311.5 808.57,1311.64 809.26,1311.78 809.96,1311.92 810.65,1312.05 811.34,1312.19 812.03,1312.32 812.72,1312.45 813.42,1312.59 814.11,1312.72 814.8,1312.85 815.49,1312.99 816.18,1313.12 816.88,1313.25 817.57,1313.38 818.26,1313.52 818.95,1313.65 819.64,1313.78 820.34,1313.92 821.03,1314.05 821.72,1314.18 822.41,1314.31 823.1,1314.45 823.8,1314.58 824.49,1314.71 825.18,1314.84 825.87,1314.97 826.56,1315.1 827.26,1315.23 827.95,1315.36 828.64,1315.49 829.33,1315.62 830.02,1315.74 830.72,1315.87 831.41,1315.99 832.1,1316.11 832.79,1316.24 833.48,1316.36 834.18,1316.47 834.87,1316.59 835.56,1316.71 836.25,1316.82 836.94,1316.93 837.64,1317.04 838.33,1317.15 839.02,1317.26 839.71,1317.37 840.4,1317.47 841.1,1317.57 841.79,1317.67 842.48,1317.77 843.17,1317.87 843.86,1317.96 844.56,1318.05 845.25,1318.14 845.94,1318.23 846.63,1318.32 847.32,1318.4 848.02,1318.48 848.71,1318.56 849.4,1318.64 850.09,1318.72 850.78,1318.79 851.48,1318.86 852.17,1318.93 852.86,1319 853.55,1319.07 854.24,1319.13 854.94,1319.2 855.63,1319.26 856.32,1319.32 857.01,1319.37 857.7,1319.43 858.4,1319.48 859.09,1319.54 859.78,1319.59 860.47,1319.64 861.16,1319.69 861.86,1319.73 862.55,1319.78 863.24,1319.82 863.93,1319.86 864.62,1319.9 865.32,1319.94 866.01,1319.98 866.7,1320.02 867.39,1320.05 868.08,1320.09 868.78,1320.12 869.47,1320.15 870.16,1320.18 870.85,1320.21 871.54,1320.24 872.24,1320.27 872.93,1320.3 873.62,1320.32 874.31,1320.35 875,1320.37 875.7,1320.4 876.39,1320.42 877.08,1320.44 877.77,1320.46 878.46,1320.48 879.16,1320.5 879.85,1320.52 880.54,1320.54 881.23,1320.56 881.92,1320.57 882.62,1320.59 883.31,1320.6 884,1320.62 884.69,1320.63 885.38,1320.65 886.08,1320.66 886.77,1320.67 887.46,1320.69 888.15,1320.7 888.84,1320.71 889.54,1320.72 890.23,1320.73 890.92,1320.74 891.61,1320.75 892.3,1320.76 893,1320.77 893.69,1320.78 894.38,1320.79 895.07,1320.8 895.76,1320.8 896.46,1320.81 897.15,1320.82 897.84,1320.82 898.53,1320.83 899.22,1320.84 899.92,1320.84 900.61,1320.85 901.3,1320.86 901.99,1320.86 902.68,1320.87 903.38,1320.87 904.07,1320.88 904.76,1320.88 905.45,1320.89 906.14,1320.89 906.84,1320.89 907.53,1320.9 908.22,1320.9 908.91,1320.91 909.6,1320.91 910.3,1320.91 910.99,1320.92 911.68,1320.92 912.37,1320.92 913.06,1320.93 913.76,1320.93 914.45,1320.93 915.14,1320.93 915.83,1320.94 916.52,1320.94 917.22,1320.94 917.91,1320.94 918.6,1320.95 919.29,1320.95 919.98,1320.95 920.68,1320.95 921.37,1320.95 922.06,1320.95 922.75,1320.96 923.44,1320.96 924.14,1320.96 924.83,1320.96 925.52,1320.96 926.21,1320.96 926.9,1320.97 927.6,1320.97 928.29,1320.97 928.98,1320.97 929.67,1320.97 930.36,1320.97 931.06,1320.97 931.75,1320.97 932.44,1320.97 933.13,1320.98 933.82,1320.98 934.52,1320.98 935.21,1320.98 935.9,1320.98 936.59,1320.98 937.28,1320.98 937.98,1320.98 938.67,1320.98 939.36,1320.98 940.05,1320.98 940.74,1320.98 941.44,1320.98 942.13,1320.98 942.82,1320.99 943.51,1320.99 944.2,1320.99 944.9,1320.99 945.59,1320.99 946.28,1320.99 946.97,1320.99 947.66,1320.99 948.36,1320.99 949.05,1320.99 949.74,1320.99 950.43,1320.99 951.12,1320.99 951.82,1320.99 952.51,1320.99 953.2,1320.99 953.89,1320.99 954.58,1320.99 955.28,1320.99 955.97,1320.99 956.66,1320.99 957.35,1320.99 958.04,1320.99 958.74,1320.99" fill="none" stroke="#7d4e4e" stroke-width="2.6" stroke-linejoin="round" stroke-linecap="round"/>
<polyline points="624.5,1271.96 625.19,1271.97 625.88,1271.97 626.58,1271.98 627.27,1271.98 627.96,1271.98 628.65,1271.99 629.34,1271.99 630.04,1272 630.73,1272 631.42,1272.01 632.11,1272.01 632.8,1272.02 633.5,1272.02 634.19,1272.03 634.88,1272.03 635.57,1272.04 636.26,1272.05 636.96,1272.05 637.65,1272.06 638.34,1272.07 639.03,1272.08 639.72,1272.09 640.42,1272.09 641.11,1272.1 641.8,1272.11 642.49,1272.12 643.18,1272.13 643.88,1272.14 644.57,1272.16 645.26,1272.17 645.95,1272.18 646.64,1272.19 647.34,1272.21 648.03,1272.22 648.72,1272.24 649.41,1272.25 650.1,1272.27 650.8,1272.28 651.49,1272.3 652.18,1272.32 652.87,1272.34 653.56,1272.36 654.26,1272.38 654.95,1272.4 655.64,1272.42 656.33,1272.45 657.02,1272.47 657.72,1272.5 658.41,1272.52 659.1,1272.55 659.79,1272.58 660.48,1272.61 661.18,1272.64 661.87,1272.67 662.56,1272.7 663.25,1272.74 663.94,1272.78 664.64,1272.81 665.33,1272.85 666.02,1272.89 666.71,1272.94 667.4,1272.98 668.1,1273.03 668.79,1273.07 669.48,1273.12 670.17,1273.17 670.86,1273.23 671.56,1273.28 672.25,1273.34 672.94,1273.4 673.63,1273.46 674.32,1273.52 675.02,1273.59 675.71,1273.65 676.4,1273.72 677.09,1273.79 677.78,1273.87 678.48,1273.95 679.17,1274.02 679.86,1274.11 680.55,1274.19 681.24,1274.28 681.94,1274.37 682.63,1274.46 683.32,1274.55 684.01,1274.65 684.7,1274.75 685.4,1274.85 686.09,1274.95 686.78,1275.06 687.47,1275.17 688.16,1275.28 688.86,1275.39 689.55,1275.51 690.24,1275.62 690.93,1275.74 691.62,1275.86 692.32,1275.98 693.01,1276.1 693.7,1276.23 694.39,1276.35 695.08,1276.47 695.78,1276.59 696.47,1276.7 697.16,1276.81 697.85,1276.92 698.54,1277.02 699.24,1277.1 699.93,1277.18 700.62,1277.25 701.31,1277.3 702,1277.34 702.7,1277.35 703.39,1277.35 704.08,1277.32 704.77,1277.27 705.46,1277.2 706.16,1277.1 706.85,1276.97 707.54,1276.83 708.23,1276.65 708.92,1276.46 709.62,1276.25 710.31,1276.03 711,1275.8 711.69,1275.57 712.38,1275.35 713.08,1275.14 713.77,1274.95 714.46,1274.79 715.15,1274.67 715.84,1274.6 716.54,1274.58 717.23,1274.62 717.92,1274.73 718.61,1274.9 719.3,1275.13 720,1275.43 720.69,1275.78 721.38,1276.17 722.07,1276.6 722.76,1277.07 723.46,1277.55 724.15,1278.04 724.84,1278.54 725.53,1279.04 726.22,1279.53 726.92,1280 727.61,1280.46 728.3,1280.89 728.99,1281.3 729.68,1281.68 730.38,1282.03 731.07,1282.36 731.76,1282.65 732.45,1282.93 733.14,1283.17 733.84,1283.4 734.53,1283.6 735.22,1283.78 735.91,1283.94 736.6,1284.09 737.3,1284.22 737.99,1284.35 738.68,1284.46 739.37,1284.56 740.06,1284.65 740.76,1284.74 741.45,1284.82 742.14,1284.9 742.83,1284.97 743.52,1285.04 744.22,1285.11 744.91,1285.17 745.6,1285.24 746.29,1285.3 746.98,1285.36 747.68,1285.42 748.37,1285.47 749.06,1285.53 749.75,1285.59 750.44,1285.64 751.14,1285.7 751.83,1285.76 752.52,1285.82 753.21,1285.88 753.9,1285.94 754.6,1286 755.29,1286.07 755.98,1286.14 756.67,1286.21 757.36,1286.28 758.06,1286.36 758.75,1286.44 759.44,1286.53 760.13,1286.63 760.82,1286.73 761.52,1286.84 762.21,1286.95 762.9,1287.08 763.59,1287.21 764.28,1287.36 764.98,1287.52 765.67,1287.7 766.36,1287.88 767.05,1288.09 767.74,1288.31 768.44,1288.55 769.13,1288.81 769.82,1289.1 770.51,1289.41 771.2,1289.74 771.9,1290.09 772.59,1290.48 773.28,1290.89 773.97,1291.33 774.66,1291.79 775.36,1292.29 776.05,1292.81 776.74,1293.36 777.43,1293.93 778.12,1294.53 778.82,1295.15 779.51,1295.78 780.2,1296.43 780.89,1297.09 781.58,1297.76 782.28,1298.43 782.97,1299.1 783.66,1299.76 784.35,1300.42 785.04,1301.06 785.74,1301.69 786.43,1302.3 787.12,1302.88 787.81,1303.45 788.5,1303.99 789.2,1304.51 789.89,1305 790.58,1305.46 791.27,1305.9 791.96,1306.32 792.66,1306.71 793.35,1307.07 794.04,1307.41 794.73,1307.74 795.42,1308.04 796.12,1308.32 796.81,1308.59 797.5,1308.84 798.19,1309.08 798.88,1309.3 799.58,1309.52 800.27,1309.72 800.96,1309.91 801.65,1310.09 802.34,1310.27 803.04,1310.44 803.73,1310.6 804.42,1310.76 805.11,1310.92 805.8,1311.07 806.5,1311.21 807.19,1311.36 807.88,1311.5 808.57,1311.64 809.26,1311.78 809.96,1311.91 810.65,1312.05 811.34,1312.18 812.03,1312.32 812.72,1312.45 813.42,1312.58 814.11,1312.72 814.8,1312.85 815.49,1312.98 816.18,1313.12 816.88,1313.25 817.57,1313.38 818.26,1313.51 818.95,1313.65 819.64,1313.78 820.34,1313.91 821.03,1314.05 821.72,1314.18 822.41,1314.31 823.1,1314.44 823.8,1314.58 824.49,1314.71 825.18,1314.84 825.87,1314.97 826.56,1315.1 827.26,1315.23 827.95,1315.36 828.64,1315.49 829.33,1315.61 830.02,1315.74 830.72,1315.87 831.41,1315.99 832.1,1316.11 832.79,1316.23 833.48,1316.35 834.18,1316.47 834.87,1316.59 835.56,1316.71 836.25,1316.82 836.94,1316.93 837.64,1317.04 838.33,1317.15 839.02,1317.26 839.71,1317.37 840.4,1317.47 841.1,1317.57 841.79,1317.67 842.48,1317.77 843.17,1317.86 843.86,1317.96 844.56,1318.05 845.25,1318.14 845.94,1318.23 846.63,1318.31 847.32,1318.4 848.02,1318.48 848.71,1318.56 849.4,1318.64 850.09,1318.72 850.78,1318.79 851.48,1318.86 852.17,1318.93 852.86,1319 853.55,1319.07 854.24,1319.13 854.94,1319.19 855.63,1319.26 856.32,1319.32 857.01,1319.37 857.7,1319.43 858.4,1319.48 859.09,1319.54 859.78,1319.59 860.47,1319.64 861.16,1319.68 861.86,1319.73 862.55,1319.78 863.24,1319.82 863.93,1319.86 864.62,1319.9 865.32,1319.94 866.01,1319.98 866.7,1320.02 867.39,1320.05 868.08,1320.09 868.78,1320.12 869.47,1320.15 870.16,1320.18 870.85,1320.21 871.54,1320.24 872.24,1320.27 872.93,1320.3 873.62,1320.32 874.31,1320.35 875,1320.37 875.7,1320.4 876.39,1320.42 877.08,1320.44 877.77,1320.46 878.46,1320.48 879.16,1320.5 879.85,1320.52 880.54,1320.54 881.23,1320.55 881.92,1320.57 882.62,1320.59 883.31,1320.6 884,1320.62 884.69,1320.63 885.38,1320.65 886.08,1320.66 886.77,1320.67 887.46,1320.69 888.15,1320.7 888.84,1320.71 889.54,1320.72 890.23,1320.73 890.92,1320.74 891.61,1320.75 892.3,1320.76 893,1320.77 893.69,1320.78 894.38,1320.79 895.07,1320.79 895.76,1320.8 896.46,1320.81 897.15,1320.82 897.84,1320.82 898.53,1320.83 899.22,1320.84 899.92,1320.84 900.61,1320.85 901.3,1320.86 901.99,1320.86 902.68,1320.87 903.38,1320.87 904.07,1320.88 904.76,1320.88 905.45,1320.89 906.14,1320.89 906.84,1320.89 907.53,1320.9 908.22,1320.9 908.91,1320.91 909.6,1320.91 910.3,1320.91 910.99,1320.92 911.68,1320.92 912.37,1320.92 913.06,1320.93 913.76,1320.93 914.45,1320.93 915.14,1320.93 915.83,1320.94 916.52,1320.94 917.22,1320.94 917.91,1320.94 918.6,1320.94 919.29,1320.95 919.98,1320.95 920.68,1320.95 921.37,1320.95 922.06,1320.95 922.75,1320.96 923.44,1320.96 924.14,1320.96 924.83,1320.96 925.52,1320.96 926.21,1320.96 926.9,1320.97 927.6,1320.97 928.29,1320.97 928.98,1320.97 929.67,1320.97 930.36,1320.97 931.06,1320.97 931.75,1320.97 932.44,1320.97 933.13,1320.98 933.82,1320.98 934.52,1320.98 935.21,1320.98 935.9,1320.98 936.59,1320.98 937.28,1320.98 937.98,1320.98 938.67,1320.98 939.36,1320.98 940.05,1320.98 940.74,1320.98 941.44,1320.98 942.13,1320.98 942.82,1320.98 943.51,1320.99 944.2,1320.99 944.9,1320.99 945.59,1320.99 946.28,1320.99 946.97,1320.99 947.66,1320.99 948.36,1320.99 949.05,1320.99 949.74,1320.99 950.43,1320.99 951.12,1320.99 951.82,1320.99 952.51,1320.99 953.2,1320.99 953.89,1320.99 954.58,1320.99 955.28,1320.99 955.97,1320.99 956.66,1320.99 957.35,1320.99 958.04,1320.99 958.74,1320.99" fill="none" stroke="#8e8e00" stroke-width="2.9" stroke-linejoin="round" stroke-linecap="round"/>
<rect x="589.9" y="1027.4" width="398.3" height="321.2" fill="none" stroke="#2c2c2c" stroke-width="1.3"/>
<line x1="589.9" y1="1348.6" x2="589.9" y2="1354.6" stroke="#2c2c2c" stroke-width="1.3"/>
<text x="589.9" y="1382.6" font-size="29.7" text-anchor="middle">470</text>
<line x1="676.4" y1="1348.6" x2="676.4" y2="1354.6" stroke="#2c2c2c" stroke-width="1.3"/>
<text x="676.4" y="1382.6" font-size="29.7" text-anchor="middle">465</text>
<line x1="762.9" y1="1348.6" x2="762.9" y2="1354.6" stroke="#2c2c2c" stroke-width="1.3"/>
<text x="762.9" y="1382.6" font-size="29.7" text-anchor="middle">460</text>
<line x1="849.4" y1="1348.6" x2="849.4" y2="1354.6" stroke="#2c2c2c" stroke-width="1.3"/>
<text x="849.4" y="1382.6" font-size="29.7" text-anchor="middle">455</text>
<line x1="935.9" y1="1348.6" x2="935.9" y2="1354.6" stroke="#2c2c2c" stroke-width="1.3"/>
<text x="935.9" y="1382.6" font-size="29.7" text-anchor="middle">450</text>
<text x="803.3" y="1414" font-size="30.2" text-anchor="middle">Binding Energy (eV)</text>
<text x="0" y="0" font-size="30.4" text-anchor="middle" transform="translate(577.6 1213.8) rotate(-90)">Intensity (a.u.)</text>
<text x="984.3" y="1061" font-size="30.3" text-anchor="end">Ti 2p</text>
<text x="601" y="1148.6" font-size="27">Ti<tspan font-size="18.5" dy="-10.5">4+</tspan><tspan dy="10.5">, 464.7eV</tspan></text>
<text x="805.4" y="1129" font-size="27">Ti<tspan font-size="18.5" dy="-10.5">4+</tspan><tspan dy="10.5">, 459.1eV</tspan></text>
<text x="803" y="1197.9" font-size="27" fill="#e41a1c">Ti<tspan font-size="18.5" dy="-10.5">3+</tspan><tspan dy="10.5">, 457.3eV</tspan></text>
<text x="822.4" y="1262.1" font-size="27" fill="#8020ff">Ti<tspan font-size="18.5" dy="-10.5">2+</tspan><tspan dy="10.5">, 455.5eV</tspan></text>
<line x1="657.1" y1="1156.4" x2="679.3" y2="1209.3" stroke="#000" stroke-width="2"/>
<line x1="778.6" y1="1064.3" x2="829.9" y2="1098.5" stroke="#000" stroke-width="2"/>
<line x1="828.3" y1="1202.9" x2="809.3" y2="1278.6" stroke="#000" stroke-width="2"/>
<line x1="883.6" y1="1272.1" x2="841" y2="1298.6" stroke="#000" stroke-width="2"/>
</g>
<g id="panel-h">
<circle cx="1476.7" cy="909.3" r="64.3" fill="#66ccff"/>
<circle cx="1653.3" cy="909.7" r="63.7" fill="#ff9494"/>
<text x="1653.6" y="902.2" font-size="32" text-anchor="middle">Metallic</text>
<text x="1654.3" y="938.5" font-size="31.8" text-anchor="middle">Nickel</text>
<rect x="1385.9" y="939.5" width="346.3" height="74.6" fill="#b0b0b0" rx="11"/>
<text x="1475.3" y="916.3" font-size="31.3" text-anchor="middle">Ti<tspan font-size="23.5" dy="-10.8">2+</tspan><tspan dy="10.8">,Ti</tspan><tspan font-size="23.5" dy="-10.8">3+</tspan></text>
<text x="1553.8" y="988" font-size="32.1" text-anchor="middle">Support</text>
<circle cx="1119" cy="1303.5" r="64.7" fill="#66ccff"/>
<circle cx="1300.9" cy="1305.5" r="63.6" fill="#ff9494"/>
<text x="1301.4" y="1298.2" font-size="32" text-anchor="middle">Metallic</text>
<text x="1301.4" y="1334.7" font-size="31.8" text-anchor="middle">Nickel</text>
<rect x="1033.1" y="1335.4" width="346.1" height="75.5" fill="#b0b0b0" rx="11"/>
<text x="1116.7" y="1310.7" font-size="31.3" text-anchor="middle">Ti<tspan font-size="23.5" dy="-10.8">2+</tspan><tspan dy="10.8">,Ti</tspan><tspan font-size="23.5" dy="-10.8">3+</tspan></text>
<text x="1200.8" y="1384" font-size="32.1" text-anchor="middle">Support</text>
<text x="1177.8" y="813" font-size="30.5">R</text>
<text x="1201" y="820" font-size="22">1</text>
<text x="1225.7" y="756" font-size="30.5">O</text>
<line x1="1235.6" y1="759.6" x2="1235.6" y2="785.5" stroke="#000" stroke-width="2"/>
<line x1="1241.6" y1="759.6" x2="1241.6" y2="782.5" stroke="#000" stroke-width="2"/>
<line x1="1209" y1="799.3" x2="1238.6" y2="784.4" stroke="#000" stroke-width="2" stroke-linecap="round"/>
<line x1="1238.6" y1="784.4" x2="1258" y2="794.4" stroke="#000" stroke-width="2" stroke-linecap="round"/>
<text x="1258.7" y="813" font-size="30.5">O</text>
<line x1="1284" y1="794.4" x2="1291" y2="791" stroke="#000" stroke-width="2"/>
<text x="1292.2" y="794" font-size="30.5">R</text>
<text x="1315.3" y="801" font-size="22">2</text>
<text x="1490.8" y="768" font-size="30.5">R</text>
<text x="1514.5" y="775" font-size="22">1</text>
<line x1="1522.4" y1="754" x2="1556" y2="736" stroke="#000" stroke-width="2" stroke-linecap="round"/>
<line x1="1553" y1="708" x2="1553" y2="737" stroke="#000" stroke-width="2"/>
<line x1="1559.6" y1="708" x2="1559.6" y2="737" stroke="#000" stroke-width="2"/>
<text x="1542.7" y="703" font-size="30.5">O</text>
<line x1="1556" y1="736" x2="1579" y2="748" stroke="#000" stroke-width="2" stroke-linecap="round"/>
<text x="1581.4" y="768" font-size="30.5" fill="#0000ff">N</text>
<text x="1581.4" y="795" font-size="30.5" fill="#0000ff">H</text>
<line x1="1606" y1="749.6" x2="1617" y2="743.6" stroke="#000" stroke-width="2"/>
<text x="1618.8" y="747" font-size="30.5">R</text>
<text x="1096.7" y="1218" font-size="31.5">R</text>
<line x1="1122.4" y1="1206.6" x2="1138" y2="1206.6" stroke="#000" stroke-width="1.6"/>
<text x="1137.4" y="1218" font-size="31.5" fill="#0000ff">NO</text>
<text x="1185" y="1224" font-size="22" fill="#0000ff">2</text>
<text x="1318.7" y="1078" font-size="31.5">R</text>
<line x1="1343.6" y1="1066" x2="1367" y2="1066" stroke="#000" stroke-width="1.6"/>
<text x="1366.2" y="1078" font-size="31.5" fill="#0000ff">NH</text>
<text x="1411.8" y="1084" font-size="22" fill="#0000ff">2</text>
<path d="M1272 847 C1300.6 888.6 1379.4 901.5 1420 869" stroke="#000" stroke-width="1.9" fill="none"/>
<path d="M1427 864.2 L1414.85 878.96 L1415.33 872.68 L1409.21 871.19 Z" fill="#000"/>
<path d="M1361.4 1043 C1347.2 924.4 1454.7 813.1 1540 799.5" stroke="#000" stroke-width="1.9" fill="none"/>
<path d="M1548 797.3 L1530.75 806.65 L1533.62 800.89 L1528.38 797.14 Z" fill="#000"/>
<path d="M1203 1238.4 C1274.6 1269.9 1388 1214 1393.2 1112" stroke="#000" stroke-width="1.9" fill="none"/>
<path d="M1393.8 1097.6 L1398.03 1116.76 L1393.28 1112.41 L1388.24 1116.42 Z" fill="#000"/>
</g>
</svg>
</body></html>
